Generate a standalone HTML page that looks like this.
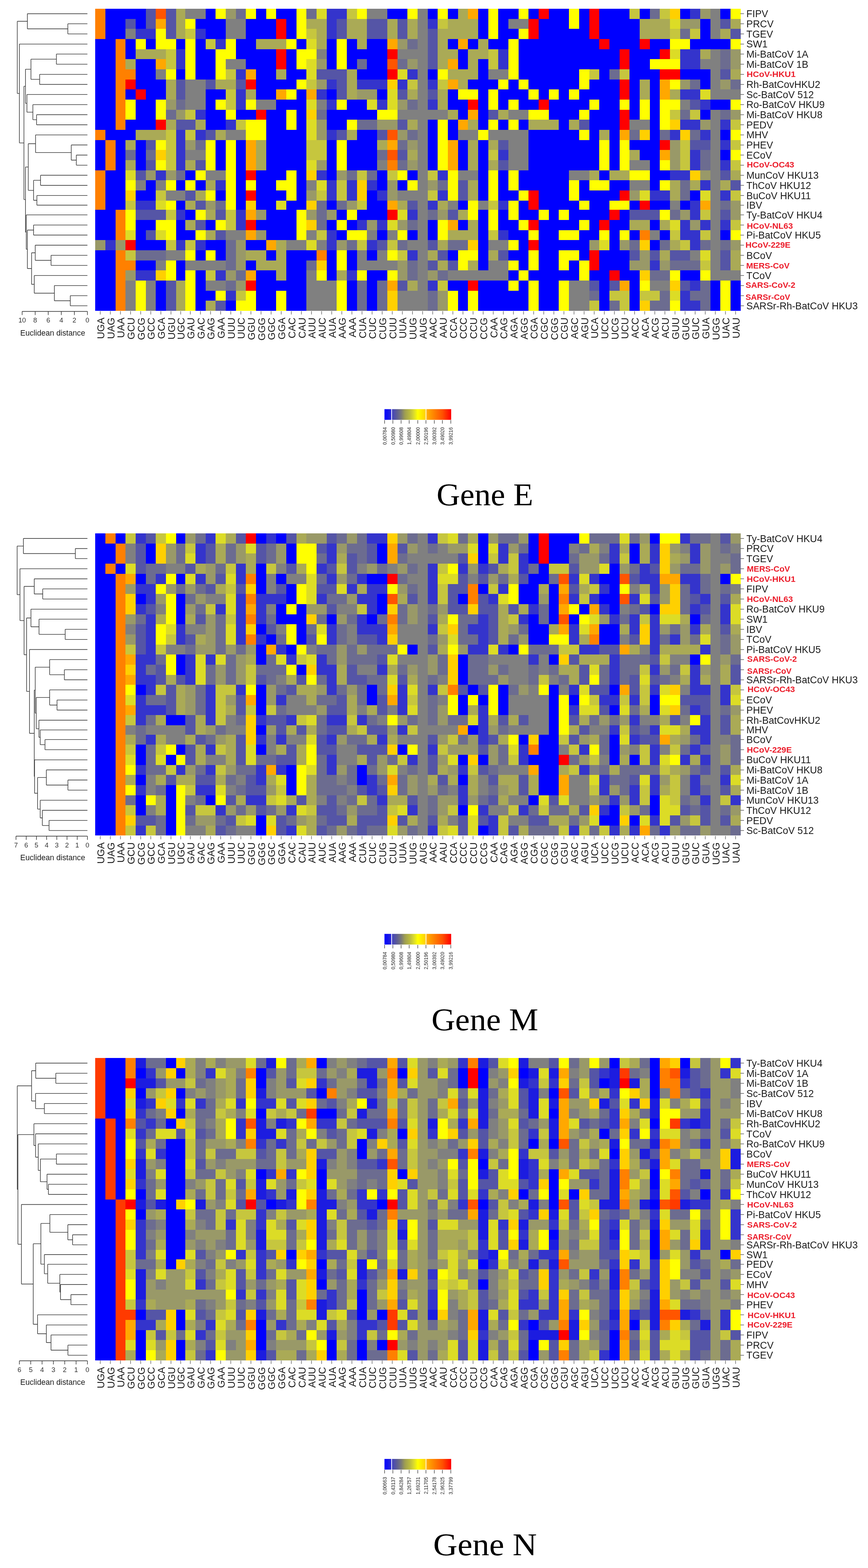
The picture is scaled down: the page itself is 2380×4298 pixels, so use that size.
<!DOCTYPE html>
<html><head><meta charset="utf-8"><title>Heatmaps</title><style>
body{margin:0;background:#fff;}
svg{display:block;}
.rl{font-family:"Liberation Sans",Arial,sans-serif;font-size:26.8px;fill:#1a1a1a;}
.red{fill:#ec1c2a;font-family:"Liberation Sans",sans-serif;font-weight:bold;font-size:22.2px;}
.cl{font-family:"Liberation Sans",Arial,sans-serif;font-size:27px;fill:#1a1a1a;text-anchor:end;}
.al{font-family:"Liberation Sans",Arial,sans-serif;font-size:18.5px;fill:#333;text-anchor:middle;}
.en{font-family:"Liberation Sans",Arial,sans-serif;font-size:21.2px;fill:#1a1a1a;text-anchor:middle;}
.ti{font-family:"Liberation Serif",serif;font-size:86px;fill:#000;text-anchor:middle;}
.cb{font-family:"Liberation Sans",Arial,sans-serif;font-size:14.5px;fill:#222;text-anchor:end;}
</style></head><body>
<svg width="2380" height="4298" viewBox="0 0 2380 4298">
<rect width="100%" height="100%" fill="#fff"/>
<g shape-rendering="crispEdges"><path fill="#ff8000" d="M261.1 23.8H288.8V51.5H261.1zM261.1 51.5H288.8V79.1H261.1zM261.1 79.1H288.8V106.8H261.1zM316.5 106.8H344.2V134.5H316.5zM316.5 134.5H344.2V162.2H316.5zM316.5 162.2H344.2V189.8H316.5zM316.5 189.8H371.9V217.5H316.5zM316.5 217.5H344.2V245.2H316.5zM316.5 245.2H344.2V272.9H316.5zM316.5 272.9H344.2V300.5H316.5zM316.5 300.5H344.2V328.2H316.5zM316.5 328.2H344.2V355.9H316.5zM261.1 355.9H288.8V383.6H261.1zM288.8 383.6H316.5V411.2H288.8zM288.8 411.2H316.5V438.9H288.8zM288.8 438.9H316.5V466.6H288.8zM1061.8 438.9H1089.5V466.6H1061.8zM261.1 466.6H288.8V494.3H261.1zM261.1 494.3H288.8V521.9H261.1zM261.1 521.9H288.8V549.6H261.1zM261.1 549.6H288.8V575.2H261.1zM316.5 575.2H344.2V602.9H316.5zM316.5 602.9H344.2V630.6H316.5zM316.5 630.6H344.2V658.3H316.5zM1753.9 630.6H1781.6V658.3H1753.9zM316.5 685.9H344.2V713.6H316.5zM868.0 685.9H895.7V713.6H868.0zM316.5 713.6H371.9V741.3H316.5zM316.5 741.3H344.2V769.0H316.5zM316.5 769.0H344.2V796.7H316.5zM316.5 796.7H344.2V824.4H316.5zM316.5 824.4H344.2V852.1H316.5z"/>
<path fill="#0000ff" d="M288.8 23.8H399.6V51.5H288.8zM563.5 23.8H591.2V51.5H563.5zM701.9 23.8H729.6V51.5H701.9zM757.3 23.8H812.6V51.5H757.3zM1061.8 23.8H1117.1V51.5H1061.8zM1172.5 23.8H1200.2V51.5H1172.5zM1227.9 23.8H1255.6V51.5H1227.9zM1310.9 23.8H1338.6V51.5H1310.9zM1366.3 23.8H1421.7V51.5H1366.3zM1449.4 23.8H1477.0V51.5H1449.4zM1504.7 23.8H1560.1V51.5H1504.7zM1587.8 23.8H1615.5V51.5H1587.8zM1643.1 23.8H1726.2V51.5H1643.1zM1753.9 23.8H1781.6V51.5H1753.9zM1864.6 23.8H1892.3V51.5H1864.6zM1975.4 23.8H2003.0V51.5H1975.4zM288.8 51.5H344.2V79.1H288.8zM371.9 51.5H399.6V79.1H371.9zM535.8 51.5H618.8V79.1H535.8zM674.2 51.5H757.3V79.1H674.2zM784.9 51.5H812.6V79.1H784.9zM1310.9 51.5H1338.6V79.1H1310.9zM1366.3 51.5H1394.0V79.1H1366.3zM1477.0 51.5H1560.1V79.1H1477.0zM1587.8 51.5H1615.5V79.1H1587.8zM1643.1 51.5H1753.9V79.1H1643.1zM1920.0 51.5H1947.7V79.1H1920.0zM288.8 79.1H344.2V106.8H288.8zM563.5 79.1H618.8V106.8H563.5zM674.2 79.1H757.3V106.8H674.2zM784.9 79.1H812.6V106.8H784.9zM1310.9 79.1H1338.6V106.8H1310.9zM1366.3 79.1H1421.7V106.8H1366.3zM1477.0 79.1H1615.5V106.8H1477.0zM1643.1 79.1H1753.9V106.8H1643.1zM1920.0 79.1H1947.7V106.8H1920.0zM261.1 106.8H316.5V134.5H261.1zM344.2 106.8H371.9V134.5H344.2zM399.6 106.8H427.2V134.5H399.6zM482.6 106.8H508.1V134.5H482.6zM535.8 106.8H563.5V134.5H535.8zM646.5 106.8H701.9V134.5H646.5zM812.6 106.8H840.3V134.5H812.6zM895.7 106.8H923.4V134.5H895.7zM951.0 106.8H978.7V134.5H951.0zM1006.4 106.8H1061.8V134.5H1006.4zM1227.9 106.8H1255.6V134.5H1227.9zM1283.3 106.8H1310.9V134.5H1283.3zM1338.6 106.8H1394.0V134.5H1338.6zM1421.7 106.8H1643.1V134.5H1421.7zM1670.8 106.8H1753.9V134.5H1670.8zM1781.6 106.8H1836.9V134.5H1781.6zM1892.3 106.8H2003.0V134.5H1892.3zM261.1 134.5H316.5V162.2H261.1zM344.2 134.5H371.9V162.2H344.2zM535.8 134.5H591.2V162.2H535.8zM646.5 134.5H757.3V162.2H646.5zM784.9 134.5H812.6V162.2H784.9zM895.7 134.5H923.4V162.2H895.7zM951.0 134.5H1061.8V162.2H951.0zM1255.6 134.5H1283.3V162.2H1255.6zM1421.7 134.5H1698.5V162.2H1421.7zM1726.2 134.5H1809.2V162.2H1726.2zM261.1 162.2H316.5V189.8H261.1zM371.9 162.2H427.2V189.8H371.9zM535.8 162.2H591.2V189.8H535.8zM674.2 162.2H757.3V189.8H674.2zM784.9 162.2H812.6V189.8H784.9zM895.7 162.2H923.4V189.8H895.7zM951.0 162.2H978.7V189.8H951.0zM1006.4 162.2H1061.8V189.8H1006.4zM1255.6 162.2H1283.3V189.8H1255.6zM1310.9 162.2H1338.6V189.8H1310.9zM1421.7 162.2H1698.5V189.8H1421.7zM1726.2 162.2H1781.6V189.8H1726.2zM261.1 189.8H316.5V217.5H261.1zM371.9 189.8H427.2V217.5H371.9zM482.6 189.8H508.1V217.5H482.6zM535.8 189.8H591.2V217.5H535.8zM701.9 189.8H757.3V217.5H701.9zM784.9 189.8H840.3V217.5H784.9zM978.7 189.8H1061.8V217.5H978.7zM1172.5 189.8H1200.2V217.5H1172.5zM1310.9 189.8H1338.6V217.5H1310.9zM1421.7 189.8H1587.8V217.5H1421.7zM1643.1 189.8H1670.8V217.5H1643.1zM1726.2 189.8H1809.2V217.5H1726.2zM1864.6 189.8H1947.7V217.5H1864.6zM261.1 217.5H316.5V245.2H261.1zM371.9 217.5H454.9V245.2H371.9zM701.9 217.5H812.6V245.2H701.9zM1283.3 217.5H1366.3V245.2H1283.3zM1394.0 217.5H1421.7V245.2H1394.0zM1449.4 217.5H1587.8V245.2H1449.4zM1615.5 217.5H1698.5V245.2H1615.5zM1726.2 217.5H1753.9V245.2H1726.2zM1781.6 217.5H1809.2V245.2H1781.6zM1920.0 217.5H1947.7V245.2H1920.0zM261.1 245.2H316.5V272.9H261.1zM344.2 245.2H371.9V272.9H344.2zM399.6 245.2H454.9V272.9H399.6zM563.5 245.2H618.8V272.9H563.5zM701.9 245.2H757.3V272.9H701.9zM812.6 245.2H840.3V272.9H812.6zM895.7 245.2H923.4V272.9H895.7zM1034.1 245.2H1061.8V272.9H1034.1zM1227.9 245.2H1255.6V272.9H1227.9zM1310.9 245.2H1338.6V272.9H1310.9zM1366.3 245.2H1449.4V272.9H1366.3zM1477.0 245.2H1504.7V272.9H1477.0zM1532.4 245.2H1560.1V272.9H1532.4zM1587.8 245.2H1698.5V272.9H1587.8zM1726.2 245.2H1753.9V272.9H1726.2zM1781.6 245.2H1809.2V272.9H1781.6zM261.1 272.9H316.5V300.5H261.1zM371.9 272.9H427.2V300.5H371.9zM563.5 272.9H591.2V300.5H563.5zM757.3 272.9H840.3V300.5H757.3zM951.0 272.9H1006.4V300.5H951.0zM1227.9 272.9H1283.3V300.5H1227.9zM1310.9 272.9H1338.6V300.5H1310.9zM1366.3 272.9H1394.0V300.5H1366.3zM1421.7 272.9H1477.0V300.5H1421.7zM1504.7 272.9H1615.5V300.5H1504.7zM1643.1 272.9H1698.5V300.5H1643.1zM1726.2 272.9H1753.9V300.5H1726.2zM1781.6 272.9H1809.2V300.5H1781.6zM1947.7 272.9H2003.0V300.5H1947.7zM261.1 300.5H316.5V328.2H261.1zM371.9 300.5H427.2V328.2H371.9zM563.5 300.5H618.8V328.2H563.5zM646.5 300.5H701.9V328.2H646.5zM729.6 300.5H784.9V328.2H729.6zM812.6 300.5H840.3V328.2H812.6zM895.7 300.5H1034.1V328.2H895.7zM1255.6 300.5H1283.3V328.2H1255.6zM1310.9 300.5H1338.6V328.2H1310.9zM1504.7 300.5H1587.8V328.2H1504.7zM1615.5 300.5H1698.5V328.2H1615.5zM1726.2 300.5H1753.9V328.2H1726.2zM1781.6 300.5H1809.2V328.2H1781.6zM1920.0 300.5H1947.7V328.2H1920.0zM261.1 328.2H316.5V355.9H261.1zM344.2 328.2H427.2V355.9H344.2zM563.5 328.2H618.8V355.9H563.5zM729.6 328.2H784.9V355.9H729.6zM812.6 328.2H840.3V355.9H812.6zM895.7 328.2H951.0V355.9H895.7zM1172.5 328.2H1200.2V355.9H1172.5zM1227.9 328.2H1255.6V355.9H1227.9zM1310.9 328.2H1338.6V355.9H1310.9zM1366.3 328.2H1394.0V355.9H1366.3zM1421.7 328.2H1449.4V355.9H1421.7zM1532.4 328.2H1560.1V355.9H1532.4zM1615.5 328.2H1698.5V355.9H1615.5zM1781.6 328.2H1809.2V355.9H1781.6zM288.8 355.9H371.9V383.6H288.8zM729.6 355.9H840.3V383.6H729.6zM978.7 355.9H1034.1V383.6H978.7zM1172.5 355.9H1200.2V383.6H1172.5zM1227.9 355.9H1255.6V383.6H1227.9zM1449.4 355.9H1587.8V383.6H1449.4zM1615.5 355.9H1643.1V383.6H1615.5zM1670.8 355.9H1698.5V383.6H1670.8zM1781.6 355.9H1809.2V383.6H1781.6zM1975.4 355.9H2003.0V383.6H1975.4zM261.1 383.6H288.8V411.2H261.1zM316.5 383.6H344.2V411.2H316.5zM371.9 383.6H399.6V411.2H371.9zM591.2 383.6H618.8V411.2H591.2zM646.5 383.6H674.2V411.2H646.5zM729.6 383.6H840.3V411.2H729.6zM895.7 383.6H923.4V411.2H895.7zM951.0 383.6H1034.1V411.2H951.0zM1172.5 383.6H1200.2V411.2H1172.5zM1255.6 383.6H1283.3V411.2H1255.6zM1310.9 383.6H1338.6V411.2H1310.9zM1449.4 383.6H1643.1V411.2H1449.4zM1670.8 383.6H1698.5V411.2H1670.8zM1726.2 383.6H1809.2V411.2H1726.2zM261.1 411.2H288.8V438.9H261.1zM316.5 411.2H344.2V438.9H316.5zM371.9 411.2H399.6V438.9H371.9zM591.2 411.2H618.8V438.9H591.2zM646.5 411.2H674.2V438.9H646.5zM729.6 411.2H840.3V438.9H729.6zM895.7 411.2H923.4V438.9H895.7zM951.0 411.2H1034.1V438.9H951.0zM1172.5 411.2H1200.2V438.9H1172.5zM1255.6 411.2H1283.3V438.9H1255.6zM1310.9 411.2H1338.6V438.9H1310.9zM1449.4 411.2H1643.1V438.9H1449.4zM1670.8 411.2H1698.5V438.9H1670.8zM1753.9 411.2H1809.2V438.9H1753.9zM1975.4 411.2H2003.0V438.9H1975.4zM261.1 438.9H288.8V466.6H261.1zM316.5 438.9H344.2V466.6H316.5zM371.9 438.9H399.6V466.6H371.9zM591.2 438.9H618.8V466.6H591.2zM646.5 438.9H674.2V466.6H646.5zM729.6 438.9H840.3V466.6H729.6zM895.7 438.9H923.4V466.6H895.7zM951.0 438.9H1034.1V466.6H951.0zM1172.5 438.9H1200.2V466.6H1172.5zM1255.6 438.9H1283.3V466.6H1255.6zM1310.9 438.9H1338.6V466.6H1310.9zM1449.4 438.9H1643.1V466.6H1449.4zM1670.8 438.9H1698.5V466.6H1670.8zM1781.6 438.9H1809.2V466.6H1781.6zM288.8 466.6H344.2V494.3H288.8zM508.1 466.6H535.8V494.3H508.1zM646.5 466.6H674.2V494.3H646.5zM701.9 466.6H784.9V494.3H701.9zM812.6 466.6H840.3V494.3H812.6zM895.7 466.6H923.4V494.3H895.7zM1034.1 466.6H1061.8V494.3H1034.1zM1117.1 466.6H1144.8V494.3H1117.1zM1310.9 466.6H1338.6V494.3H1310.9zM1366.3 466.6H1394.0V494.3H1366.3zM1421.7 466.6H1560.1V494.3H1421.7zM1643.1 466.6H1670.8V494.3H1643.1zM1781.6 466.6H1836.9V494.3H1781.6zM288.8 494.3H344.2V521.9H288.8zM399.6 494.3H427.2V521.9H399.6zM482.6 494.3H508.1V521.9H482.6zM535.8 494.3H563.5V521.9H535.8zM646.5 494.3H674.2V521.9H646.5zM701.9 494.3H757.3V521.9H701.9zM812.6 494.3H840.3V521.9H812.6zM1034.1 494.3H1061.8V521.9H1034.1zM1089.5 494.3H1117.1V521.9H1089.5zM1310.9 494.3H1338.6V521.9H1310.9zM1366.3 494.3H1394.0V521.9H1366.3zM1421.7 494.3H1560.1V521.9H1421.7zM1587.8 494.3H1615.5V521.9H1587.8zM1670.8 494.3H1726.2V521.9H1670.8zM1781.6 494.3H1809.2V521.9H1781.6zM288.8 521.9H344.2V549.6H288.8zM371.9 521.9H427.2V549.6H371.9zM591.2 521.9H618.8V549.6H591.2zM646.5 521.9H674.2V549.6H646.5zM701.9 521.9H784.9V549.6H701.9zM812.6 521.9H840.3V549.6H812.6zM1006.4 521.9H1034.1V549.6H1006.4zM1310.9 521.9H1338.6V549.6H1310.9zM1366.3 521.9H1421.7V549.6H1366.3zM1477.0 521.9H1560.1V549.6H1477.0zM1587.8 521.9H1698.5V549.6H1587.8zM1892.3 521.9H1920.0V549.6H1892.3zM288.8 549.6H344.2V575.2H288.8zM482.6 549.6H508.1V575.2H482.6zM646.5 549.6H674.2V575.2H646.5zM701.9 549.6H757.3V575.2H701.9zM784.9 549.6H840.3V575.2H784.9zM895.7 549.6H923.4V575.2H895.7zM1006.4 549.6H1061.8V575.2H1006.4zM1255.6 549.6H1283.3V575.2H1255.6zM1421.7 549.6H1449.4V575.2H1421.7zM1477.0 549.6H1587.8V575.2H1477.0zM1615.5 549.6H1670.8V575.2H1615.5zM1726.2 549.6H1753.9V575.2H1726.2zM1781.6 549.6H1836.9V575.2H1781.6zM1864.6 549.6H1892.3V575.2H1864.6zM261.1 575.2H316.5V602.9H261.1zM508.1 575.2H535.8V602.9H508.1zM729.6 575.2H812.6V602.9H729.6zM923.4 575.2H951.0V602.9H923.4zM978.7 575.2H1061.8V602.9H978.7zM1310.9 575.2H1338.6V602.9H1310.9zM1366.3 575.2H1394.0V602.9H1366.3zM1421.7 575.2H1477.0V602.9H1421.7zM1504.7 575.2H1532.4V602.9H1504.7zM1560.1 575.2H1670.8V602.9H1560.1zM1698.5 575.2H1726.2V602.9H1698.5zM261.1 602.9H316.5V630.6H261.1zM371.9 602.9H427.2V630.6H371.9zM482.6 602.9H508.1V630.6H482.6zM563.5 602.9H591.2V630.6H563.5zM701.9 602.9H812.6V630.6H701.9zM895.7 602.9H923.4V630.6H895.7zM951.0 602.9H978.7V630.6H951.0zM1172.5 602.9H1200.2V630.6H1172.5zM1255.6 602.9H1283.3V630.6H1255.6zM1310.9 602.9H1338.6V630.6H1310.9zM1366.3 602.9H1421.7V630.6H1366.3zM1477.0 602.9H1587.8V630.6H1477.0zM1615.5 602.9H1643.1V630.6H1615.5zM1670.8 602.9H1726.2V630.6H1670.8zM1781.6 602.9H1809.2V630.6H1781.6zM261.1 630.6H316.5V658.3H261.1zM371.9 630.6H399.6V658.3H371.9zM482.6 630.6H535.8V658.3H482.6zM729.6 630.6H812.6V658.3H729.6zM923.4 630.6H951.0V658.3H923.4zM1034.1 630.6H1061.8V658.3H1034.1zM1117.1 630.6H1144.8V658.3H1117.1zM1172.5 630.6H1200.2V658.3H1172.5zM1310.9 630.6H1338.6V658.3H1310.9zM1394.0 630.6H1449.4V658.3H1394.0zM1477.0 630.6H1532.4V658.3H1477.0zM1587.8 630.6H1643.1V658.3H1587.8zM1670.8 630.6H1698.5V658.3H1670.8zM1726.2 630.6H1753.9V658.3H1726.2zM1809.2 630.6H1836.9V658.3H1809.2zM1975.4 630.6H2003.0V658.3H1975.4zM371.9 658.3H454.9V685.9H371.9zM563.5 658.3H618.8V685.9H563.5zM674.2 658.3H729.6V685.9H674.2zM1310.9 658.3H1338.6V685.9H1310.9zM1421.7 658.3H1449.4V685.9H1421.7zM1477.0 658.3H1615.5V685.9H1477.0zM1670.8 658.3H1698.5V685.9H1670.8zM1781.6 658.3H1809.2V685.9H1781.6zM261.1 685.9H316.5V713.6H261.1zM535.8 685.9H563.5V713.6H535.8zM591.2 685.9H618.8V713.6H591.2zM729.6 685.9H757.3V713.6H729.6zM784.9 685.9H868.0V713.6H784.9zM895.7 685.9H923.4V713.6H895.7zM951.0 685.9H978.7V713.6H951.0zM1006.4 685.9H1034.1V713.6H1006.4zM1227.9 685.9H1255.6V713.6H1227.9zM1310.9 685.9H1338.6V713.6H1310.9zM1394.0 685.9H1449.4V713.6H1394.0zM1477.0 685.9H1532.4V713.6H1477.0zM1587.8 685.9H1615.5V713.6H1587.8zM1643.1 685.9H1726.2V713.6H1643.1zM261.1 713.6H316.5V741.3H261.1zM371.9 713.6H427.2V741.3H371.9zM482.6 713.6H508.1V741.3H482.6zM674.2 713.6H701.9V741.3H674.2zM784.9 713.6H840.3V741.3H784.9zM895.7 713.6H923.4V741.3H895.7zM951.0 713.6H978.7V741.3H951.0zM1310.9 713.6H1338.6V741.3H1310.9zM1421.7 713.6H1449.4V741.3H1421.7zM1477.0 713.6H1532.4V741.3H1477.0zM1560.1 713.6H1587.8V741.3H1560.1zM1643.1 713.6H1726.2V741.3H1643.1zM261.1 741.3H316.5V769.0H261.1zM482.6 741.3H508.1V769.0H482.6zM535.8 741.3H563.5V769.0H535.8zM701.9 741.3H757.3V769.0H701.9zM784.9 741.3H840.3V769.0H784.9zM895.7 741.3H923.4V769.0H895.7zM1006.4 741.3H1061.8V769.0H1006.4zM1394.0 741.3H1421.7V769.0H1394.0zM1449.4 741.3H1587.8V769.0H1449.4zM1615.5 741.3H1670.8V769.0H1615.5zM1698.5 741.3H1753.9V769.0H1698.5zM1864.6 741.3H1920.0V769.0H1864.6zM261.1 769.0H316.5V796.7H261.1zM427.2 769.0H454.9V796.7H427.2zM535.8 769.0H563.5V796.7H535.8zM701.9 769.0H840.3V796.7H701.9zM951.0 769.0H978.7V796.7H951.0zM1006.4 769.0H1034.1V796.7H1006.4zM1227.9 769.0H1283.3V796.7H1227.9zM1310.9 769.0H1394.0V796.7H1310.9zM1421.7 769.0H1449.4V796.7H1421.7zM1477.0 769.0H1532.4V796.7H1477.0zM1643.1 769.0H1670.8V796.7H1643.1zM1726.2 769.0H1753.9V796.7H1726.2zM1947.7 769.0H1975.4V796.7H1947.7zM2003.0 769.0H2030.7V796.7H2003.0zM261.1 796.7H316.5V824.4H261.1zM427.2 796.7H454.9V824.4H427.2zM535.8 796.7H591.2V824.4H535.8zM701.9 796.7H757.3V824.4H701.9zM784.9 796.7H840.3V824.4H784.9zM951.0 796.7H978.7V824.4H951.0zM1006.4 796.7H1034.1V824.4H1006.4zM1255.6 796.7H1283.3V824.4H1255.6zM1310.9 796.7H1449.4V824.4H1310.9zM1477.0 796.7H1532.4V824.4H1477.0zM1643.1 796.7H1670.8V824.4H1643.1zM1726.2 796.7H1753.9V824.4H1726.2zM1947.7 796.7H1975.4V824.4H1947.7zM2003.0 796.7H2030.7V824.4H2003.0zM261.1 824.4H316.5V852.1H261.1zM427.2 824.4H454.9V852.1H427.2zM535.8 824.4H563.5V852.1H535.8zM618.8 824.4H646.5V852.1H618.8zM701.9 824.4H757.3V852.1H701.9zM784.9 824.4H840.3V852.1H784.9zM951.0 824.4H978.7V852.1H951.0zM1006.4 824.4H1034.1V852.1H1006.4zM1255.6 824.4H1283.3V852.1H1255.6zM1310.9 824.4H1449.4V852.1H1310.9zM1477.0 824.4H1532.4V852.1H1477.0zM1643.1 824.4H1670.8V852.1H1643.1zM1726.2 824.4H1753.9V852.1H1726.2zM1947.7 824.4H1975.4V852.1H1947.7zM2003.0 824.4H2030.7V852.1H2003.0z"/>
<path fill="#5555a6" d="M399.6 23.8H427.2V51.5H399.6zM454.9 23.8H482.6V51.5H454.9zM344.2 51.5H371.9V79.1H344.2zM399.6 51.5H427.2V79.1H399.6zM454.9 51.5H482.6V79.1H454.9zM923.4 51.5H951.0V79.1H923.4zM1006.4 51.5H1061.8V79.1H1006.4zM1089.5 51.5H1117.1V79.1H1089.5zM1975.4 51.5H2003.0V79.1H1975.4zM454.9 79.1H482.6V106.8H454.9zM923.4 79.1H951.0V106.8H923.4zM1006.4 79.1H1061.8V106.8H1006.4zM1089.5 79.1H1117.1V106.8H1089.5zM1172.5 79.1H1200.2V106.8H1172.5zM2003.0 79.1H2030.7V106.8H2003.0zM1172.5 106.8H1200.2V134.5H1172.5zM1172.5 134.5H1200.2V162.2H1172.5zM1172.5 162.2H1200.2V189.8H1172.5zM868.0 189.8H951.0V217.5H868.0zM1975.4 189.8H2003.0V217.5H1975.4zM482.6 217.5H508.1V245.2H482.6zM563.5 217.5H591.2V245.2H563.5zM646.5 217.5H674.2V245.2H646.5zM923.4 217.5H951.0V245.2H923.4zM482.6 245.2H508.1V272.9H482.6zM923.4 245.2H951.0V272.9H923.4zM1089.5 245.2H1117.1V272.9H1089.5zM1172.5 245.2H1200.2V272.9H1172.5zM1892.3 272.9H1920.0V300.5H1892.3zM1338.6 300.5H1366.3V328.2H1338.6zM482.6 328.2H535.8V355.9H482.6zM1089.5 328.2H1117.1V355.9H1089.5zM1587.8 328.2H1615.5V355.9H1587.8zM563.5 355.9H591.2V383.6H563.5zM923.4 355.9H951.0V383.6H923.4zM1034.1 355.9H1061.8V383.6H1034.1zM399.6 383.6H427.2V411.2H399.6zM1366.3 383.6H1394.0V411.2H1366.3zM1892.3 383.6H1947.7V411.2H1892.3zM1089.5 411.2H1117.1V438.9H1089.5zM399.6 438.9H427.2V466.6H399.6zM535.8 438.9H563.5V466.6H535.8zM1366.3 438.9H1394.0V466.6H1366.3zM371.9 466.6H399.6V494.3H371.9zM1975.4 466.6H2003.0V494.3H1975.4zM1255.6 494.3H1283.3V521.9H1255.6zM2003.0 494.3H2030.7V521.9H2003.0zM508.1 521.9H535.8V549.6H508.1zM1255.6 521.9H1283.3V549.6H1255.6zM535.8 549.6H563.5V575.2H535.8zM1117.1 549.6H1144.8V575.2H1117.1zM371.9 575.2H454.9V602.9H371.9zM591.2 575.2H618.8V602.9H591.2zM1227.9 575.2H1255.6V602.9H1227.9zM1726.2 575.2H1809.2V602.9H1726.2zM1975.4 575.2H2003.0V602.9H1975.4zM535.8 602.9H563.5V630.6H535.8zM399.6 630.6H427.2V658.3H399.6zM591.2 630.6H618.8V658.3H591.2zM1034.1 658.3H1061.8V685.9H1034.1zM1172.5 658.3H1200.2V685.9H1172.5zM1200.2 685.9H1227.9V713.6H1200.2zM1366.3 685.9H1394.0V713.6H1366.3zM1726.2 685.9H1753.9V713.6H1726.2zM1781.6 685.9H1809.2V713.6H1781.6zM1836.9 685.9H1892.3V713.6H1836.9zM1975.4 685.9H2003.0V713.6H1975.4zM1172.5 713.6H1200.2V741.3H1172.5zM1227.9 713.6H1255.6V741.3H1227.9zM1975.4 713.6H2003.0V741.3H1975.4zM454.9 769.0H482.6V796.7H454.9zM1089.5 769.0H1117.1V796.7H1089.5zM1615.5 769.0H1643.1V796.7H1615.5zM1670.8 769.0H1698.5V796.7H1670.8zM1864.6 769.0H1892.3V796.7H1864.6zM454.9 796.7H482.6V824.4H454.9zM454.9 824.4H482.6V852.1H454.9zM591.2 824.4H618.8V852.1H591.2z"/>
<path fill="#ff5500" d="M427.2 23.8H454.9V51.5H427.2zM1061.8 162.2H1089.5V189.8H1061.8zM1061.8 355.9H1089.5V383.6H1061.8zM1061.8 411.2H1089.5V438.9H1061.8z"/>
<path fill="#aaaa56" d="M482.6 23.8H508.1V51.5H482.6zM1255.6 23.8H1283.3V51.5H1255.6zM482.6 51.5H508.1V79.1H482.6zM840.3 51.5H895.7V79.1H840.3zM951.0 51.5H1006.4V79.1H951.0zM1061.8 51.5H1089.5V79.1H1061.8zM1117.1 51.5H1144.8V79.1H1117.1zM1227.9 51.5H1310.9V79.1H1227.9zM1753.9 51.5H1836.9V79.1H1753.9zM2003.0 51.5H2030.7V79.1H2003.0zM482.6 79.1H508.1V106.8H482.6zM868.0 79.1H895.7V106.8H868.0zM951.0 79.1H1006.4V106.8H951.0zM1061.8 79.1H1089.5V106.8H1061.8zM1117.1 79.1H1144.8V106.8H1117.1zM1200.2 79.1H1310.9V106.8H1200.2zM1753.9 79.1H1836.9V106.8H1753.9zM1975.4 79.1H2003.0V106.8H1975.4zM701.9 106.8H784.9V134.5H701.9zM868.0 106.8H895.7V134.5H868.0zM978.7 106.8H1006.4V134.5H978.7zM1200.2 106.8H1227.9V134.5H1200.2zM1310.9 106.8H1338.6V134.5H1310.9zM371.9 134.5H454.9V162.2H371.9zM1200.2 134.5H1255.6V162.2H1200.2zM1283.3 134.5H1338.6V162.2H1283.3zM1920.0 134.5H1947.7V162.2H1920.0zM344.2 162.2H371.9V189.8H344.2zM1200.2 162.2H1227.9V189.8H1200.2zM1283.3 162.2H1310.9V189.8H1283.3zM757.3 189.8H784.9V217.5H757.3zM951.0 189.8H978.7V217.5H951.0zM1227.9 189.8H1310.9V217.5H1227.9zM2003.0 189.8H2030.7V217.5H2003.0zM454.9 217.5H482.6V245.2H454.9zM591.2 217.5H646.5V245.2H591.2zM951.0 217.5H978.7V245.2H951.0zM1255.6 217.5H1283.3V245.2H1255.6zM1753.9 217.5H1781.6V245.2H1753.9zM454.9 245.2H482.6V272.9H454.9zM674.2 245.2H701.9V272.9H674.2zM951.0 245.2H978.7V272.9H951.0zM1117.1 245.2H1144.8V272.9H1117.1zM1200.2 245.2H1227.9V272.9H1200.2zM1753.9 245.2H1781.6V272.9H1753.9zM1836.9 245.2H1864.6V272.9H1836.9zM1200.2 272.9H1227.9V300.5H1200.2zM1227.9 300.5H1255.6V328.2H1227.9zM1366.3 300.5H1394.0V328.2H1366.3zM454.9 328.2H482.6V355.9H454.9zM535.8 328.2H563.5V355.9H535.8zM1117.1 328.2H1144.8V355.9H1117.1zM1283.3 328.2H1310.9V355.9H1283.3zM1449.4 328.2H1532.4V355.9H1449.4zM1560.1 328.2H1587.8V355.9H1560.1zM371.9 355.9H454.9V383.6H371.9zM591.2 355.9H618.8V383.6H591.2zM951.0 355.9H978.7V383.6H951.0zM1643.1 355.9H1670.8V383.6H1643.1zM344.2 383.6H371.9V411.2H344.2zM701.9 383.6H729.6V411.2H701.9zM1034.1 383.6H1061.8V411.2H1034.1zM1283.3 383.6H1310.9V411.2H1283.3zM1338.6 383.6H1366.3V411.2H1338.6zM701.9 411.2H729.6V438.9H701.9zM1117.1 411.2H1144.8V438.9H1117.1zM1283.3 411.2H1310.9V438.9H1283.3zM1726.2 411.2H1753.9V438.9H1726.2zM344.2 438.9H371.9V466.6H344.2zM508.1 438.9H535.8V466.6H508.1zM701.9 438.9H729.6V466.6H701.9zM1283.3 438.9H1310.9V466.6H1283.3zM1338.6 438.9H1366.3V466.6H1338.6zM1615.5 466.6H1643.1V494.3H1615.5zM1670.8 466.6H1726.2V494.3H1670.8zM2003.0 466.6H2030.7V494.3H2003.0zM563.5 494.3H591.2V521.9H563.5zM1283.3 494.3H1310.9V521.9H1283.3zM1836.9 494.3H1864.6V521.9H1836.9zM1892.3 494.3H1920.0V521.9H1892.3zM1975.4 494.3H2003.0V521.9H1975.4zM535.8 521.9H563.5V549.6H535.8zM1283.3 521.9H1310.9V549.6H1283.3zM1836.9 521.9H1864.6V549.6H1836.9zM508.1 549.6H535.8V575.2H508.1zM1089.5 549.6H1117.1V575.2H1089.5zM1200.2 549.6H1227.9V575.2H1200.2zM563.5 575.2H591.2V602.9H563.5zM1255.6 575.2H1283.3V602.9H1255.6zM508.1 602.9H535.8V630.6H508.1zM1283.3 602.9H1310.9V630.6H1283.3zM1726.2 602.9H1781.6V630.6H1726.2zM1809.2 602.9H1836.9V630.6H1809.2zM563.5 630.6H591.2V658.3H563.5zM1227.9 630.6H1310.9V658.3H1227.9zM757.3 658.3H784.9V685.9H757.3zM1200.2 658.3H1227.9V685.9H1200.2zM1836.9 658.3H1864.6V685.9H1836.9zM674.2 685.9H729.6V713.6H674.2zM757.3 685.9H784.9V713.6H757.3zM1172.5 685.9H1200.2V713.6H1172.5zM1338.6 685.9H1366.3V713.6H1338.6zM1809.2 685.9H1836.9V713.6H1809.2zM2003.0 685.9H2030.7V713.6H2003.0zM701.9 713.6H784.9V741.3H701.9zM1200.2 713.6H1227.9V741.3H1200.2zM1283.3 713.6H1310.9V741.3H1283.3zM2003.0 713.6H2030.7V741.3H2003.0zM757.3 741.3H784.9V769.0H757.3zM923.4 741.3H951.0V769.0H923.4zM482.6 769.0H508.1V796.7H482.6zM1117.1 769.0H1144.8V796.7H1117.1zM482.6 796.7H508.1V824.4H482.6zM482.6 824.4H508.1V852.1H482.6zM563.5 824.4H591.2V852.1H563.5z"/>
<path fill="#808080" d="M508.1 23.8H563.5V51.5H508.1zM1006.4 23.8H1061.8V51.5H1006.4zM1144.8 23.8H1172.5V51.5H1144.8zM1947.7 23.8H1975.4V51.5H1947.7zM618.8 51.5H674.2V79.1H618.8zM1144.8 51.5H1172.5V79.1H1144.8zM1394.0 51.5H1449.4V79.1H1394.0zM1947.7 51.5H1975.4V79.1H1947.7zM344.2 79.1H371.9V106.8H344.2zM618.8 79.1H674.2V106.8H618.8zM1144.8 79.1H1172.5V106.8H1144.8zM1947.7 79.1H1975.4V106.8H1947.7zM1144.8 106.8H1172.5V134.5H1144.8zM868.0 134.5H895.7V162.2H868.0zM1089.5 134.5H1172.5V162.2H1089.5zM1947.7 134.5H1975.4V162.2H1947.7zM618.8 162.2H674.2V189.8H618.8zM1144.8 162.2H1172.5V189.8H1144.8zM1920.0 162.2H1975.4V189.8H1920.0zM427.2 189.8H454.9V217.5H427.2zM1144.8 189.8H1172.5V217.5H1144.8zM1338.6 189.8H1394.0V217.5H1338.6zM1947.7 189.8H1975.4V217.5H1947.7zM508.1 217.5H563.5V245.2H508.1zM1144.8 217.5H1172.5V245.2H1144.8zM1947.7 217.5H1975.4V245.2H1947.7zM508.1 245.2H563.5V272.9H508.1zM1144.8 245.2H1172.5V272.9H1144.8zM1947.7 245.2H2030.7V272.9H1947.7zM508.1 272.9H563.5V300.5H508.1zM701.9 272.9H757.3V300.5H701.9zM868.0 272.9H895.7V300.5H868.0zM1144.8 272.9H1172.5V300.5H1144.8zM1864.6 272.9H1892.3V300.5H1864.6zM1089.5 300.5H1227.9V328.2H1089.5zM1394.0 300.5H1449.4V328.2H1394.0zM1947.7 300.5H1975.4V328.2H1947.7zM1144.8 328.2H1172.5V355.9H1144.8zM1726.2 328.2H1781.6V355.9H1726.2zM1947.7 328.2H1975.4V355.9H1947.7zM618.8 355.9H674.2V383.6H618.8zM1144.8 355.9H1172.5V383.6H1144.8zM1255.6 355.9H1310.9V383.6H1255.6zM1338.6 355.9H1449.4V383.6H1338.6zM1947.7 355.9H1975.4V383.6H1947.7zM1144.8 383.6H1172.5V411.2H1144.8zM1394.0 383.6H1449.4V411.2H1394.0zM1947.7 383.6H1975.4V411.2H1947.7zM508.1 411.2H563.5V438.9H508.1zM1144.8 411.2H1172.5V438.9H1144.8zM1394.0 411.2H1449.4V438.9H1394.0zM1947.7 411.2H1975.4V438.9H1947.7zM1034.1 438.9H1061.8V466.6H1034.1zM1144.8 438.9H1172.5V466.6H1144.8zM1394.0 438.9H1449.4V466.6H1394.0zM1726.2 438.9H1781.6V466.6H1726.2zM1947.7 438.9H1975.4V466.6H1947.7zM563.5 466.6H618.8V494.3H563.5zM1144.8 466.6H1172.5V494.3H1144.8zM1255.6 466.6H1310.9V494.3H1255.6zM1560.1 466.6H1615.5V494.3H1560.1zM1947.7 466.6H1975.4V494.3H1947.7zM371.9 494.3H399.6V521.9H371.9zM427.2 494.3H454.9V521.9H427.2zM840.3 494.3H868.0V521.9H840.3zM1144.8 494.3H1172.5V521.9H1144.8zM1726.2 494.3H1781.6V521.9H1726.2zM1947.7 494.3H1975.4V521.9H1947.7zM454.9 521.9H508.1V549.6H454.9zM1089.5 521.9H1172.5V549.6H1089.5zM1947.7 521.9H1975.4V549.6H1947.7zM1144.8 549.6H1172.5V575.2H1144.8zM1227.9 549.6H1255.6V575.2H1227.9zM1310.9 549.6H1338.6V575.2H1310.9zM1836.9 549.6H1864.6V575.2H1836.9zM1947.7 549.6H1975.4V575.2H1947.7zM1144.8 575.2H1172.5V602.9H1144.8zM1947.7 575.2H1975.4V602.9H1947.7zM1144.8 602.9H1172.5V630.6H1144.8zM1947.7 602.9H1975.4V630.6H1947.7zM618.8 630.6H674.2V658.3H618.8zM840.3 630.6H868.0V658.3H840.3zM1006.4 630.6H1034.1V658.3H1006.4zM1061.8 630.6H1089.5V658.3H1061.8zM1144.8 630.6H1172.5V658.3H1144.8zM1781.6 630.6H1809.2V658.3H1781.6zM1947.7 630.6H1975.4V658.3H1947.7zM784.9 658.3H840.3V685.9H784.9zM868.0 658.3H895.7V685.9H868.0zM1117.1 658.3H1172.5V685.9H1117.1zM1338.6 658.3H1394.0V685.9H1338.6zM1947.7 658.3H1975.4V685.9H1947.7zM454.9 685.9H508.1V713.6H454.9zM978.7 685.9H1006.4V713.6H978.7zM1034.1 685.9H1061.8V713.6H1034.1zM1144.8 685.9H1172.5V713.6H1144.8zM1892.3 685.9H1920.0V713.6H1892.3zM1947.7 685.9H1975.4V713.6H1947.7zM427.2 713.6H454.9V741.3H427.2zM508.1 713.6H618.8V741.3H508.1zM978.7 713.6H1089.5V741.3H978.7zM1144.8 713.6H1172.5V741.3H1144.8zM1338.6 713.6H1394.0V741.3H1338.6zM1947.7 713.6H1975.4V741.3H1947.7zM840.3 741.3H868.0V769.0H840.3zM1144.8 741.3H1172.5V769.0H1144.8zM1227.9 741.3H1394.0V769.0H1227.9zM1947.7 741.3H2030.7V769.0H1947.7zM344.2 769.0H371.9V796.7H344.2zM399.6 769.0H427.2V796.7H399.6zM563.5 769.0H618.8V796.7H563.5zM840.3 769.0H923.4V796.7H840.3zM1144.8 769.0H1172.5V796.7H1144.8zM1560.1 769.0H1615.5V796.7H1560.1zM1781.6 769.0H1836.9V796.7H1781.6zM344.2 796.7H371.9V824.4H344.2zM399.6 796.7H427.2V824.4H399.6zM840.3 796.7H923.4V824.4H840.3zM1089.5 796.7H1172.5V824.4H1089.5zM1560.1 796.7H1615.5V824.4H1560.1zM344.2 824.4H371.9V852.1H344.2zM399.6 824.4H427.2V852.1H399.6zM840.3 824.4H923.4V852.1H840.3zM1089.5 824.4H1172.5V852.1H1089.5zM1560.1 824.4H1615.5V852.1H1560.1z"/>
<path fill="#ffff00" d="M591.2 23.8H618.8V51.5H591.2zM674.2 23.8H701.9V51.5H674.2zM729.6 23.8H757.3V51.5H729.6zM812.6 23.8H840.3V51.5H812.6zM978.7 23.8H1006.4V51.5H978.7zM1117.1 23.8H1144.8V51.5H1117.1zM1200.2 23.8H1227.9V51.5H1200.2zM1338.6 23.8H1366.3V51.5H1338.6zM1421.7 23.8H1449.4V51.5H1421.7zM1560.1 23.8H1587.8V51.5H1560.1zM2003.0 23.8H2030.7V51.5H2003.0zM508.1 51.5H535.8V79.1H508.1zM812.6 51.5H840.3V79.1H812.6zM1338.6 51.5H1366.3V79.1H1338.6zM1560.1 51.5H1587.8V79.1H1560.1zM427.2 79.1H454.9V106.8H427.2zM812.6 79.1H840.3V106.8H812.6zM1338.6 79.1H1366.3V106.8H1338.6zM1421.7 79.1H1449.4V106.8H1421.7zM371.9 106.8H399.6V134.5H371.9zM427.2 106.8H482.6V134.5H427.2zM508.1 106.8H535.8V134.5H508.1zM618.8 106.8H646.5V134.5H618.8zM784.9 106.8H812.6V134.5H784.9zM923.4 106.8H951.0V134.5H923.4zM1394.0 106.8H1421.7V134.5H1394.0zM1836.9 106.8H1892.3V134.5H1836.9zM2003.0 106.8H2030.7V134.5H2003.0zM508.1 134.5H535.8V162.2H508.1zM591.2 134.5H646.5V162.2H591.2zM812.6 134.5H868.0V162.2H812.6zM923.4 134.5H951.0V162.2H923.4zM1394.0 134.5H1421.7V162.2H1394.0zM508.1 162.2H535.8V189.8H508.1zM591.2 162.2H618.8V189.8H591.2zM812.6 162.2H840.3V189.8H812.6zM923.4 162.2H951.0V189.8H923.4zM1394.0 162.2H1421.7V189.8H1394.0zM1781.6 162.2H1864.6V189.8H1781.6zM454.9 189.8H482.6V217.5H454.9zM508.1 189.8H535.8V217.5H508.1zM591.2 189.8H618.8V217.5H591.2zM1200.2 189.8H1227.9V217.5H1200.2zM1394.0 189.8H1421.7V217.5H1394.0zM1587.8 189.8H1615.5V217.5H1587.8zM812.6 217.5H840.3V245.2H812.6zM1366.3 217.5H1394.0V245.2H1366.3zM1421.7 217.5H1449.4V245.2H1421.7zM1587.8 217.5H1615.5V245.2H1587.8zM1836.9 217.5H1864.6V245.2H1836.9zM784.9 245.2H812.6V272.9H784.9zM1255.6 245.2H1310.9V272.9H1255.6zM1338.6 245.2H1366.3V272.9H1338.6zM1449.4 245.2H1477.0V272.9H1449.4zM1504.7 245.2H1532.4V272.9H1504.7zM1560.1 245.2H1587.8V272.9H1560.1zM344.2 272.9H371.9V300.5H344.2zM427.2 272.9H454.9V300.5H427.2zM591.2 272.9H618.8V300.5H591.2zM674.2 272.9H701.9V300.5H674.2zM923.4 272.9H951.0V300.5H923.4zM1338.6 272.9H1366.3V300.5H1338.6zM1394.0 272.9H1421.7V300.5H1394.0zM1615.5 272.9H1643.1V300.5H1615.5zM1698.5 272.9H1726.2V300.5H1698.5zM1753.9 272.9H1781.6V300.5H1753.9zM1809.2 272.9H1864.6V300.5H1809.2zM2003.0 272.9H2030.7V300.5H2003.0zM344.2 300.5H371.9V328.2H344.2zM427.2 300.5H454.9V328.2H427.2zM618.8 300.5H646.5V328.2H618.8zM784.9 300.5H812.6V328.2H784.9zM1034.1 300.5H1089.5V328.2H1034.1zM1449.4 300.5H1504.7V328.2H1449.4zM1587.8 300.5H1615.5V328.2H1587.8zM1753.9 300.5H1781.6V328.2H1753.9zM1809.2 300.5H1836.9V328.2H1809.2zM674.2 328.2H729.6V355.9H674.2zM784.9 328.2H812.6V355.9H784.9zM951.0 328.2H978.7V355.9H951.0zM1200.2 328.2H1227.9V355.9H1200.2zM1338.6 328.2H1366.3V355.9H1338.6zM1394.0 328.2H1421.7V355.9H1394.0zM1809.2 328.2H1836.9V355.9H1809.2zM674.2 355.9H729.6V383.6H674.2zM1200.2 355.9H1227.9V383.6H1200.2zM1310.9 355.9H1338.6V383.6H1310.9zM1587.8 355.9H1615.5V383.6H1587.8zM2003.0 355.9H2030.7V383.6H2003.0zM427.2 383.6H454.9V411.2H427.2zM563.5 383.6H591.2V411.2H563.5zM618.8 383.6H646.5V411.2H618.8zM923.4 383.6H951.0V411.2H923.4zM1200.2 383.6H1227.9V411.2H1200.2zM1643.1 383.6H1670.8V411.2H1643.1zM1698.5 383.6H1726.2V411.2H1698.5zM563.5 411.2H591.2V438.9H563.5zM618.8 411.2H646.5V438.9H618.8zM923.4 411.2H951.0V438.9H923.4zM1200.2 411.2H1227.9V438.9H1200.2zM1643.1 411.2H1670.8V438.9H1643.1zM1698.5 411.2H1726.2V438.9H1698.5zM2003.0 411.2H2030.7V438.9H2003.0zM427.2 438.9H454.9V466.6H427.2zM563.5 438.9H591.2V466.6H563.5zM618.8 438.9H646.5V466.6H618.8zM923.4 438.9H951.0V466.6H923.4zM1200.2 438.9H1227.9V466.6H1200.2zM1643.1 438.9H1670.8V466.6H1643.1zM1698.5 438.9H1726.2V466.6H1698.5zM1809.2 438.9H1836.9V466.6H1809.2zM535.8 466.6H563.5V494.3H535.8zM618.8 466.6H646.5V494.3H618.8zM784.9 466.6H812.6V494.3H784.9zM1089.5 466.6H1117.1V494.3H1089.5zM1227.9 466.6H1255.6V494.3H1227.9zM1338.6 466.6H1366.3V494.3H1338.6zM1394.0 466.6H1421.7V494.3H1394.0zM1726.2 466.6H1781.6V494.3H1726.2zM344.2 494.3H371.9V521.9H344.2zM454.9 494.3H482.6V521.9H454.9zM508.1 494.3H535.8V521.9H508.1zM618.8 494.3H646.5V521.9H618.8zM674.2 494.3H701.9V521.9H674.2zM757.3 494.3H812.6V521.9H757.3zM1117.1 494.3H1144.8V521.9H1117.1zM1227.9 494.3H1255.6V521.9H1227.9zM1338.6 494.3H1366.3V521.9H1338.6zM1394.0 494.3H1421.7V521.9H1394.0zM1560.1 494.3H1587.8V521.9H1560.1zM1615.5 494.3H1670.8V521.9H1615.5zM1809.2 494.3H1836.9V521.9H1809.2zM563.5 521.9H591.2V549.6H563.5zM618.8 521.9H646.5V549.6H618.8zM784.9 521.9H812.6V549.6H784.9zM1227.9 521.9H1255.6V549.6H1227.9zM1338.6 521.9H1366.3V549.6H1338.6zM1421.7 521.9H1449.4V549.6H1421.7zM1560.1 521.9H1587.8V549.6H1560.1zM454.9 549.6H482.6V575.2H454.9zM618.8 549.6H646.5V575.2H618.8zM1283.3 549.6H1310.9V575.2H1283.3zM1394.0 549.6H1421.7V575.2H1394.0zM1587.8 549.6H1615.5V575.2H1587.8zM1670.8 549.6H1726.2V575.2H1670.8zM344.2 575.2H371.9V602.9H344.2zM535.8 575.2H563.5V602.9H535.8zM812.6 575.2H840.3V602.9H812.6zM951.0 575.2H978.7V602.9H951.0zM1283.3 575.2H1310.9V602.9H1283.3zM1338.6 575.2H1366.3V602.9H1338.6zM1394.0 575.2H1421.7V602.9H1394.0zM1477.0 575.2H1504.7V602.9H1477.0zM1532.4 575.2H1560.1V602.9H1532.4zM1809.2 575.2H1836.9V602.9H1809.2zM344.2 602.9H371.9V630.6H344.2zM427.2 602.9H482.6V630.6H427.2zM591.2 602.9H618.8V630.6H591.2zM812.6 602.9H840.3V630.6H812.6zM923.4 602.9H951.0V630.6H923.4zM1200.2 602.9H1227.9V630.6H1200.2zM1338.6 602.9H1366.3V630.6H1338.6zM1421.7 602.9H1449.4V630.6H1421.7zM1587.8 602.9H1615.5V630.6H1587.8zM454.9 630.6H482.6V658.3H454.9zM535.8 630.6H563.5V658.3H535.8zM812.6 630.6H840.3V658.3H812.6zM951.0 630.6H1006.4V658.3H951.0zM1089.5 630.6H1117.1V658.3H1089.5zM1200.2 630.6H1227.9V658.3H1200.2zM1449.4 630.6H1477.0V658.3H1449.4zM1532.4 630.6H1587.8V658.3H1532.4zM1643.1 630.6H1670.8V658.3H1643.1zM1698.5 630.6H1726.2V658.3H1698.5zM2003.0 630.6H2030.7V658.3H2003.0zM1394.0 658.3H1421.7V685.9H1394.0zM508.1 685.9H535.8V713.6H508.1zM563.5 685.9H591.2V713.6H563.5zM923.4 685.9H951.0V713.6H923.4zM1061.8 685.9H1089.5V713.6H1061.8zM1255.6 685.9H1310.9V713.6H1255.6zM1449.4 685.9H1477.0V713.6H1449.4zM1532.4 685.9H1587.8V713.6H1532.4zM454.9 713.6H482.6V741.3H454.9zM923.4 713.6H951.0V741.3H923.4zM1255.6 713.6H1283.3V741.3H1255.6zM1394.0 713.6H1421.7V741.3H1394.0zM1449.4 713.6H1477.0V741.3H1449.4zM1532.4 713.6H1560.1V741.3H1532.4zM1587.8 713.6H1615.5V741.3H1587.8zM454.9 741.3H482.6V769.0H454.9zM508.1 741.3H535.8V769.0H508.1zM868.0 741.3H895.7V769.0H868.0zM978.7 741.3H1006.4V769.0H978.7zM1061.8 741.3H1089.5V769.0H1061.8zM1421.7 741.3H1449.4V769.0H1421.7zM1587.8 741.3H1615.5V769.0H1587.8zM1836.9 741.3H1864.6V769.0H1836.9zM1920.0 741.3H1947.7V769.0H1920.0zM371.9 769.0H399.6V796.7H371.9zM508.1 769.0H535.8V796.7H508.1zM923.4 769.0H951.0V796.7H923.4zM1394.0 769.0H1421.7V796.7H1394.0zM1449.4 769.0H1477.0V796.7H1449.4zM1532.4 769.0H1560.1V796.7H1532.4zM1753.9 769.0H1781.6V796.7H1753.9zM1975.4 769.0H2003.0V796.7H1975.4zM371.9 796.7H399.6V824.4H371.9zM508.1 796.7H535.8V824.4H508.1zM591.2 796.7H618.8V824.4H591.2zM674.2 796.7H701.9V824.4H674.2zM757.3 796.7H784.9V824.4H757.3zM923.4 796.7H951.0V824.4H923.4zM1227.9 796.7H1255.6V824.4H1227.9zM1283.3 796.7H1310.9V824.4H1283.3zM1449.4 796.7H1477.0V824.4H1449.4zM1532.4 796.7H1560.1V824.4H1532.4zM1975.4 796.7H2003.0V824.4H1975.4zM371.9 824.4H399.6V852.1H371.9zM508.1 824.4H535.8V852.1H508.1zM646.5 824.4H701.9V852.1H646.5zM757.3 824.4H784.9V852.1H757.3zM923.4 824.4H951.0V852.1H923.4zM1227.9 824.4H1255.6V852.1H1227.9zM1283.3 824.4H1310.9V852.1H1283.3zM1449.4 824.4H1477.0V852.1H1449.4zM1532.4 824.4H1560.1V852.1H1532.4zM1836.9 824.4H1864.6V852.1H1836.9zM1975.4 824.4H2003.0V852.1H1975.4z"/>
<path fill="#999968" d="M618.8 23.8H646.5V51.5H618.8zM1920.0 23.8H1947.7V51.5H1920.0zM1864.6 51.5H1920.0V79.1H1864.6zM1089.5 106.8H1117.1V134.5H1089.5zM2003.0 134.5H2030.7V162.2H2003.0zM868.0 162.2H895.7V189.8H868.0zM1117.1 162.2H1144.8V189.8H1117.1zM2003.0 162.2H2030.7V189.8H2003.0zM868.0 217.5H895.7V245.2H868.0zM1864.6 217.5H1892.3V245.2H1864.6zM1975.4 217.5H2003.0V245.2H1975.4zM978.7 245.2H1034.1V272.9H978.7zM454.9 272.9H482.6V300.5H454.9zM1089.5 272.9H1117.1V300.5H1089.5zM482.6 300.5H508.1V328.2H482.6zM2003.0 300.5H2030.7V328.2H2003.0zM868.0 328.2H895.7V355.9H868.0zM1034.1 328.2H1089.5V355.9H1034.1zM1920.0 328.2H1947.7V355.9H1920.0zM868.0 355.9H895.7V383.6H868.0zM1089.5 355.9H1117.1V383.6H1089.5zM508.1 383.6H535.8V411.2H508.1zM1117.1 383.6H1144.8V411.2H1117.1zM1836.9 383.6H1864.6V411.2H1836.9zM1836.9 411.2H1864.6V438.9H1836.9zM868.0 438.9H895.7V466.6H868.0zM1117.1 438.9H1144.8V466.6H1117.1zM1836.9 438.9H1864.6V466.6H1836.9zM399.6 466.6H427.2V494.3H399.6zM454.9 466.6H482.6V494.3H454.9zM923.4 466.6H951.0V494.3H923.4zM1920.0 466.6H1947.7V494.3H1920.0zM1061.8 494.3H1089.5V521.9H1061.8zM1172.5 494.3H1200.2V521.9H1172.5zM840.3 521.9H868.0V549.6H840.3zM1061.8 521.9H1089.5V549.6H1061.8zM1726.2 521.9H1753.9V549.6H1726.2zM563.5 549.6H591.2V575.2H563.5zM951.0 549.6H978.7V575.2H951.0zM2003.0 549.6H2030.7V575.2H2003.0zM701.9 575.2H729.6V602.9H701.9zM840.3 575.2H868.0V602.9H840.3zM895.7 575.2H923.4V602.9H895.7zM1200.2 575.2H1227.9V602.9H1200.2zM1864.6 575.2H1892.3V602.9H1864.6zM2003.0 575.2H2030.7V602.9H2003.0zM1006.4 602.9H1034.1V630.6H1006.4zM1089.5 602.9H1117.1V630.6H1089.5zM1892.3 602.9H1920.0V630.6H1892.3zM701.9 630.6H729.6V658.3H701.9zM261.1 658.3H288.8V685.9H261.1zM316.5 658.3H344.2V685.9H316.5zM646.5 658.3H674.2V685.9H646.5zM923.4 658.3H951.0V685.9H923.4zM1615.5 658.3H1643.1V685.9H1615.5zM1698.5 658.3H1726.2V685.9H1698.5zM2003.0 658.3H2030.7V685.9H2003.0zM646.5 685.9H674.2V713.6H646.5zM1753.9 685.9H1781.6V713.6H1753.9zM646.5 713.6H674.2V741.3H646.5zM1089.5 713.6H1117.1V741.3H1089.5zM1726.2 713.6H1781.6V741.3H1726.2zM1809.2 713.6H1836.9V741.3H1809.2zM344.2 741.3H371.9V769.0H344.2zM618.8 741.3H646.5V769.0H618.8zM1089.5 741.3H1117.1V769.0H1089.5zM1172.5 741.3H1200.2V769.0H1172.5zM646.5 769.0H674.2V796.7H646.5zM1200.2 796.7H1227.9V824.4H1200.2zM1200.2 824.4H1227.9V852.1H1200.2z"/>
<path fill="#6c6c90" d="M646.5 23.8H674.2V51.5H646.5zM840.3 23.8H868.0V51.5H840.3zM1781.6 23.8H1809.2V51.5H1781.6zM1864.6 79.1H1892.3V106.8H1864.6zM1117.1 106.8H1144.8V134.5H1117.1zM1975.4 134.5H2003.0V162.2H1975.4zM978.7 162.2H1006.4V189.8H978.7zM1089.5 162.2H1117.1V189.8H1089.5zM1975.4 162.2H2003.0V189.8H1975.4zM1670.8 189.8H1698.5V217.5H1670.8zM1892.3 217.5H1920.0V245.2H1892.3zM2003.0 217.5H2030.7V245.2H2003.0zM482.6 272.9H508.1V300.5H482.6zM1117.1 272.9H1144.8V300.5H1117.1zM454.9 300.5H482.6V328.2H454.9zM868.0 300.5H895.7V328.2H868.0zM1864.6 300.5H1892.3V328.2H1864.6zM1975.4 300.5H2003.0V328.2H1975.4zM978.7 328.2H1034.1V355.9H978.7zM1117.1 355.9H1144.8V383.6H1117.1zM1726.2 355.9H1753.9V383.6H1726.2zM1809.2 355.9H1836.9V383.6H1809.2zM1892.3 355.9H1920.0V383.6H1892.3zM535.8 383.6H563.5V411.2H535.8zM1089.5 383.6H1117.1V411.2H1089.5zM344.2 411.2H371.9V438.9H344.2zM399.6 411.2H427.2V438.9H399.6zM1034.1 411.2H1061.8V438.9H1034.1zM1920.0 411.2H1947.7V438.9H1920.0zM1089.5 438.9H1117.1V466.6H1089.5zM1920.0 438.9H1947.7V466.6H1920.0zM482.6 466.6H508.1V494.3H482.6zM951.0 466.6H978.7V494.3H951.0zM1006.4 466.6H1034.1V494.3H1006.4zM1200.2 494.3H1227.9V521.9H1200.2zM1864.6 494.3H1892.3V521.9H1864.6zM1864.6 521.9H1892.3V549.6H1864.6zM591.2 549.6H618.8V575.2H591.2zM868.0 549.6H895.7V575.2H868.0zM923.4 549.6H951.0V575.2H923.4zM1975.4 549.6H2003.0V575.2H1975.4zM868.0 575.2H895.7V602.9H868.0zM1172.5 575.2H1200.2V602.9H1172.5zM1836.9 575.2H1864.6V602.9H1836.9zM868.0 602.9H895.7V630.6H868.0zM1117.1 602.9H1144.8V630.6H1117.1zM618.8 658.3H646.5V685.9H618.8zM951.0 658.3H978.7V685.9H951.0zM1089.5 658.3H1117.1V685.9H1089.5zM1227.9 658.3H1283.3V685.9H1227.9zM1726.2 658.3H1753.9V685.9H1726.2zM1809.2 658.3H1836.9V685.9H1809.2zM1920.0 658.3H1947.7V685.9H1920.0zM1975.4 658.3H2003.0V685.9H1975.4zM371.9 685.9H454.9V713.6H371.9zM618.8 685.9H646.5V713.6H618.8zM618.8 713.6H646.5V741.3H618.8zM840.3 713.6H868.0V741.3H840.3zM1117.1 713.6H1144.8V741.3H1117.1zM1836.9 713.6H1920.0V741.3H1836.9zM646.5 741.3H674.2V769.0H646.5zM1117.1 741.3H1144.8V769.0H1117.1zM1200.2 741.3H1227.9V769.0H1200.2zM1781.6 741.3H1836.9V769.0H1781.6zM618.8 769.0H646.5V796.7H618.8zM978.7 769.0H1006.4V796.7H978.7zM1034.1 769.0H1061.8V796.7H1034.1zM1920.0 769.0H1947.7V796.7H1920.0zM978.7 796.7H1006.4V824.4H978.7zM1034.1 796.7H1061.8V824.4H1034.1zM1172.5 796.7H1200.2V824.4H1172.5zM1615.5 796.7H1643.1V824.4H1615.5zM1809.2 796.7H1836.9V824.4H1809.2zM1892.3 796.7H1947.7V824.4H1892.3zM978.7 824.4H1006.4V852.1H978.7zM1034.1 824.4H1061.8V852.1H1034.1zM1172.5 824.4H1200.2V852.1H1172.5zM1670.8 824.4H1698.5V852.1H1670.8zM1781.6 824.4H1836.9V852.1H1781.6zM1920.0 824.4H1947.7V852.1H1920.0z"/>
<path fill="#dcdc26" d="M868.0 23.8H895.7V51.5H868.0zM1836.9 51.5H1864.6V79.1H1836.9zM840.3 106.8H868.0V134.5H840.3zM1836.9 134.5H1864.6V162.2H1836.9zM840.3 162.2H868.0V189.8H840.3zM840.3 189.8H868.0V217.5H840.3zM1089.5 189.8H1117.1V217.5H1089.5zM1061.8 245.2H1089.5V272.9H1061.8zM1920.0 245.2H1947.7V272.9H1920.0zM840.3 272.9H868.0V300.5H840.3zM1006.4 272.9H1034.1V300.5H1006.4zM1061.8 272.9H1089.5V300.5H1061.8zM840.3 328.2H868.0V355.9H840.3zM840.3 355.9H868.0V383.6H840.3zM840.3 438.9H868.0V466.6H840.3zM344.2 466.6H371.9V494.3H344.2zM868.0 494.3H895.7V521.9H868.0zM1753.9 521.9H1781.6V549.6H1753.9zM1920.0 521.9H1947.7V549.6H1920.0zM427.2 549.6H454.9V575.2H427.2zM757.3 549.6H784.9V575.2H757.3zM1089.5 575.2H1117.1V602.9H1089.5zM1061.8 602.9H1089.5V630.6H1061.8zM1836.9 602.9H1864.6V630.6H1836.9zM344.2 630.6H371.9V658.3H344.2zM427.2 630.6H454.9V658.3H427.2zM840.3 658.3H868.0V685.9H840.3zM1643.1 658.3H1670.8V685.9H1643.1zM1920.0 685.9H1947.7V713.6H1920.0zM1836.9 796.7H1864.6V824.4H1836.9z"/>
<path fill="#3434cc" d="M895.7 23.8H951.0V51.5H895.7zM1892.3 23.8H1920.0V51.5H1892.3zM895.7 51.5H923.4V79.1H895.7zM1172.5 51.5H1200.2V79.1H1172.5zM371.9 79.1H427.2V106.8H371.9zM535.8 79.1H563.5V106.8H535.8zM895.7 79.1H923.4V106.8H895.7zM591.2 106.8H618.8V134.5H591.2zM482.6 134.5H508.1V162.2H482.6zM1366.3 134.5H1394.0V162.2H1366.3zM1864.6 134.5H1920.0V162.2H1864.6zM482.6 162.2H508.1V189.8H482.6zM1366.3 162.2H1394.0V189.8H1366.3zM1864.6 162.2H1920.0V189.8H1864.6zM646.5 189.8H674.2V217.5H646.5zM1117.1 189.8H1144.8V217.5H1117.1zM895.7 217.5H923.4V245.2H895.7zM978.7 217.5H1061.8V245.2H978.7zM1089.5 217.5H1117.1V245.2H1089.5zM1172.5 217.5H1200.2V245.2H1172.5zM646.5 245.2H674.2V272.9H646.5zM868.0 245.2H895.7V272.9H868.0zM1864.6 245.2H1920.0V272.9H1864.6zM646.5 272.9H674.2V300.5H646.5zM895.7 272.9H923.4V300.5H895.7zM1034.1 272.9H1061.8V300.5H1034.1zM1172.5 272.9H1200.2V300.5H1172.5zM1920.0 272.9H1947.7V300.5H1920.0zM535.8 300.5H563.5V328.2H535.8zM618.8 328.2H646.5V355.9H618.8zM1864.6 328.2H1920.0V355.9H1864.6zM1975.4 328.2H2003.0V355.9H1975.4zM482.6 355.9H508.1V383.6H482.6zM535.8 355.9H563.5V383.6H535.8zM895.7 355.9H923.4V383.6H895.7zM1836.9 355.9H1864.6V383.6H1836.9zM1920.0 355.9H1947.7V383.6H1920.0zM482.6 383.6H508.1V411.2H482.6zM1975.4 383.6H2003.0V411.2H1975.4zM482.6 411.2H508.1V438.9H482.6zM1366.3 411.2H1394.0V438.9H1366.3zM1892.3 411.2H1920.0V438.9H1892.3zM482.6 438.9H508.1V466.6H482.6zM1892.3 438.9H1920.0V466.6H1892.3zM1975.4 438.9H2003.0V466.6H1975.4zM427.2 466.6H454.9V494.3H427.2zM868.0 466.6H895.7V494.3H868.0zM1200.2 466.6H1227.9V494.3H1200.2zM1836.9 466.6H1892.3V494.3H1836.9zM591.2 494.3H618.8V521.9H591.2zM895.7 494.3H923.4V521.9H895.7zM951.0 494.3H978.7V521.9H951.0zM1006.4 494.3H1034.1V521.9H1006.4zM1920.0 494.3H1947.7V521.9H1920.0zM895.7 521.9H923.4V549.6H895.7zM951.0 521.9H978.7V549.6H951.0zM1034.1 521.9H1061.8V549.6H1034.1zM1200.2 521.9H1227.9V549.6H1200.2zM1781.6 521.9H1836.9V549.6H1781.6zM1975.4 521.9H2003.0V549.6H1975.4zM371.9 549.6H427.2V575.2H371.9zM1172.5 549.6H1200.2V575.2H1172.5zM1366.3 549.6H1394.0V575.2H1366.3zM1892.3 549.6H1920.0V575.2H1892.3zM482.6 575.2H508.1V602.9H482.6zM646.5 575.2H674.2V602.9H646.5zM1117.1 575.2H1144.8V602.9H1117.1zM1892.3 575.2H1920.0V602.9H1892.3zM646.5 602.9H674.2V630.6H646.5zM978.7 602.9H1006.4V630.6H978.7zM1034.1 602.9H1061.8V630.6H1034.1zM1864.6 602.9H1892.3V630.6H1864.6zM1920.0 602.9H1947.7V630.6H1920.0zM1975.4 602.9H2003.0V630.6H1975.4zM895.7 630.6H923.4V658.3H895.7zM1366.3 630.6H1394.0V658.3H1366.3zM1864.6 630.6H1920.0V658.3H1864.6zM288.8 658.3H316.5V685.9H288.8zM482.6 658.3H508.1V685.9H482.6zM535.8 658.3H563.5V685.9H535.8zM895.7 658.3H923.4V685.9H895.7zM1006.4 658.3H1034.1V685.9H1006.4zM1892.3 658.3H1920.0V685.9H1892.3zM1117.1 685.9H1144.8V713.6H1117.1zM1781.6 713.6H1809.2V741.3H1781.6zM371.9 741.3H427.2V769.0H371.9zM591.2 741.3H618.8V769.0H591.2zM951.0 741.3H978.7V769.0H951.0zM1172.5 769.0H1200.2V796.7H1172.5zM1892.3 769.0H1920.0V796.7H1892.3zM618.8 796.7H646.5V824.4H618.8zM1864.6 796.7H1892.3V824.4H1864.6zM1864.6 824.4H1920.0V852.1H1864.6z"/>
<path fill="#c6c63e" d="M951.0 23.8H978.7V51.5H951.0zM1726.2 23.8H1753.9V51.5H1726.2zM1809.2 23.8H1836.9V51.5H1809.2zM1200.2 51.5H1227.9V79.1H1200.2zM508.1 79.1H535.8V106.8H508.1zM840.3 79.1H868.0V106.8H840.3zM1836.9 79.1H1864.6V106.8H1836.9zM1892.3 79.1H1920.0V106.8H1892.3zM563.5 106.8H591.2V134.5H563.5zM454.9 134.5H482.6V162.2H454.9zM1338.6 134.5H1366.3V162.2H1338.6zM454.9 162.2H482.6V189.8H454.9zM1338.6 162.2H1366.3V189.8H1338.6zM618.8 189.8H646.5V217.5H618.8zM1615.5 189.8H1643.1V217.5H1615.5zM1698.5 189.8H1726.2V217.5H1698.5zM840.3 217.5H868.0V245.2H840.3zM1117.1 217.5H1144.8V245.2H1117.1zM1200.2 217.5H1227.9V245.2H1200.2zM618.8 245.2H646.5V272.9H618.8zM618.8 272.9H646.5V300.5H618.8zM508.1 300.5H535.8V328.2H508.1zM1836.9 300.5H1864.6V328.2H1836.9zM1892.3 300.5H1920.0V328.2H1892.3zM646.5 328.2H674.2V355.9H646.5zM2003.0 328.2H2030.7V355.9H2003.0zM454.9 355.9H482.6V383.6H454.9zM508.1 355.9H535.8V383.6H508.1zM454.9 383.6H482.6V411.2H454.9zM840.3 383.6H895.7V411.2H840.3zM1864.6 383.6H1892.3V411.2H1864.6zM2003.0 383.6H2030.7V411.2H2003.0zM454.9 411.2H482.6V438.9H454.9zM840.3 411.2H895.7V438.9H840.3zM1338.6 411.2H1366.3V438.9H1338.6zM1864.6 411.2H1892.3V438.9H1864.6zM454.9 438.9H482.6V466.6H454.9zM1864.6 438.9H1892.3V466.6H1864.6zM2003.0 438.9H2030.7V466.6H2003.0zM978.7 466.6H1006.4V494.3H978.7zM1061.8 466.6H1089.5V494.3H1061.8zM1172.5 466.6H1200.2V494.3H1172.5zM923.4 494.3H951.0V521.9H923.4zM427.2 521.9H454.9V549.6H427.2zM868.0 521.9H895.7V549.6H868.0zM923.4 521.9H951.0V549.6H923.4zM1172.5 521.9H1200.2V549.6H1172.5zM2003.0 521.9H2030.7V549.6H2003.0zM344.2 549.6H371.9V575.2H344.2zM978.7 549.6H1006.4V575.2H978.7zM1338.6 549.6H1366.3V575.2H1338.6zM454.9 575.2H482.6V602.9H454.9zM618.8 575.2H646.5V602.9H618.8zM1920.0 575.2H1947.7V602.9H1920.0zM618.8 602.9H646.5V630.6H618.8zM2003.0 602.9H2030.7V630.6H2003.0zM868.0 630.6H895.7V658.3H868.0zM1338.6 630.6H1366.3V658.3H1338.6zM1836.9 630.6H1864.6V658.3H1836.9zM1920.0 630.6H1947.7V658.3H1920.0zM454.9 658.3H482.6V685.9H454.9zM508.1 658.3H535.8V685.9H508.1zM978.7 658.3H1006.4V685.9H978.7zM1061.8 658.3H1089.5V685.9H1061.8zM1864.6 658.3H1892.3V685.9H1864.6zM344.2 685.9H371.9V713.6H344.2zM1089.5 685.9H1117.1V713.6H1089.5zM1920.0 713.6H1947.7V741.3H1920.0zM563.5 741.3H591.2V769.0H563.5zM1200.2 769.0H1227.9V796.7H1200.2zM646.5 796.7H674.2V824.4H646.5zM1670.8 796.7H1726.2V824.4H1670.8zM1753.9 796.7H1809.2V824.4H1753.9zM1615.5 824.4H1643.1V852.1H1615.5zM1698.5 824.4H1726.2V852.1H1698.5z"/>
<path fill="#ffa800" d="M1283.3 23.8H1310.9V51.5H1283.3zM427.2 51.5H454.9V79.1H427.2zM1061.8 106.8H1089.5V134.5H1061.8zM1255.6 106.8H1283.3V134.5H1255.6zM427.2 162.2H454.9V189.8H427.2zM1227.9 162.2H1255.6V189.8H1227.9zM674.2 189.8H701.9V217.5H674.2zM1227.9 217.5H1255.6V245.2H1227.9zM1809.2 217.5H1836.9V245.2H1809.2zM757.3 245.2H784.9V272.9H757.3zM840.3 245.2H868.0V272.9H840.3zM1809.2 245.2H1836.9V272.9H1809.2zM1283.3 300.5H1310.9V328.2H1283.3zM1255.6 328.2H1283.3V355.9H1255.6zM1698.5 355.9H1726.2V383.6H1698.5zM674.2 383.6H701.9V411.2H674.2zM1061.8 383.6H1089.5V411.2H1061.8zM1227.9 383.6H1255.6V411.2H1227.9zM674.2 411.2H701.9V438.9H674.2zM1227.9 411.2H1255.6V438.9H1227.9zM1809.2 411.2H1836.9V438.9H1809.2zM674.2 438.9H701.9V466.6H674.2zM1227.9 438.9H1255.6V466.6H1227.9zM1061.8 549.6H1089.5V575.2H1061.8zM1920.0 549.6H1947.7V575.2H1920.0zM674.2 575.2H701.9V602.9H674.2zM1227.9 602.9H1255.6V630.6H1227.9zM674.2 630.6H701.9V658.3H674.2zM729.6 658.3H757.3V685.9H729.6zM674.2 741.3H701.9V769.0H674.2zM1061.8 769.0H1089.5V796.7H1061.8zM1698.5 769.0H1726.2V796.7H1698.5z"/>
<path fill="#ff0000" d="M1477.0 23.8H1504.7V51.5H1477.0zM1615.5 23.8H1643.1V51.5H1615.5zM757.3 51.5H784.9V79.1H757.3zM1449.4 51.5H1477.0V79.1H1449.4zM1615.5 51.5H1643.1V79.1H1615.5zM757.3 79.1H784.9V106.8H757.3zM1449.4 79.1H1477.0V106.8H1449.4zM1615.5 79.1H1643.1V106.8H1615.5zM1643.1 106.8H1670.8V134.5H1643.1zM1753.9 106.8H1781.6V134.5H1753.9zM757.3 134.5H784.9V162.2H757.3zM1061.8 134.5H1089.5V162.2H1061.8zM1698.5 134.5H1726.2V162.2H1698.5zM1809.2 134.5H1836.9V162.2H1809.2zM757.3 162.2H784.9V189.8H757.3zM1698.5 162.2H1726.2V189.8H1698.5zM1061.8 189.8H1089.5V217.5H1061.8zM1809.2 189.8H1864.6V217.5H1809.2zM344.2 217.5H371.9V245.2H344.2zM674.2 217.5H701.9V245.2H674.2zM1698.5 217.5H1726.2V245.2H1698.5zM371.9 245.2H399.6V272.9H371.9zM1698.5 245.2H1726.2V272.9H1698.5zM1283.3 272.9H1310.9V300.5H1283.3zM1477.0 272.9H1504.7V300.5H1477.0zM701.9 300.5H729.6V328.2H701.9zM1698.5 300.5H1726.2V328.2H1698.5zM427.2 328.2H454.9V355.9H427.2zM1698.5 328.2H1726.2V355.9H1698.5zM1809.2 383.6H1836.9V411.2H1809.2zM674.2 466.6H701.9V494.3H674.2zM674.2 521.9H701.9V549.6H674.2zM1449.4 521.9H1477.0V549.6H1449.4zM1698.5 521.9H1726.2V549.6H1698.5zM1449.4 549.6H1477.0V575.2H1449.4zM1753.9 549.6H1781.6V575.2H1753.9zM1061.8 575.2H1089.5V602.9H1061.8zM1670.8 575.2H1698.5V602.9H1670.8zM674.2 602.9H701.9V630.6H674.2zM1449.4 602.9H1477.0V630.6H1449.4zM1643.1 602.9H1670.8V630.6H1643.1zM344.2 658.3H371.9V685.9H344.2zM1449.4 658.3H1477.0V685.9H1449.4zM1615.5 685.9H1643.1V713.6H1615.5zM1615.5 713.6H1643.1V741.3H1615.5zM1670.8 741.3H1698.5V769.0H1670.8zM674.2 769.0H701.9V796.7H674.2zM1283.3 769.0H1310.9V796.7H1283.3z"/>
<path fill="#ffd000" d="M1836.9 23.8H1864.6V51.5H1836.9zM1061.8 217.5H1089.5V245.2H1061.8zM840.3 300.5H868.0V328.2H840.3zM1836.9 328.2H1864.6V355.9H1836.9zM1753.9 355.9H1781.6V383.6H1753.9zM1864.6 355.9H1892.3V383.6H1864.6zM427.2 411.2H454.9V438.9H427.2zM840.3 466.6H868.0V494.3H840.3zM1892.3 466.6H1920.0V494.3H1892.3zM978.7 494.3H1006.4V521.9H978.7zM344.2 521.9H371.9V549.6H344.2zM978.7 521.9H1006.4V549.6H978.7zM674.2 549.6H701.9V575.2H674.2zM840.3 549.6H868.0V575.2H840.3zM840.3 602.9H868.0V630.6H840.3zM1283.3 658.3H1310.9V685.9H1283.3zM1753.9 658.3H1781.6V685.9H1753.9zM868.0 713.6H895.7V741.3H868.0zM427.2 741.3H454.9V769.0H427.2zM1753.9 741.3H1781.6V769.0H1753.9zM1836.9 769.0H1864.6V796.7H1836.9zM1061.8 796.7H1089.5V824.4H1061.8zM1061.8 824.4H1089.5V852.1H1061.8zM1753.9 824.4H1781.6V852.1H1753.9z"/></g>
<path d="M2030 37.6H2040M2030 65.3H2040M2030 93.0H2040M2030 120.7H2040M2030 148.3H2040M2030 176.0H2040M2030 203.7H2040M2030 231.4H2040M2030 259.0H2040M2030 286.7H2040M2030 314.4H2040M2030 342.1H2040M2030 369.7H2040M2030 397.4H2040M2030 425.1H2040M2030 452.7H2040M2030 480.4H2040M2030 508.1H2040M2030 535.8H2040M2030 562.4H2040M2030 589.0H2040M2030 616.7H2040M2030 644.4H2040M2030 672.1H2040M2030 699.8H2040M2030 727.5H2040M2030 755.2H2040M2030 782.8H2040M2030 810.5H2040M2030 838.2H2040" stroke="#555" stroke-width="1.5" fill="none"/>
<text x="2046.6" y="47.3" class="rl">FIPV</text>
<text x="2046.6" y="75.0" class="rl">PRCV</text>
<text x="2046.6" y="102.7" class="rl">TGEV</text>
<text x="2046.6" y="130.4" class="rl">SW1</text>
<text x="2046.6" y="158.0" class="rl">Mi-BatCoV 1A</text>
<text x="2046.6" y="185.7" class="rl">Mi-BatCoV 1B</text>
<text transform="translate(2047.3,211.2) scale(1.056,1)" class="rl red">HCoV-HKU1</text>
<text x="2046.6" y="241.1" class="rl">Rh-BatCovHKU2</text>
<text x="2046.6" y="268.7" class="rl">Sc-BatCoV 512</text>
<text x="2046.6" y="296.4" class="rl">Ro-BatCoV HKU9</text>
<text x="2046.6" y="324.1" class="rl">Mi-BatCoV HKU8</text>
<text x="2046.6" y="351.8" class="rl">PEDV</text>
<text x="2046.6" y="379.4" class="rl">MHV</text>
<text x="2046.6" y="407.1" class="rl">PHEV</text>
<text x="2046.6" y="434.8" class="rl">ECoV</text>
<text transform="translate(2047.7,458.8) scale(1.044,1)" class="rl red">HCoV-OC43</text>
<text x="2046.6" y="490.1" class="rl">MunCoV HKU13</text>
<text x="2046.6" y="517.8" class="rl">ThCoV HKU12</text>
<text x="2046.6" y="545.5" class="rl">BuCoV HKU11</text>
<text x="2046.6" y="572.1" class="rl">IBV</text>
<text x="2046.6" y="598.7" class="rl">Ty-BatCoV HKU4</text>
<text transform="translate(2047.7,626.8) scale(1.047,1)" class="rl red">HCoV-NL63</text>
<text x="2046.6" y="654.1" class="rl">Pi-BatCoV HKU5</text>
<text transform="translate(2043.9,678.5) scale(1.044,1)" class="rl red">HCoV-229E</text>
<text x="2046.6" y="709.5" class="rl">BCoV</text>
<text transform="translate(2046.0,735.7) scale(1.026,1)" class="rl red">MERS-CoV</text>
<text x="2046.6" y="764.9" class="rl">TCoV</text>
<text transform="translate(2044.2,789.0) scale(1.034,1)" class="rl red">SARS-CoV-2</text>
<text transform="translate(2044.2,821.9) scale(1.002,1)" class="rl red">SARSr-CoV</text>
<text x="2046.6" y="847.9" class="rl">SARSr-Rh-BatCoV HKU3</text>
<path d="M274.9 853.1V862.1M302.6 853.1V862.1M330.3 853.1V862.1M358.0 853.1V862.1M385.7 853.1V862.1M413.4 853.1V862.1M441.1 853.1V862.1M468.8 853.1V862.1M495.4 853.1V862.1M521.9 853.1V862.1M549.6 853.1V862.1M577.3 853.1V862.1M605.0 853.1V862.1M632.7 853.1V862.1M660.4 853.1V862.1M688.0 853.1V862.1M715.7 853.1V862.1M743.4 853.1V862.1M771.1 853.1V862.1M798.8 853.1V862.1M826.5 853.1V862.1M854.1 853.1V862.1M881.8 853.1V862.1M909.5 853.1V862.1M937.2 853.1V862.1M964.9 853.1V862.1M992.6 853.1V862.1M1020.3 853.1V862.1M1047.9 853.1V862.1M1075.6 853.1V862.1M1103.3 853.1V862.1M1131.0 853.1V862.1M1158.7 853.1V862.1M1186.4 853.1V862.1M1214.0 853.1V862.1M1241.7 853.1V862.1M1269.4 853.1V862.1M1297.1 853.1V862.1M1324.8 853.1V862.1M1352.5 853.1V862.1M1380.1 853.1V862.1M1407.8 853.1V862.1M1435.5 853.1V862.1M1463.2 853.1V862.1M1490.9 853.1V862.1M1518.6 853.1V862.1M1546.2 853.1V862.1M1573.9 853.1V862.1M1601.6 853.1V862.1M1629.3 853.1V862.1M1657.0 853.1V862.1M1684.7 853.1V862.1M1712.4 853.1V862.1M1740.0 853.1V862.1M1767.7 853.1V862.1M1795.4 853.1V862.1M1823.1 853.1V862.1M1850.8 853.1V862.1M1878.5 853.1V862.1M1906.1 853.1V862.1M1933.8 853.1V862.1M1961.5 853.1V862.1M1989.2 853.1V862.1M2016.9 853.1V862.1" stroke="#888" stroke-width="2" fill="none"/>
<text transform="translate(285.9,870.6) rotate(-90)" class="cl">UGA</text>
<text transform="translate(313.6,870.6) rotate(-90)" class="cl">UAG</text>
<text transform="translate(341.3,870.6) rotate(-90)" class="cl">UAA</text>
<text transform="translate(369.0,870.6) rotate(-90)" class="cl">GCU</text>
<text transform="translate(396.7,870.6) rotate(-90)" class="cl">GCG</text>
<text transform="translate(424.4,870.6) rotate(-90)" class="cl">GCC</text>
<text transform="translate(452.1,870.6) rotate(-90)" class="cl">GCA</text>
<text transform="translate(479.8,870.6) rotate(-90)" class="cl">UGU</text>
<text transform="translate(506.4,870.6) rotate(-90)" class="cl">UGC</text>
<text transform="translate(532.9,870.6) rotate(-90)" class="cl">GAU</text>
<text transform="translate(560.6,870.6) rotate(-90)" class="cl">GAC</text>
<text transform="translate(588.3,870.6) rotate(-90)" class="cl">GAG</text>
<text transform="translate(616.0,870.6) rotate(-90)" class="cl">GAA</text>
<text transform="translate(643.7,870.6) rotate(-90)" class="cl">UUU</text>
<text transform="translate(671.4,870.6) rotate(-90)" class="cl">UUC</text>
<text transform="translate(699.0,870.6) rotate(-90)" class="cl">GGU</text>
<text transform="translate(726.7,870.6) rotate(-90)" class="cl">GGG</text>
<text transform="translate(754.4,870.6) rotate(-90)" class="cl">GGC</text>
<text transform="translate(782.1,870.6) rotate(-90)" class="cl">GGA</text>
<text transform="translate(809.8,870.6) rotate(-90)" class="cl">CAC</text>
<text transform="translate(837.5,870.6) rotate(-90)" class="cl">CAU</text>
<text transform="translate(865.1,870.6) rotate(-90)" class="cl">AUU</text>
<text transform="translate(892.8,870.6) rotate(-90)" class="cl">AUC</text>
<text transform="translate(920.5,870.6) rotate(-90)" class="cl">AUA</text>
<text transform="translate(948.2,870.6) rotate(-90)" class="cl">AAG</text>
<text transform="translate(975.9,870.6) rotate(-90)" class="cl">AAA</text>
<text transform="translate(1003.6,870.6) rotate(-90)" class="cl">CUA</text>
<text transform="translate(1031.3,870.6) rotate(-90)" class="cl">CUC</text>
<text transform="translate(1058.9,870.6) rotate(-90)" class="cl">CUG</text>
<text transform="translate(1086.6,870.6) rotate(-90)" class="cl">CUU</text>
<text transform="translate(1114.3,870.6) rotate(-90)" class="cl">UUA</text>
<text transform="translate(1142.0,870.6) rotate(-90)" class="cl">UUG</text>
<text transform="translate(1169.7,870.6) rotate(-90)" class="cl">AUG</text>
<text transform="translate(1197.4,870.6) rotate(-90)" class="cl">AAC</text>
<text transform="translate(1225.0,870.6) rotate(-90)" class="cl">AAU</text>
<text transform="translate(1252.7,870.6) rotate(-90)" class="cl">CCA</text>
<text transform="translate(1280.4,870.6) rotate(-90)" class="cl">CCC</text>
<text transform="translate(1308.1,870.6) rotate(-90)" class="cl">CCU</text>
<text transform="translate(1335.8,870.6) rotate(-90)" class="cl">CCG</text>
<text transform="translate(1363.5,870.6) rotate(-90)" class="cl">CAA</text>
<text transform="translate(1391.1,870.6) rotate(-90)" class="cl">CAG</text>
<text transform="translate(1418.8,870.6) rotate(-90)" class="cl">AGA</text>
<text transform="translate(1446.5,870.6) rotate(-90)" class="cl">AGG</text>
<text transform="translate(1474.2,870.6) rotate(-90)" class="cl">CGA</text>
<text transform="translate(1501.9,870.6) rotate(-90)" class="cl">CGC</text>
<text transform="translate(1529.6,870.6) rotate(-90)" class="cl">CGG</text>
<text transform="translate(1557.2,870.6) rotate(-90)" class="cl">CGU</text>
<text transform="translate(1584.9,870.6) rotate(-90)" class="cl">AGC</text>
<text transform="translate(1612.6,870.6) rotate(-90)" class="cl">AGU</text>
<text transform="translate(1640.3,870.6) rotate(-90)" class="cl">UCA</text>
<text transform="translate(1668.0,870.6) rotate(-90)" class="cl">UCC</text>
<text transform="translate(1695.7,870.6) rotate(-90)" class="cl">UCG</text>
<text transform="translate(1723.4,870.6) rotate(-90)" class="cl">UCU</text>
<text transform="translate(1751.0,870.6) rotate(-90)" class="cl">ACC</text>
<text transform="translate(1778.7,870.6) rotate(-90)" class="cl">ACA</text>
<text transform="translate(1806.4,870.6) rotate(-90)" class="cl">ACG</text>
<text transform="translate(1834.1,870.6) rotate(-90)" class="cl">ACU</text>
<text transform="translate(1861.8,870.6) rotate(-90)" class="cl">GUU</text>
<text transform="translate(1889.5,870.6) rotate(-90)" class="cl">GUG</text>
<text transform="translate(1917.1,870.6) rotate(-90)" class="cl">GUC</text>
<text transform="translate(1944.8,870.6) rotate(-90)" class="cl">GUA</text>
<text transform="translate(1972.5,870.6) rotate(-90)" class="cl">UGG</text>
<text transform="translate(2000.2,870.6) rotate(-90)" class="cl">UAC</text>
<text transform="translate(2027.9,870.6) rotate(-90)" class="cl">UAU</text>
<path d="M186.0 65.3L186.0 93.0M186.0 65.3L239.7 65.3M186.0 93.0L239.7 93.0M75.1 37.6L75.1 79.1M75.1 37.6L239.7 37.6M75.1 79.1L186.0 79.1M154.6 148.3L154.6 176.0M154.6 148.3L239.7 148.3M154.6 176.0L239.7 176.0M108.7 203.7L108.7 231.4M108.7 203.7L239.7 203.7M108.7 231.4L239.7 231.4M84.8 162.2L84.8 217.5M84.8 162.2L154.6 162.2M84.8 217.5L108.7 217.5M100.3 314.4L100.3 342.1M100.3 314.4L239.7 314.4M100.3 342.1L239.7 342.1M90.2 286.7L90.2 328.2M90.2 286.7L239.7 286.7M90.2 328.2L100.3 328.2M73.8 259.0L73.8 307.5M73.8 259.0L239.7 259.0M73.8 307.5L90.2 307.5M69.8 189.8L69.8 283.2M69.8 189.8L84.8 189.8M69.8 283.2L73.8 283.2M209.3 425.1L209.3 452.7M209.3 425.1L239.7 425.1M209.3 452.7L239.7 452.7M195.4 397.4L195.4 438.9M195.4 397.4L239.7 397.4M195.4 438.9L209.3 438.9M97.5 369.7L97.5 418.2M97.5 369.7L239.7 369.7M97.5 418.2L195.4 418.2M111.2 480.4L111.2 508.1M111.2 480.4L239.7 480.4M111.2 508.1L239.7 508.1M101.2 535.8L101.2 562.4M101.2 535.8L239.7 535.8M101.2 562.4L239.7 562.4M92.1 494.3L92.1 549.1M92.1 494.3L111.2 494.3M92.1 549.1L101.2 549.1M77.5 393.9L77.5 521.7M77.5 393.9L97.5 393.9M77.5 521.7L92.1 521.7M92.1 616.7L92.1 644.4M92.1 616.7L239.7 616.7M92.1 644.4L239.7 644.4M140.0 699.8L140.0 727.5M140.0 699.8L239.7 699.8M140.0 727.5L239.7 727.5M96.6 672.1L96.6 713.6M96.6 672.1L239.7 672.1M96.6 713.6L140.0 713.6M192.7 810.5L192.7 838.2M192.7 810.5L239.7 810.5M192.7 838.2L239.7 838.2M149.1 782.8L149.1 824.4M149.1 782.8L239.7 782.8M149.1 824.4L192.7 824.4M93.9 755.2L93.9 803.6M93.9 755.2L239.7 755.2M93.9 803.6L149.1 803.6M86.6 692.9L86.6 779.4M86.6 692.9L96.6 692.9M86.6 779.4L93.9 779.4M75.1 630.6L75.1 736.1M75.1 630.6L92.1 630.6M75.1 736.1L86.6 736.1M72.0 589.0L72.0 683.3M72.0 589.0L239.7 589.0M72.0 683.3L75.1 683.3M69.8 457.8L69.8 636.2M69.8 457.8L77.5 457.8M69.8 636.2L72.0 636.2M65.6 236.5L65.6 547.0M65.6 236.5L69.8 236.5M65.6 547.0L69.8 547.0M53.2 120.7L53.2 391.8M53.2 120.7L239.7 120.7M53.2 391.8L65.6 391.8M47.4 58.4L47.4 256.2M47.4 58.4L75.1 58.4M47.4 256.2L53.2 256.2" stroke="#333" stroke-width="1.6" fill="none"/>
<path d="M60.7 853.6H239.7M239.7 853.6V863.6M203.9 853.6V863.6M168.1 853.6V863.6M132.3 853.6V863.6M96.5 853.6V863.6M60.7 853.6V863.6" stroke="#333" stroke-width="1.6" fill="none"/>
<text x="239.7" y="884.2" class="al">0</text><text x="203.9" y="884.2" class="al">2</text><text x="168.1" y="884.2" class="al">4</text><text x="132.3" y="884.2" class="al">6</text><text x="96.5" y="884.2" class="al">8</text><text x="60.7" y="884.2" class="al">10</text>
<text x="144.5" y="919.6" class="en">Euclidean distance</text>
<g shape-rendering="crispEdges"><path fill="#0000ff" d="M261.1 1462.1H288.8V1489.8H261.1zM316.5 1462.1H344.2V1489.8H316.5zM482.6 1462.1H508.1V1489.8H482.6zM701.9 1462.1H729.6V1489.8H701.9zM757.3 1462.1H784.9V1489.8H757.3zM1310.9 1462.1H1338.6V1489.8H1310.9zM1449.4 1462.1H1477.0V1489.8H1449.4zM1504.7 1462.1H1587.8V1489.8H1504.7zM1781.6 1462.1H1809.2V1489.8H1781.6zM261.1 1489.8H316.5V1517.4H261.1zM399.6 1489.8H427.2V1517.4H399.6zM784.9 1489.8H812.6V1517.4H784.9zM1034.1 1489.8H1061.8V1517.4H1034.1zM1310.9 1489.8H1338.6V1517.4H1310.9zM1449.4 1489.8H1477.0V1517.4H1449.4zM1504.7 1489.8H1560.1V1517.4H1504.7zM1726.2 1489.8H1753.9V1517.4H1726.2zM261.1 1517.4H316.5V1545.1H261.1zM399.6 1517.4H427.2V1545.1H399.6zM784.9 1517.4H812.6V1545.1H784.9zM1034.1 1517.4H1061.8V1545.1H1034.1zM1310.9 1517.4H1338.6V1545.1H1310.9zM1449.4 1517.4H1477.0V1545.1H1449.4zM1504.7 1517.4H1560.1V1545.1H1504.7zM1726.2 1517.4H1753.9V1545.1H1726.2zM261.1 1545.1H288.8V1572.8H261.1zM316.5 1545.1H344.2V1572.8H316.5zM701.9 1545.1H729.6V1572.8H701.9zM1477.0 1545.1H1504.7V1572.8H1477.0zM1670.8 1545.1H1698.5V1572.8H1670.8zM261.1 1572.8H316.5V1600.5H261.1zM371.9 1572.8H399.6V1600.5H371.9zM482.6 1572.8H508.1V1600.5H482.6zM701.9 1572.8H729.6V1600.5H701.9zM757.3 1572.8H784.9V1600.5H757.3zM1006.4 1572.8H1061.8V1600.5H1006.4zM1449.4 1572.8H1504.7V1600.5H1449.4zM1643.1 1572.8H1698.5V1600.5H1643.1zM1975.4 1572.8H2003.0V1600.5H1975.4zM261.1 1600.5H316.5V1628.1H261.1zM701.9 1600.5H729.6V1628.1H701.9zM784.9 1600.5H812.6V1628.1H784.9zM1310.9 1600.5H1338.6V1628.1H1310.9zM1421.7 1600.5H1477.0V1628.1H1421.7zM1504.7 1600.5H1532.4V1628.1H1504.7zM1670.8 1600.5H1698.5V1628.1H1670.8zM261.1 1628.1H316.5V1655.8H261.1zM371.9 1628.1H399.6V1655.8H371.9zM482.6 1628.1H508.1V1655.8H482.6zM784.9 1628.1H812.6V1655.8H784.9zM1034.1 1628.1H1061.8V1655.8H1034.1zM1255.6 1628.1H1283.3V1655.8H1255.6zM1421.7 1628.1H1477.0V1655.8H1421.7zM1504.7 1628.1H1532.4V1655.8H1504.7zM1643.1 1628.1H1698.5V1655.8H1643.1zM261.1 1655.8H316.5V1683.5H261.1zM482.6 1655.8H508.1V1683.5H482.6zM757.3 1655.8H784.9V1683.5H757.3zM812.6 1655.8H840.3V1683.5H812.6zM1034.1 1655.8H1061.8V1683.5H1034.1zM1504.7 1655.8H1532.4V1683.5H1504.7zM1587.8 1655.8H1615.5V1683.5H1587.8zM1670.8 1655.8H1698.5V1683.5H1670.8zM1781.6 1655.8H1809.2V1683.5H1781.6zM261.1 1683.5H316.5V1711.2H261.1zM482.6 1683.5H508.1V1711.2H482.6zM757.3 1683.5H840.3V1711.2H757.3zM895.7 1683.5H923.4V1711.2H895.7zM1006.4 1683.5H1034.1V1711.2H1006.4zM1449.4 1683.5H1477.0V1711.2H1449.4zM1504.7 1683.5H1532.4V1711.2H1504.7zM1560.1 1683.5H1587.8V1711.2H1560.1zM1892.3 1683.5H1920.0V1711.2H1892.3zM261.1 1711.2H316.5V1738.8H261.1zM701.9 1711.2H729.6V1738.8H701.9zM812.6 1711.2H840.3V1738.8H812.6zM1449.4 1711.2H1504.7V1738.8H1449.4zM1643.1 1711.2H1698.5V1738.8H1643.1zM261.1 1738.8H316.5V1766.5H261.1zM729.6 1738.8H757.3V1766.5H729.6zM812.6 1738.8H840.3V1766.5H812.6zM1449.4 1738.8H1504.7V1766.5H1449.4zM1643.1 1738.8H1698.5V1766.5H1643.1zM261.1 1766.5H316.5V1794.2H261.1zM701.9 1766.5H729.6V1794.2H701.9zM784.9 1766.5H812.6V1794.2H784.9zM1117.1 1766.5H1144.8V1794.2H1117.1zM1394.0 1766.5H1421.7V1794.2H1394.0zM261.1 1794.2H316.5V1821.9H261.1zM482.6 1794.2H508.1V1821.9H482.6zM701.9 1794.2H729.6V1821.9H701.9zM1255.6 1794.2H1283.3V1821.9H1255.6zM1504.7 1794.2H1532.4V1821.9H1504.7zM1892.3 1794.2H1920.0V1821.9H1892.3zM261.1 1821.9H316.5V1849.5H261.1zM482.6 1821.9H508.1V1849.5H482.6zM812.6 1821.9H840.3V1849.5H812.6zM1255.6 1821.9H1283.3V1849.5H1255.6zM261.1 1849.5H316.5V1877.2H261.1zM1255.6 1849.5H1283.3V1877.2H1255.6zM261.1 1877.2H316.5V1904.9H261.1zM371.9 1877.2H399.6V1904.9H371.9zM701.9 1877.2H729.6V1904.9H701.9zM1006.4 1877.2H1034.1V1904.9H1006.4zM1283.3 1877.2H1310.9V1904.9H1283.3zM1366.3 1877.2H1394.0V1904.9H1366.3zM1504.7 1877.2H1532.4V1904.9H1504.7zM1670.8 1877.2H1698.5V1904.9H1670.8zM261.1 1904.9H316.5V1932.6H261.1zM701.9 1904.9H729.6V1932.6H701.9zM1006.4 1904.9H1034.1V1932.6H1006.4zM1255.6 1904.9H1283.3V1932.6H1255.6zM1310.9 1904.9H1338.6V1932.6H1310.9zM1366.3 1904.9H1394.0V1932.6H1366.3zM1504.7 1904.9H1532.4V1932.6H1504.7zM1560.1 1904.9H1587.8V1932.6H1560.1zM1781.6 1904.9H1809.2V1932.6H1781.6zM261.1 1932.6H316.5V1960.2H261.1zM701.9 1932.6H729.6V1960.2H701.9zM1255.6 1932.6H1283.3V1960.2H1255.6zM1366.3 1932.6H1394.0V1960.2H1366.3zM1504.7 1932.6H1532.4V1960.2H1504.7zM1670.8 1932.6H1698.5V1960.2H1670.8zM1781.6 1932.6H1809.2V1960.2H1781.6zM261.1 1960.2H316.5V1987.9H261.1zM454.9 1960.2H508.1V1987.9H454.9zM1504.7 1960.2H1532.4V1987.9H1504.7zM261.1 1987.9H316.5V2013.5H261.1zM701.9 1987.9H729.6V2013.5H701.9zM1283.3 1987.9H1310.9V2013.5H1283.3zM1504.7 1987.9H1532.4V2013.5H1504.7zM261.1 2013.5H316.5V2041.2H261.1zM1421.7 2013.5H1449.4V2041.2H1421.7zM1477.0 2013.5H1532.4V2041.2H1477.0zM1670.8 2013.5H1698.5V2041.2H1670.8zM261.1 2041.2H316.5V2068.9H261.1zM371.9 2041.2H399.6V2068.9H371.9zM482.6 2041.2H508.1V2068.9H482.6zM701.9 2041.2H729.6V2068.9H701.9zM1089.5 2041.2H1117.1V2068.9H1089.5zM1477.0 2041.2H1532.4V2068.9H1477.0zM1670.8 2041.2H1698.5V2068.9H1670.8zM261.1 2068.9H316.5V2096.6H261.1zM371.9 2068.9H399.6V2096.6H371.9zM454.9 2068.9H482.6V2096.6H454.9zM1255.6 2068.9H1283.3V2096.6H1255.6zM1310.9 2068.9H1338.6V2096.6H1310.9zM1449.4 2068.9H1532.4V2096.6H1449.4zM1670.8 2068.9H1698.5V2096.6H1670.8zM1726.2 2068.9H1753.9V2096.6H1726.2zM261.1 2096.6H316.5V2124.2H261.1zM784.9 2096.6H812.6V2124.2H784.9zM978.7 2096.6H1006.4V2124.2H978.7zM1477.0 2096.6H1532.4V2124.2H1477.0zM261.1 2124.2H316.5V2151.9H261.1zM371.9 2124.2H399.6V2151.9H371.9zM784.9 2124.2H812.6V2151.9H784.9zM978.7 2124.2H1006.4V2151.9H978.7zM1255.6 2124.2H1283.3V2151.9H1255.6zM1477.0 2124.2H1532.4V2151.9H1477.0zM261.1 2151.9H316.5V2179.6H261.1zM454.9 2151.9H482.6V2179.6H454.9zM784.9 2151.9H812.6V2179.6H784.9zM1477.0 2151.9H1532.4V2179.6H1477.0zM261.1 2179.6H316.5V2207.3H261.1zM371.9 2179.6H399.6V2207.3H371.9zM454.9 2179.6H482.6V2207.3H454.9zM563.5 2179.6H591.2V2207.3H563.5zM1449.4 2179.6H1477.0V2207.3H1449.4zM1781.6 2179.6H1809.2V2207.3H1781.6zM261.1 2207.3H316.5V2235.0H261.1zM371.9 2207.3H399.6V2235.0H371.9zM454.9 2207.3H482.6V2235.0H454.9zM1255.6 2207.3H1283.3V2235.0H1255.6zM1670.8 2207.3H1698.5V2235.0H1670.8zM1781.6 2207.3H1809.2V2235.0H1781.6zM261.1 2235.0H316.5V2262.7H261.1zM454.9 2235.0H482.6V2262.7H454.9zM701.9 2235.0H729.6V2262.7H701.9zM1643.1 2235.0H1698.5V2262.7H1643.1zM1726.2 2235.0H1753.9V2262.7H1726.2zM261.1 2262.7H316.5V2290.4H261.1zM454.9 2262.7H482.6V2290.4H454.9zM701.9 2262.7H729.6V2290.4H701.9zM1310.9 2262.7H1338.6V2290.4H1310.9z"/>
<path fill="#ff8000" d="M288.8 1462.1H316.5V1489.8H288.8zM316.5 1489.8H344.2V1517.4H316.5zM316.5 1517.4H344.2V1545.1H316.5zM288.8 1545.1H316.5V1572.8H288.8zM316.5 1572.8H344.2V1600.5H316.5zM674.2 1572.8H701.9V1600.5H674.2zM316.5 1600.5H344.2V1628.1H316.5zM1283.3 1600.5H1310.9V1628.1H1283.3zM316.5 1628.1H344.2V1655.8H316.5zM674.2 1628.1H701.9V1655.8H674.2zM1283.3 1628.1H1310.9V1655.8H1283.3zM1532.4 1628.1H1560.1V1655.8H1532.4zM316.5 1655.8H344.2V1683.5H316.5zM316.5 1683.5H344.2V1711.2H316.5zM674.2 1683.5H701.9V1711.2H674.2zM1061.8 1683.5H1089.5V1711.2H1061.8zM316.5 1711.2H344.2V1738.8H316.5zM316.5 1738.8H344.2V1766.5H316.5zM674.2 1738.8H701.9V1766.5H674.2zM1615.5 1738.8H1643.1V1766.5H1615.5zM316.5 1766.5H344.2V1794.2H316.5zM316.5 1794.2H344.2V1821.9H316.5zM316.5 1821.9H344.2V1849.5H316.5zM316.5 1849.5H344.2V1877.2H316.5zM316.5 1877.2H344.2V1904.9H316.5zM1227.9 1877.2H1255.6V1904.9H1227.9zM316.5 1904.9H344.2V1932.6H316.5zM316.5 1932.6H344.2V1960.2H316.5zM316.5 1960.2H344.2V1987.9H316.5zM316.5 1987.9H344.2V2013.5H316.5zM316.5 2013.5H344.2V2041.2H316.5zM316.5 2041.2H344.2V2068.9H316.5zM1449.4 2041.2H1477.0V2068.9H1449.4zM316.5 2068.9H344.2V2096.6H316.5zM316.5 2096.6H344.2V2124.2H316.5zM316.5 2124.2H344.2V2151.9H316.5zM316.5 2151.9H344.2V2179.6H316.5zM316.5 2179.6H344.2V2207.3H316.5zM316.5 2207.3H344.2V2235.0H316.5zM316.5 2235.0H344.2V2262.7H316.5zM316.5 2262.7H344.2V2290.4H316.5z"/>
<path fill="#c6c63e" d="M344.2 1462.1H371.9V1489.8H344.2zM427.2 1462.1H454.9V1489.8H427.2zM1200.2 1462.1H1227.9V1489.8H1200.2zM508.1 1489.8H535.8V1517.4H508.1zM1338.6 1517.4H1366.3V1545.1H1338.6zM1394.0 1517.4H1421.7V1545.1H1394.0zM1698.5 1517.4H1726.2V1545.1H1698.5zM618.8 1545.1H646.5V1572.8H618.8zM729.6 1545.1H757.3V1572.8H729.6zM923.4 1545.1H951.0V1572.8H923.4zM1200.2 1545.1H1227.9V1572.8H1200.2zM1394.0 1545.1H1421.7V1572.8H1394.0zM1504.7 1545.1H1560.1V1572.8H1504.7zM618.8 1600.5H646.5V1628.1H618.8zM1200.2 1600.5H1227.9V1628.1H1200.2zM1338.6 1600.5H1366.3V1628.1H1338.6zM1615.5 1600.5H1643.1V1628.1H1615.5zM1200.2 1628.1H1227.9V1655.8H1200.2zM1587.8 1628.1H1615.5V1655.8H1587.8zM563.5 1655.8H591.2V1683.5H563.5zM978.7 1655.8H1006.4V1683.5H978.7zM618.8 1683.5H646.5V1711.2H618.8zM1394.0 1683.5H1421.7V1711.2H1394.0zM1753.9 1683.5H1781.6V1711.2H1753.9zM1200.2 1711.2H1227.9V1738.8H1200.2zM454.9 1738.8H482.6V1766.5H454.9zM344.2 1766.5H371.9V1794.2H344.2zM427.2 1766.5H454.9V1794.2H427.2zM1532.4 1766.5H1587.8V1794.2H1532.4zM812.6 1794.2H840.3V1821.9H812.6zM1809.2 1794.2H1836.9V1821.9H1809.2zM674.2 1821.9H701.9V1849.5H674.2zM1753.9 1821.9H1781.6V1849.5H1753.9zM1864.6 1821.9H1892.3V1849.5H1864.6zM674.2 1849.5H701.9V1877.2H674.2zM1477.0 1849.5H1504.7V1877.2H1477.0zM427.2 1877.2H454.9V1904.9H427.2zM591.2 1877.2H646.5V1904.9H591.2zM1200.2 1877.2H1227.9V1904.9H1200.2zM1753.9 1877.2H1781.6V1904.9H1753.9zM2003.0 1877.2H2030.7V1904.9H2003.0zM591.2 1904.9H618.8V1932.6H591.2zM1117.1 1904.9H1144.8V1932.6H1117.1zM1615.5 1904.9H1643.1V1932.6H1615.5zM1698.5 1904.9H1726.2V1932.6H1698.5zM1753.9 1904.9H1781.6V1932.6H1753.9zM591.2 1932.6H618.8V1960.2H591.2zM674.2 1932.6H701.9V1960.2H674.2zM729.6 1932.6H757.3V1960.2H729.6zM344.2 1960.2H371.9V1987.9H344.2zM591.2 1960.2H618.8V1987.9H591.2zM812.6 1960.2H840.3V1987.9H812.6zM951.0 1960.2H978.7V1987.9H951.0zM978.7 1987.9H1006.4V2013.5H978.7zM1117.1 1987.9H1144.8V2013.5H1117.1zM1698.5 1987.9H1726.2V2013.5H1698.5zM1227.9 2013.5H1255.6V2041.2H1227.9zM1532.4 2013.5H1560.1V2041.2H1532.4zM344.2 2041.2H371.9V2068.9H344.2zM427.2 2041.2H454.9V2068.9H427.2zM591.2 2041.2H618.8V2068.9H591.2zM1200.2 2041.2H1227.9V2068.9H1200.2zM1560.1 2041.2H1587.8V2068.9H1560.1zM1753.9 2041.2H1781.6V2068.9H1753.9zM1836.9 2041.2H1864.6V2068.9H1836.9zM1089.5 2068.9H1117.1V2096.6H1089.5zM1394.0 2068.9H1421.7V2096.6H1394.0zM1615.5 2068.9H1643.1V2096.6H1615.5zM1753.9 2068.9H1781.6V2096.6H1753.9zM454.9 2096.6H482.6V2124.2H454.9zM591.2 2096.6H618.8V2124.2H591.2zM1283.3 2096.6H1310.9V2124.2H1283.3zM1560.1 2096.6H1587.8V2124.2H1560.1zM1809.2 2096.6H1836.9V2124.2H1809.2zM1836.9 2124.2H1864.6V2151.9H1836.9zM508.1 2151.9H535.8V2179.6H508.1zM757.3 2151.9H784.9V2179.6H757.3zM1615.5 2151.9H1643.1V2179.6H1615.5zM1753.9 2151.9H1781.6V2179.6H1753.9zM1836.9 2151.9H1864.6V2179.6H1836.9zM729.6 2179.6H757.3V2207.3H729.6zM978.7 2179.6H1006.4V2207.3H978.7zM1753.9 2179.6H1781.6V2207.3H1753.9zM1836.9 2179.6H1864.6V2207.3H1836.9zM1975.4 2179.6H2003.0V2207.3H1975.4zM344.2 2207.3H371.9V2235.0H344.2zM535.8 2207.3H591.2V2235.0H535.8zM840.3 2207.3H868.0V2235.0H840.3zM1061.8 2207.3H1089.5V2235.0H1061.8zM1227.9 2207.3H1255.6V2235.0H1227.9zM1394.0 2207.3H1421.7V2235.0H1394.0zM1477.0 2207.3H1504.7V2235.0H1477.0zM1698.5 2207.3H1726.2V2235.0H1698.5zM646.5 2235.0H674.2V2262.7H646.5zM1366.3 2235.0H1394.0V2262.7H1366.3zM1892.3 2235.0H1920.0V2262.7H1892.3zM344.2 2262.7H371.9V2290.4H344.2zM399.6 2262.7H427.2V2290.4H399.6zM1200.2 2262.7H1227.9V2290.4H1200.2zM1366.3 2262.7H1394.0V2290.4H1366.3zM1532.4 2262.7H1560.1V2290.4H1532.4zM1587.8 2262.7H1615.5V2290.4H1587.8zM1643.1 2262.7H1670.8V2290.4H1643.1z"/>
<path fill="#3434cc" d="M371.9 1462.1H399.6V1489.8H371.9zM563.5 1462.1H591.2V1489.8H563.5zM729.6 1462.1H757.3V1489.8H729.6zM1006.4 1462.1H1061.8V1489.8H1006.4zM1172.5 1462.1H1200.2V1489.8H1172.5zM1864.6 1462.1H1892.3V1489.8H1864.6zM535.8 1489.8H563.5V1517.4H535.8zM895.7 1489.8H923.4V1517.4H895.7zM1366.3 1489.8H1394.0V1517.4H1366.3zM1670.8 1489.8H1698.5V1517.4H1670.8zM1781.6 1489.8H1809.2V1517.4H1781.6zM1892.3 1489.8H1920.0V1517.4H1892.3zM535.8 1517.4H563.5V1545.1H535.8zM895.7 1517.4H923.4V1545.1H895.7zM1366.3 1517.4H1394.0V1545.1H1366.3zM1421.7 1517.4H1449.4V1545.1H1421.7zM1670.8 1517.4H1698.5V1545.1H1670.8zM1781.6 1517.4H1809.2V1545.1H1781.6zM1892.3 1517.4H1920.0V1545.1H1892.3zM646.5 1545.1H674.2V1572.8H646.5zM868.0 1545.1H895.7V1572.8H868.0zM1172.5 1545.1H1200.2V1572.8H1172.5zM1255.6 1545.1H1283.3V1572.8H1255.6zM1310.9 1545.1H1338.6V1572.8H1310.9zM1421.7 1545.1H1449.4V1572.8H1421.7zM1753.9 1545.1H1781.6V1572.8H1753.9zM427.2 1572.8H454.9V1600.5H427.2zM535.8 1572.8H563.5V1600.5H535.8zM646.5 1572.8H674.2V1600.5H646.5zM895.7 1572.8H923.4V1600.5H895.7zM978.7 1572.8H1006.4V1600.5H978.7zM1172.5 1572.8H1200.2V1600.5H1172.5zM1560.1 1572.8H1587.8V1600.5H1560.1zM1615.5 1572.8H1643.1V1600.5H1615.5zM1753.9 1572.8H1809.2V1600.5H1753.9zM1864.6 1572.8H1920.0V1600.5H1864.6zM371.9 1600.5H427.2V1628.1H371.9zM951.0 1600.5H978.7V1628.1H951.0zM1006.4 1600.5H1061.8V1628.1H1006.4zM1172.5 1600.5H1200.2V1628.1H1172.5zM1366.3 1600.5H1394.0V1628.1H1366.3zM1643.1 1600.5H1670.8V1628.1H1643.1zM1781.6 1600.5H1809.2V1628.1H1781.6zM1892.3 1600.5H1920.0V1628.1H1892.3zM399.6 1628.1H427.2V1655.8H399.6zM646.5 1628.1H674.2V1655.8H646.5zM701.9 1628.1H784.9V1655.8H701.9zM868.0 1628.1H895.7V1655.8H868.0zM978.7 1628.1H1034.1V1655.8H978.7zM1172.5 1628.1H1200.2V1655.8H1172.5zM1338.6 1628.1H1366.3V1655.8H1338.6zM1560.1 1628.1H1587.8V1655.8H1560.1zM1615.5 1628.1H1643.1V1655.8H1615.5zM1726.2 1628.1H1753.9V1655.8H1726.2zM1920.0 1628.1H1947.7V1655.8H1920.0zM371.9 1655.8H399.6V1683.5H371.9zM591.2 1655.8H618.8V1683.5H591.2zM646.5 1655.8H674.2V1683.5H646.5zM701.9 1655.8H729.6V1683.5H701.9zM1006.4 1655.8H1034.1V1683.5H1006.4zM1449.4 1655.8H1477.0V1683.5H1449.4zM1643.1 1655.8H1670.8V1683.5H1643.1zM1892.3 1655.8H1920.0V1683.5H1892.3zM1975.4 1655.8H2003.0V1683.5H1975.4zM399.6 1683.5H427.2V1711.2H399.6zM646.5 1683.5H674.2V1711.2H646.5zM701.9 1683.5H729.6V1711.2H701.9zM978.7 1683.5H1006.4V1711.2H978.7zM1310.9 1683.5H1338.6V1711.2H1310.9zM1421.7 1683.5H1449.4V1711.2H1421.7zM1670.8 1683.5H1698.5V1711.2H1670.8zM1726.2 1683.5H1753.9V1711.2H1726.2zM1781.6 1683.5H1809.2V1711.2H1781.6zM1975.4 1683.5H2003.0V1711.2H1975.4zM399.6 1711.2H427.2V1738.8H399.6zM482.6 1711.2H508.1V1738.8H482.6zM646.5 1711.2H674.2V1738.8H646.5zM895.7 1711.2H923.4V1738.8H895.7zM978.7 1711.2H1061.8V1738.8H978.7zM1172.5 1711.2H1200.2V1738.8H1172.5zM1283.3 1711.2H1338.6V1738.8H1283.3zM1560.1 1711.2H1587.8V1738.8H1560.1zM1726.2 1711.2H1753.9V1738.8H1726.2zM1781.6 1711.2H1809.2V1738.8H1781.6zM1892.3 1711.2H1920.0V1738.8H1892.3zM399.6 1738.8H427.2V1766.5H399.6zM482.6 1738.8H508.1V1766.5H482.6zM646.5 1738.8H674.2V1766.5H646.5zM701.9 1738.8H729.6V1766.5H701.9zM895.7 1738.8H923.4V1766.5H895.7zM1034.1 1738.8H1061.8V1766.5H1034.1zM1310.9 1738.8H1338.6V1766.5H1310.9zM1560.1 1738.8H1587.8V1766.5H1560.1zM1781.6 1738.8H1809.2V1766.5H1781.6zM1836.9 1738.8H1864.6V1766.5H1836.9zM399.6 1766.5H427.2V1794.2H399.6zM757.3 1766.5H784.9V1794.2H757.3zM1283.3 1766.5H1338.6V1794.2H1283.3zM1366.3 1766.5H1394.0V1794.2H1366.3zM1587.8 1766.5H1643.1V1794.2H1587.8zM1781.6 1766.5H1809.2V1794.2H1781.6zM1920.0 1766.5H1947.7V1794.2H1920.0zM371.9 1794.2H427.2V1821.9H371.9zM508.1 1794.2H535.8V1821.9H508.1zM563.5 1794.2H591.2V1821.9H563.5zM784.9 1794.2H812.6V1821.9H784.9zM868.0 1794.2H895.7V1821.9H868.0zM1449.4 1794.2H1477.0V1821.9H1449.4zM1670.8 1794.2H1698.5V1821.9H1670.8zM371.9 1821.9H399.6V1849.5H371.9zM508.1 1821.9H535.8V1849.5H508.1zM868.0 1821.9H923.4V1849.5H868.0zM1034.1 1821.9H1061.8V1849.5H1034.1zM1670.8 1821.9H1698.5V1849.5H1670.8zM1781.6 1821.9H1809.2V1849.5H1781.6zM1892.3 1821.9H1920.0V1849.5H1892.3zM371.9 1849.5H427.2V1877.2H371.9zM508.1 1849.5H535.8V1877.2H508.1zM895.7 1849.5H923.4V1877.2H895.7zM1670.8 1849.5H1698.5V1877.2H1670.8zM1892.3 1849.5H1920.0V1877.2H1892.3zM399.6 1877.2H427.2V1904.9H399.6zM563.5 1877.2H591.2V1904.9H563.5zM646.5 1877.2H674.2V1904.9H646.5zM895.7 1877.2H923.4V1904.9H895.7zM1089.5 1877.2H1117.1V1904.9H1089.5zM1172.5 1877.2H1200.2V1904.9H1172.5zM1560.1 1877.2H1587.8V1904.9H1560.1zM1781.6 1877.2H1809.2V1904.9H1781.6zM1892.3 1877.2H1947.7V1904.9H1892.3zM1975.4 1877.2H2003.0V1904.9H1975.4zM371.9 1904.9H399.6V1932.6H371.9zM563.5 1904.9H591.2V1932.6H563.5zM757.3 1904.9H784.9V1932.6H757.3zM1089.5 1904.9H1117.1V1932.6H1089.5zM1643.1 1904.9H1698.5V1932.6H1643.1zM1726.2 1904.9H1753.9V1932.6H1726.2zM1975.4 1904.9H2003.0V1932.6H1975.4zM371.9 1932.6H454.9V1960.2H371.9zM563.5 1932.6H591.2V1960.2H563.5zM1089.5 1932.6H1117.1V1960.2H1089.5zM1310.9 1932.6H1338.6V1960.2H1310.9zM1560.1 1932.6H1587.8V1960.2H1560.1zM1892.3 1932.6H1920.0V1960.2H1892.3zM371.9 1960.2H399.6V1987.9H371.9zM563.5 1960.2H591.2V1987.9H563.5zM701.9 1960.2H729.6V1987.9H701.9zM784.9 1960.2H812.6V1987.9H784.9zM895.7 1960.2H951.0V1987.9H895.7zM978.7 1960.2H1006.4V1987.9H978.7zM1310.9 1960.2H1338.6V1987.9H1310.9zM1726.2 1960.2H1753.9V1987.9H1726.2zM1920.0 1960.2H1947.7V1987.9H1920.0zM1089.5 1987.9H1117.1V2013.5H1089.5zM1310.9 1987.9H1338.6V2013.5H1310.9zM1670.8 1987.9H1698.5V2013.5H1670.8zM1781.6 1987.9H1809.2V2013.5H1781.6zM1892.3 1987.9H1947.7V2013.5H1892.3zM399.6 2013.5H427.2V2041.2H399.6zM701.9 2013.5H729.6V2041.2H701.9zM757.3 2013.5H784.9V2041.2H757.3zM895.7 2013.5H923.4V2041.2H895.7zM1034.1 2013.5H1061.8V2041.2H1034.1zM1310.9 2013.5H1338.6V2041.2H1310.9zM1726.2 2013.5H1753.9V2041.2H1726.2zM1920.0 2013.5H1947.7V2041.2H1920.0zM563.5 2041.2H591.2V2068.9H563.5zM1172.5 2041.2H1200.2V2068.9H1172.5zM1421.7 2041.2H1449.4V2068.9H1421.7zM1587.8 2041.2H1615.5V2068.9H1587.8zM1781.6 2041.2H1809.2V2068.9H1781.6zM1892.3 2041.2H1920.0V2068.9H1892.3zM895.7 2068.9H923.4V2096.6H895.7zM1117.1 2068.9H1144.8V2096.6H1117.1zM1421.7 2068.9H1449.4V2096.6H1421.7zM1781.6 2068.9H1809.2V2096.6H1781.6zM1864.6 2068.9H1892.3V2096.6H1864.6zM1920.0 2068.9H1947.7V2096.6H1920.0zM371.9 2096.6H399.6V2124.2H371.9zM482.6 2096.6H508.1V2124.2H482.6zM563.5 2096.6H591.2V2124.2H563.5zM701.9 2096.6H729.6V2124.2H701.9zM757.3 2096.6H784.9V2124.2H757.3zM895.7 2096.6H923.4V2124.2H895.7zM1255.6 2096.6H1283.3V2124.2H1255.6zM1587.8 2096.6H1615.5V2124.2H1587.8zM701.9 2124.2H729.6V2151.9H701.9zM1006.4 2124.2H1034.1V2151.9H1006.4zM1643.1 2124.2H1670.8V2151.9H1643.1zM1781.6 2124.2H1809.2V2151.9H1781.6zM1892.3 2124.2H1920.0V2151.9H1892.3zM1975.4 2124.2H2003.0V2151.9H1975.4zM371.9 2151.9H399.6V2179.6H371.9zM535.8 2151.9H591.2V2179.6H535.8zM1006.4 2151.9H1034.1V2179.6H1006.4zM1255.6 2151.9H1283.3V2179.6H1255.6zM1643.1 2151.9H1670.8V2179.6H1643.1zM1726.2 2151.9H1753.9V2179.6H1726.2zM1781.6 2151.9H1809.2V2179.6H1781.6zM1892.3 2151.9H1920.0V2179.6H1892.3zM674.2 2179.6H729.6V2207.3H674.2zM1034.1 2179.6H1061.8V2207.3H1034.1zM1255.6 2179.6H1283.3V2207.3H1255.6zM1670.8 2179.6H1698.5V2207.3H1670.8zM1726.2 2179.6H1753.9V2207.3H1726.2zM1920.0 2179.6H1947.7V2207.3H1920.0zM2003.0 2179.6H2030.7V2207.3H2003.0zM591.2 2207.3H618.8V2235.0H591.2zM784.9 2207.3H812.6V2235.0H784.9zM1117.1 2207.3H1144.8V2235.0H1117.1zM1310.9 2207.3H1338.6V2235.0H1310.9zM1421.7 2207.3H1449.4V2235.0H1421.7zM1643.1 2207.3H1670.8V2235.0H1643.1zM1338.6 2235.0H1366.3V2262.7H1338.6zM1781.6 2235.0H1809.2V2262.7H1781.6zM371.9 2262.7H399.6V2290.4H371.9zM784.9 2262.7H812.6V2290.4H784.9zM1172.5 2262.7H1200.2V2290.4H1172.5zM1338.6 2262.7H1366.3V2290.4H1338.6zM1560.1 2262.7H1587.8V2290.4H1560.1zM1670.8 2262.7H1698.5V2290.4H1670.8zM1726.2 2262.7H1753.9V2290.4H1726.2zM1809.2 2262.7H1836.9V2290.4H1809.2z"/>
<path fill="#5555a6" d="M399.6 1462.1H427.2V1489.8H399.6zM646.5 1462.1H674.2V1489.8H646.5zM784.9 1462.1H812.6V1489.8H784.9zM895.7 1462.1H923.4V1489.8H895.7zM1975.4 1462.1H2003.0V1489.8H1975.4zM371.9 1489.8H399.6V1517.4H371.9zM563.5 1489.8H591.2V1517.4H563.5zM701.9 1489.8H729.6V1517.4H701.9zM868.0 1489.8H895.7V1517.4H868.0zM1006.4 1489.8H1034.1V1517.4H1006.4zM1089.5 1489.8H1117.1V1517.4H1089.5zM371.9 1517.4H399.6V1545.1H371.9zM563.5 1517.4H591.2V1545.1H563.5zM701.9 1517.4H729.6V1545.1H701.9zM951.0 1517.4H978.7V1545.1H951.0zM1006.4 1517.4H1034.1V1545.1H1006.4zM1255.6 1517.4H1283.3V1545.1H1255.6zM371.9 1545.1H399.6V1572.8H371.9zM508.1 1545.1H535.8V1572.8H508.1zM784.9 1545.1H812.6V1572.8H784.9zM895.7 1545.1H923.4V1572.8H895.7zM951.0 1545.1H978.7V1572.8H951.0zM1338.6 1545.1H1366.3V1572.8H1338.6zM1560.1 1545.1H1587.8V1572.8H1560.1zM1781.6 1545.1H1809.2V1572.8H1781.6zM591.2 1572.8H618.8V1600.5H591.2zM1255.6 1572.8H1283.3V1600.5H1255.6zM1310.9 1572.8H1338.6V1600.5H1310.9zM1421.7 1572.8H1449.4V1600.5H1421.7zM1726.2 1572.8H1753.9V1600.5H1726.2zM563.5 1600.5H591.2V1628.1H563.5zM646.5 1600.5H674.2V1628.1H646.5zM757.3 1600.5H784.9V1628.1H757.3zM868.0 1600.5H923.4V1628.1H868.0zM1227.9 1600.5H1283.3V1628.1H1227.9zM1560.1 1600.5H1587.8V1628.1H1560.1zM1117.1 1628.1H1144.8V1655.8H1117.1zM1227.9 1628.1H1255.6V1655.8H1227.9zM1310.9 1628.1H1338.6V1655.8H1310.9zM1781.6 1628.1H1809.2V1655.8H1781.6zM1892.3 1628.1H1920.0V1655.8H1892.3zM1975.4 1628.1H2003.0V1655.8H1975.4zM399.6 1655.8H427.2V1683.5H399.6zM895.7 1655.8H923.4V1683.5H895.7zM1227.9 1655.8H1283.3V1683.5H1227.9zM1310.9 1655.8H1366.3V1683.5H1310.9zM1394.0 1655.8H1421.7V1683.5H1394.0zM1753.9 1655.8H1781.6V1683.5H1753.9zM1920.0 1655.8H1947.7V1683.5H1920.0zM535.8 1683.5H563.5V1711.2H535.8zM1172.5 1683.5H1200.2V1711.2H1172.5zM1338.6 1683.5H1366.3V1711.2H1338.6zM371.9 1711.2H399.6V1738.8H371.9zM729.6 1711.2H757.3V1738.8H729.6zM1338.6 1711.2H1366.3V1738.8H1338.6zM1975.4 1711.2H2003.0V1738.8H1975.4zM371.9 1738.8H399.6V1766.5H371.9zM508.1 1738.8H535.8V1766.5H508.1zM840.3 1738.8H868.0V1766.5H840.3zM978.7 1738.8H1034.1V1766.5H978.7zM1338.6 1738.8H1366.3V1766.5H1338.6zM1726.2 1738.8H1753.9V1766.5H1726.2zM371.9 1766.5H399.6V1794.2H371.9zM1172.5 1766.5H1200.2V1794.2H1172.5zM1643.1 1766.5H1698.5V1794.2H1643.1zM1034.1 1794.2H1061.8V1821.9H1034.1zM1560.1 1794.2H1587.8V1821.9H1560.1zM1781.6 1794.2H1809.2V1821.9H1781.6zM427.2 1821.9H454.9V1849.5H427.2zM951.0 1821.9H978.7V1849.5H951.0zM1587.8 1821.9H1615.5V1849.5H1587.8zM2003.0 1821.9H2030.7V1849.5H2003.0zM427.2 1849.5H454.9V1877.2H427.2zM482.6 1849.5H508.1V1877.2H482.6zM701.9 1849.5H729.6V1877.2H701.9zM812.6 1849.5H840.3V1877.2H812.6zM951.0 1849.5H1006.4V1877.2H951.0zM1089.5 1849.5H1117.1V1877.2H1089.5zM1587.8 1849.5H1615.5V1877.2H1587.8zM1726.2 1849.5H1753.9V1877.2H1726.2zM1781.6 1849.5H1809.2V1877.2H1781.6zM2003.0 1849.5H2030.7V1877.2H2003.0zM454.9 1877.2H482.6V1904.9H454.9zM784.9 1877.2H812.6V1904.9H784.9zM1255.6 1877.2H1283.3V1904.9H1255.6zM1310.9 1877.2H1338.6V1904.9H1310.9zM1615.5 1877.2H1670.8V1904.9H1615.5zM1726.2 1877.2H1753.9V1904.9H1726.2zM454.9 1904.9H482.6V1932.6H454.9zM646.5 1904.9H674.2V1932.6H646.5zM923.4 1904.9H951.0V1932.6H923.4zM1034.1 1904.9H1061.8V1932.6H1034.1zM1864.6 1904.9H1947.7V1932.6H1864.6zM454.9 1932.6H482.6V1960.2H454.9zM646.5 1932.6H674.2V1960.2H646.5zM895.7 1932.6H951.0V1960.2H895.7zM1034.1 1932.6H1061.8V1960.2H1034.1zM1643.1 1932.6H1670.8V1960.2H1643.1zM1920.0 1932.6H1947.7V1960.2H1920.0zM508.1 1960.2H535.8V1987.9H508.1zM729.6 1960.2H784.9V1987.9H729.6zM1366.3 1960.2H1394.0V1987.9H1366.3zM1421.7 1960.2H1449.4V1987.9H1421.7zM1560.1 1960.2H1587.8V1987.9H1560.1zM1836.9 1960.2H1864.6V1987.9H1836.9zM1975.4 1960.2H2003.0V1987.9H1975.4zM508.1 1987.9H535.8V2013.5H508.1zM757.3 1987.9H784.9V2013.5H757.3zM812.6 1987.9H840.3V2013.5H812.6zM895.7 1987.9H951.0V2013.5H895.7zM1006.4 1987.9H1061.8V2013.5H1006.4zM1587.8 1987.9H1615.5V2013.5H1587.8zM1726.2 1987.9H1753.9V2013.5H1726.2zM1975.4 1987.9H2003.0V2013.5H1975.4zM535.8 2013.5H563.5V2041.2H535.8zM646.5 2013.5H674.2V2041.2H646.5zM868.0 2013.5H895.7V2041.2H868.0zM1172.5 2013.5H1200.2V2041.2H1172.5zM1338.6 2013.5H1366.3V2041.2H1338.6zM1560.1 2013.5H1587.8V2041.2H1560.1zM1753.9 2013.5H1809.2V2041.2H1753.9zM508.1 2041.2H535.8V2068.9H508.1zM646.5 2041.2H674.2V2068.9H646.5zM784.9 2041.2H812.6V2068.9H784.9zM868.0 2041.2H923.4V2068.9H868.0zM978.7 2041.2H1061.8V2068.9H978.7zM1310.9 2041.2H1338.6V2068.9H1310.9zM508.1 2068.9H535.8V2096.6H508.1zM646.5 2068.9H674.2V2096.6H646.5zM757.3 2068.9H812.6V2096.6H757.3zM1006.4 2068.9H1034.1V2096.6H1006.4zM1172.5 2068.9H1200.2V2096.6H1172.5zM1172.5 2096.6H1200.2V2124.2H1172.5zM1310.9 2096.6H1338.6V2124.2H1310.9zM1920.0 2096.6H1947.7V2124.2H1920.0zM1975.4 2096.6H2003.0V2124.2H1975.4zM454.9 2124.2H482.6V2151.9H454.9zM535.8 2124.2H591.2V2151.9H535.8zM674.2 2124.2H701.9V2151.9H674.2zM1200.2 2124.2H1227.9V2151.9H1200.2zM1338.6 2124.2H1366.3V2151.9H1338.6zM1421.7 2124.2H1449.4V2151.9H1421.7zM1726.2 2124.2H1753.9V2151.9H1726.2zM674.2 2151.9H729.6V2179.6H674.2zM978.7 2151.9H1006.4V2179.6H978.7zM1034.1 2151.9H1061.8V2179.6H1034.1zM1421.7 2151.9H1449.4V2179.6H1421.7zM1975.4 2151.9H2003.0V2179.6H1975.4zM618.8 2179.6H646.5V2207.3H618.8zM812.6 2179.6H840.3V2207.3H812.6zM895.7 2179.6H923.4V2207.3H895.7zM1117.1 2179.6H1144.8V2207.3H1117.1zM1338.6 2179.6H1366.3V2207.3H1338.6zM1504.7 2179.6H1532.4V2207.3H1504.7zM508.1 2207.3H535.8V2235.0H508.1zM701.9 2207.3H729.6V2235.0H701.9zM868.0 2207.3H923.4V2235.0H868.0zM1034.1 2207.3H1061.8V2235.0H1034.1zM1587.8 2207.3H1615.5V2235.0H1587.8zM1864.6 2207.3H1892.3V2235.0H1864.6zM1920.0 2207.3H1947.7V2235.0H1920.0zM371.9 2235.0H427.2V2262.7H371.9zM618.8 2235.0H646.5V2262.7H618.8zM757.3 2235.0H784.9V2262.7H757.3zM895.7 2235.0H951.0V2262.7H895.7zM978.7 2235.0H1061.8V2262.7H978.7zM1089.5 2235.0H1117.1V2262.7H1089.5zM1172.5 2235.0H1200.2V2262.7H1172.5zM1255.6 2235.0H1283.3V2262.7H1255.6zM1310.9 2235.0H1338.6V2262.7H1310.9zM1449.4 2235.0H1504.7V2262.7H1449.4zM1836.9 2235.0H1864.6V2262.7H1836.9zM1920.0 2235.0H1947.7V2262.7H1920.0zM1975.4 2235.0H2003.0V2262.7H1975.4zM591.2 2262.7H618.8V2290.4H591.2zM757.3 2262.7H784.9V2290.4H757.3zM868.0 2262.7H895.7V2290.4H868.0zM978.7 2262.7H1006.4V2290.4H978.7zM1255.6 2262.7H1283.3V2290.4H1255.6zM1394.0 2262.7H1421.7V2290.4H1394.0z"/>
<path fill="#ffff00" d="M454.9 1462.1H482.6V1489.8H454.9zM1587.8 1462.1H1615.5V1489.8H1587.8zM1809.2 1462.1H1864.6V1489.8H1809.2zM812.6 1489.8H868.0V1517.4H812.6zM812.6 1517.4H868.0V1545.1H812.6zM840.3 1545.1H868.0V1572.8H840.3zM1227.9 1545.1H1255.6V1572.8H1227.9zM454.9 1572.8H482.6V1600.5H454.9zM2003.0 1572.8H2030.7V1600.5H2003.0zM427.2 1600.5H454.9V1628.1H427.2zM812.6 1600.5H840.3V1628.1H812.6zM1061.8 1600.5H1089.5V1628.1H1061.8zM1394.0 1600.5H1421.7V1628.1H1394.0zM1698.5 1600.5H1726.2V1628.1H1698.5zM454.9 1628.1H482.6V1655.8H454.9zM812.6 1628.1H840.3V1655.8H812.6zM1394.0 1628.1H1421.7V1655.8H1394.0zM454.9 1655.8H482.6V1683.5H454.9zM784.9 1655.8H812.6V1683.5H784.9zM1560.1 1655.8H1587.8V1683.5H1560.1zM454.9 1683.5H482.6V1711.2H454.9zM1227.9 1683.5H1255.6V1711.2H1227.9zM1587.8 1683.5H1615.5V1711.2H1587.8zM427.2 1711.2H454.9V1738.8H427.2zM784.9 1711.2H812.6V1738.8H784.9zM427.2 1738.8H454.9V1766.5H427.2zM784.9 1738.8H812.6V1766.5H784.9zM868.0 1738.8H895.7V1766.5H868.0zM1504.7 1738.8H1560.1V1766.5H1504.7zM812.6 1766.5H840.3V1794.2H812.6zM1089.5 1766.5H1117.1V1794.2H1089.5zM1227.9 1766.5H1255.6V1794.2H1227.9zM1421.7 1766.5H1449.4V1794.2H1421.7zM454.9 1794.2H482.6V1821.9H454.9zM1920.0 1794.2H1947.7V1821.9H1920.0zM454.9 1821.9H482.6V1849.5H454.9zM784.9 1821.9H812.6V1849.5H784.9zM840.3 1849.5H868.0V1877.2H840.3zM1615.5 1849.5H1643.1V1877.2H1615.5zM344.2 1877.2H371.9V1904.9H344.2zM674.2 1877.2H701.9V1904.9H674.2zM1338.6 1877.2H1366.3V1904.9H1338.6zM1477.0 1877.2H1504.7V1904.9H1477.0zM1227.9 1904.9H1255.6V1932.6H1227.9zM1283.3 1904.9H1310.9V1932.6H1283.3zM1338.6 1904.9H1366.3V1932.6H1338.6zM1532.4 1904.9H1560.1V1932.6H1532.4zM1587.8 1904.9H1615.5V1932.6H1587.8zM1809.2 1904.9H1864.6V1932.6H1809.2zM1227.9 1932.6H1255.6V1960.2H1227.9zM1338.6 1932.6H1366.3V1960.2H1338.6zM1532.4 1932.6H1560.1V1960.2H1532.4zM1061.8 1960.2H1089.5V1987.9H1061.8zM1532.4 1960.2H1560.1V1987.9H1532.4zM1892.3 1960.2H1920.0V1987.9H1892.3zM1532.4 1987.9H1560.1V2013.5H1532.4zM1394.0 2013.5H1421.7V2041.2H1394.0zM454.9 2041.2H482.6V2068.9H454.9zM840.3 2041.2H868.0V2068.9H840.3zM1117.1 2041.2H1144.8V2068.9H1117.1zM1615.5 2041.2H1643.1V2068.9H1615.5zM482.6 2068.9H508.1V2096.6H482.6zM840.3 2068.9H868.0V2096.6H840.3zM1836.9 2068.9H1864.6V2096.6H1836.9zM344.2 2096.6H371.9V2124.2H344.2zM812.6 2096.6H840.3V2124.2H812.6zM812.6 2124.2H840.3V2151.9H812.6zM344.2 2151.9H371.9V2179.6H344.2zM482.6 2151.9H508.1V2179.6H482.6zM812.6 2151.9H840.3V2179.6H812.6zM399.6 2179.6H427.2V2207.3H399.6zM482.6 2179.6H508.1V2207.3H482.6zM591.2 2179.6H618.8V2207.3H591.2zM482.6 2207.3H508.1V2235.0H482.6zM1283.3 2207.3H1310.9V2235.0H1283.3zM482.6 2235.0H508.1V2262.7H482.6zM482.6 2262.7H508.1V2290.4H482.6z"/>
<path fill="#999968" d="M508.1 1462.1H535.8V1489.8H508.1zM840.3 1462.1H895.7V1489.8H840.3zM951.0 1462.1H978.7V1489.8H951.0zM1089.5 1462.1H1117.1V1489.8H1089.5zM1338.6 1462.1H1366.3V1489.8H1338.6zM1421.7 1462.1H1449.4V1489.8H1421.7zM1753.9 1462.1H1781.6V1489.8H1753.9zM2003.0 1462.1H2030.7V1489.8H2003.0zM454.9 1489.8H482.6V1517.4H454.9zM646.5 1489.8H674.2V1517.4H646.5zM757.3 1489.8H784.9V1517.4H757.3zM923.4 1489.8H951.0V1517.4H923.4zM1117.1 1489.8H1144.8V1517.4H1117.1zM1227.9 1489.8H1283.3V1517.4H1227.9zM1394.0 1489.8H1421.7V1517.4H1394.0zM1836.9 1489.8H1864.6V1517.4H1836.9zM1920.0 1489.8H1947.7V1517.4H1920.0zM454.9 1517.4H482.6V1545.1H454.9zM646.5 1517.4H674.2V1545.1H646.5zM757.3 1517.4H784.9V1545.1H757.3zM1587.8 1517.4H1643.1V1545.1H1587.8zM1864.6 1517.4H1892.3V1545.1H1864.6zM1920.0 1517.4H1947.7V1545.1H1920.0zM563.5 1545.1H591.2V1572.8H563.5zM1006.4 1545.1H1034.1V1572.8H1006.4zM1089.5 1545.1H1117.1V1572.8H1089.5zM1283.3 1545.1H1310.9V1572.8H1283.3zM1587.8 1545.1H1643.1V1572.8H1587.8zM1698.5 1545.1H1726.2V1572.8H1698.5zM1836.9 1545.1H1864.6V1572.8H1836.9zM1920.0 1545.1H1947.7V1572.8H1920.0zM1975.4 1545.1H2003.0V1572.8H1975.4zM563.5 1572.8H591.2V1600.5H563.5zM923.4 1572.8H951.0V1600.5H923.4zM1338.6 1572.8H1366.3V1600.5H1338.6zM344.2 1600.5H371.9V1628.1H344.2zM454.9 1600.5H482.6V1628.1H454.9zM508.1 1600.5H535.8V1628.1H508.1zM1089.5 1600.5H1117.1V1628.1H1089.5zM1809.2 1600.5H1836.9V1628.1H1809.2zM427.2 1628.1H454.9V1655.8H427.2zM535.8 1628.1H563.5V1655.8H535.8zM951.0 1628.1H978.7V1655.8H951.0zM1477.0 1628.1H1504.7V1655.8H1477.0zM1809.2 1628.1H1836.9V1655.8H1809.2zM508.1 1655.8H535.8V1683.5H508.1zM840.3 1655.8H895.7V1683.5H840.3zM1117.1 1655.8H1144.8V1683.5H1117.1zM1200.2 1655.8H1227.9V1683.5H1200.2zM344.2 1683.5H371.9V1711.2H344.2zM563.5 1683.5H591.2V1711.2H563.5zM923.4 1683.5H951.0V1711.2H923.4zM1117.1 1683.5H1144.8V1711.2H1117.1zM1643.1 1683.5H1670.8V1711.2H1643.1zM563.5 1711.2H591.2V1738.8H563.5zM1394.0 1711.2H1421.7V1738.8H1394.0zM1809.2 1711.2H1836.9V1738.8H1809.2zM1864.6 1711.2H1892.3V1738.8H1864.6zM344.2 1738.8H371.9V1766.5H344.2zM563.5 1738.8H591.2V1766.5H563.5zM1200.2 1738.8H1227.9V1766.5H1200.2zM1421.7 1738.8H1449.4V1766.5H1421.7zM1864.6 1738.8H1892.3V1766.5H1864.6zM2003.0 1738.8H2030.7V1766.5H2003.0zM535.8 1766.5H591.2V1794.2H535.8zM618.8 1766.5H646.5V1794.2H618.8zM674.2 1766.5H701.9V1794.2H674.2zM923.4 1766.5H951.0V1794.2H923.4zM978.7 1766.5H1006.4V1794.2H978.7zM1255.6 1766.5H1283.3V1794.2H1255.6zM2003.0 1766.5H2030.7V1794.2H2003.0zM646.5 1794.2H674.2V1821.9H646.5zM923.4 1794.2H951.0V1821.9H923.4zM1172.5 1794.2H1200.2V1821.9H1172.5zM1975.4 1794.2H2003.0V1821.9H1975.4zM591.2 1821.9H618.8V1849.5H591.2zM646.5 1821.9H674.2V1849.5H646.5zM1117.1 1821.9H1144.8V1849.5H1117.1zM1172.5 1821.9H1200.2V1849.5H1172.5zM1338.6 1821.9H1366.3V1849.5H1338.6zM1809.2 1821.9H1836.9V1849.5H1809.2zM1920.0 1821.9H1947.7V1849.5H1920.0zM591.2 1849.5H618.8V1877.2H591.2zM646.5 1849.5H674.2V1877.2H646.5zM1366.3 1849.5H1394.0V1877.2H1366.3zM508.1 1877.2H535.8V1904.9H508.1zM729.6 1877.2H757.3V1904.9H729.6zM868.0 1877.2H895.7V1904.9H868.0zM951.0 1877.2H978.7V1904.9H951.0zM1421.7 1877.2H1449.4V1904.9H1421.7zM508.1 1904.9H535.8V1932.6H508.1zM618.8 1904.9H646.5V1932.6H618.8zM729.6 1904.9H757.3V1932.6H729.6zM508.1 1932.6H535.8V1960.2H508.1zM868.0 1932.6H895.7V1960.2H868.0zM1200.2 1932.6H1227.9V1960.2H1200.2zM2003.0 1932.6H2030.7V1960.2H2003.0zM1089.5 1960.2H1117.1V1987.9H1089.5zM1200.2 1960.2H1227.9V1987.9H1200.2zM1643.1 1960.2H1670.8V1987.9H1643.1zM1698.5 1960.2H1726.2V1987.9H1698.5zM563.5 1987.9H591.2V2013.5H563.5zM729.6 1987.9H757.3V2013.5H729.6zM1061.8 1987.9H1089.5V2013.5H1061.8zM1338.6 1987.9H1366.3V2013.5H1338.6zM591.2 2013.5H618.8V2041.2H591.2zM923.4 2013.5H951.0V2041.2H923.4zM1200.2 2013.5H1227.9V2041.2H1200.2zM1283.3 2013.5H1310.9V2041.2H1283.3zM1587.8 2013.5H1615.5V2041.2H1587.8zM1864.6 2013.5H1892.3V2041.2H1864.6zM1227.9 2041.2H1310.9V2068.9H1227.9zM1338.6 2041.2H1366.3V2068.9H1338.6zM1698.5 2041.2H1726.2V2068.9H1698.5zM1975.4 2041.2H2003.0V2068.9H1975.4zM1034.1 2068.9H1061.8V2096.6H1034.1zM1200.2 2068.9H1227.9V2096.6H1200.2zM1338.6 2068.9H1366.3V2096.6H1338.6zM1587.8 2068.9H1615.5V2096.6H1587.8zM1975.4 2068.9H2003.0V2096.6H1975.4zM508.1 2096.6H535.8V2124.2H508.1zM618.8 2096.6H646.5V2124.2H618.8zM923.4 2096.6H951.0V2124.2H923.4zM1034.1 2096.6H1061.8V2124.2H1034.1zM1227.9 2096.6H1255.6V2124.2H1227.9zM1864.6 2096.6H1892.3V2124.2H1864.6zM1117.1 2124.2H1144.8V2151.9H1117.1zM1809.2 2124.2H1836.9V2151.9H1809.2zM729.6 2151.9H757.3V2179.6H729.6zM1117.1 2151.9H1144.8V2179.6H1117.1zM1172.5 2151.9H1200.2V2179.6H1172.5zM1366.3 2151.9H1394.0V2179.6H1366.3zM1670.8 2151.9H1698.5V2179.6H1670.8zM1200.2 2179.6H1255.6V2207.3H1200.2zM1283.3 2179.6H1310.9V2207.3H1283.3zM1615.5 2179.6H1643.1V2207.3H1615.5zM1698.5 2179.6H1726.2V2207.3H1698.5zM618.8 2207.3H646.5V2235.0H618.8zM674.2 2207.3H701.9V2235.0H674.2zM757.3 2207.3H784.9V2235.0H757.3zM951.0 2207.3H978.7V2235.0H951.0zM1200.2 2207.3H1227.9V2235.0H1200.2zM1726.2 2207.3H1753.9V2235.0H1726.2zM2003.0 2207.3H2030.7V2235.0H2003.0zM535.8 2235.0H591.2V2262.7H535.8zM812.6 2235.0H840.3V2262.7H812.6zM1587.8 2235.0H1615.5V2262.7H1587.8zM1864.6 2235.0H1892.3V2262.7H1864.6zM923.4 2262.7H951.0V2290.4H923.4zM1089.5 2262.7H1117.1V2290.4H1089.5zM1836.9 2262.7H1864.6V2290.4H1836.9zM1920.0 2262.7H1947.7V2290.4H1920.0z"/>
<path fill="#6c6c90" d="M535.8 1462.1H563.5V1489.8H535.8zM923.4 1462.1H951.0V1489.8H923.4zM978.7 1462.1H1006.4V1489.8H978.7zM1117.1 1462.1H1144.8V1489.8H1117.1zM1255.6 1462.1H1283.3V1489.8H1255.6zM1366.3 1462.1H1421.7V1489.8H1366.3zM1615.5 1462.1H1698.5V1489.8H1615.5zM1726.2 1462.1H1753.9V1489.8H1726.2zM1892.3 1462.1H1947.7V1489.8H1892.3zM482.6 1489.8H508.1V1517.4H482.6zM618.8 1489.8H646.5V1517.4H618.8zM729.6 1489.8H757.3V1517.4H729.6zM951.0 1489.8H1006.4V1517.4H951.0zM1172.5 1489.8H1200.2V1517.4H1172.5zM1421.7 1489.8H1449.4V1517.4H1421.7zM1587.8 1489.8H1615.5V1517.4H1587.8zM1975.4 1489.8H2003.0V1517.4H1975.4zM482.6 1517.4H508.1V1545.1H482.6zM618.8 1517.4H646.5V1545.1H618.8zM729.6 1517.4H757.3V1545.1H729.6zM868.0 1517.4H895.7V1545.1H868.0zM978.7 1517.4H1006.4V1545.1H978.7zM1089.5 1517.4H1117.1V1545.1H1089.5zM1560.1 1517.4H1587.8V1545.1H1560.1zM1643.1 1517.4H1670.8V1545.1H1643.1zM2003.0 1517.4H2030.7V1545.1H2003.0zM399.6 1545.1H454.9V1572.8H399.6zM591.2 1545.1H618.8V1572.8H591.2zM1034.1 1545.1H1061.8V1572.8H1034.1zM1117.1 1545.1H1144.8V1572.8H1117.1zM1449.4 1545.1H1477.0V1572.8H1449.4zM1726.2 1545.1H1753.9V1572.8H1726.2zM1864.6 1545.1H1920.0V1572.8H1864.6zM2003.0 1545.1H2030.7V1572.8H2003.0zM399.6 1572.8H427.2V1600.5H399.6zM868.0 1572.8H895.7V1600.5H868.0zM951.0 1572.8H978.7V1600.5H951.0zM1089.5 1572.8H1117.1V1600.5H1089.5zM1366.3 1572.8H1394.0V1600.5H1366.3zM1504.7 1572.8H1532.4V1600.5H1504.7zM1920.0 1572.8H1947.7V1600.5H1920.0zM482.6 1600.5H508.1V1628.1H482.6zM535.8 1600.5H563.5V1628.1H535.8zM1117.1 1600.5H1144.8V1628.1H1117.1zM1864.6 1600.5H1892.3V1628.1H1864.6zM1920.0 1600.5H1947.7V1628.1H1920.0zM1975.4 1600.5H2003.0V1628.1H1975.4zM508.1 1628.1H535.8V1655.8H508.1zM895.7 1628.1H951.0V1655.8H895.7zM1864.6 1628.1H1892.3V1655.8H1864.6zM535.8 1655.8H563.5V1683.5H535.8zM1089.5 1655.8H1117.1V1683.5H1089.5zM1172.5 1655.8H1200.2V1683.5H1172.5zM1477.0 1655.8H1504.7V1683.5H1477.0zM1726.2 1655.8H1753.9V1683.5H1726.2zM1864.6 1655.8H1892.3V1683.5H1864.6zM371.9 1683.5H399.6V1711.2H371.9zM591.2 1683.5H618.8V1711.2H591.2zM729.6 1683.5H757.3V1711.2H729.6zM868.0 1683.5H895.7V1711.2H868.0zM951.0 1683.5H978.7V1711.2H951.0zM1034.1 1683.5H1061.8V1711.2H1034.1zM1089.5 1683.5H1117.1V1711.2H1089.5zM1255.6 1683.5H1310.9V1711.2H1255.6zM1477.0 1683.5H1504.7V1711.2H1477.0zM1698.5 1683.5H1726.2V1711.2H1698.5zM1920.0 1683.5H1947.7V1711.2H1920.0zM591.2 1711.2H618.8V1738.8H591.2zM840.3 1711.2H868.0V1738.8H840.3zM923.4 1711.2H951.0V1738.8H923.4zM1255.6 1711.2H1283.3V1738.8H1255.6zM1421.7 1711.2H1449.4V1738.8H1421.7zM1836.9 1711.2H1864.6V1738.8H1836.9zM591.2 1738.8H618.8V1766.5H591.2zM757.3 1738.8H784.9V1766.5H757.3zM923.4 1738.8H951.0V1766.5H923.4zM1172.5 1738.8H1200.2V1766.5H1172.5zM1255.6 1738.8H1310.9V1766.5H1255.6zM1394.0 1738.8H1421.7V1766.5H1394.0zM1809.2 1738.8H1836.9V1766.5H1809.2zM1892.3 1738.8H1920.0V1766.5H1892.3zM1975.4 1738.8H2003.0V1766.5H1975.4zM508.1 1766.5H535.8V1794.2H508.1zM591.2 1766.5H618.8V1794.2H591.2zM646.5 1766.5H674.2V1794.2H646.5zM868.0 1766.5H923.4V1794.2H868.0zM951.0 1766.5H978.7V1794.2H951.0zM1006.4 1766.5H1089.5V1794.2H1006.4zM1449.4 1766.5H1532.4V1794.2H1449.4zM1975.4 1766.5H2003.0V1794.2H1975.4zM427.2 1794.2H454.9V1821.9H427.2zM618.8 1794.2H646.5V1821.9H618.8zM729.6 1794.2H757.3V1821.9H729.6zM895.7 1794.2H923.4V1821.9H895.7zM951.0 1794.2H1034.1V1821.9H951.0zM1200.2 1794.2H1227.9V1821.9H1200.2zM1283.3 1794.2H1338.6V1821.9H1283.3zM1698.5 1794.2H1781.6V1821.9H1698.5zM2003.0 1794.2H2030.7V1821.9H2003.0zM399.6 1821.9H427.2V1849.5H399.6zM563.5 1821.9H591.2V1849.5H563.5zM618.8 1821.9H646.5V1849.5H618.8zM701.9 1821.9H784.9V1849.5H701.9zM1089.5 1821.9H1117.1V1849.5H1089.5zM1200.2 1821.9H1227.9V1849.5H1200.2zM1283.3 1821.9H1338.6V1849.5H1283.3zM1366.3 1821.9H1394.0V1849.5H1366.3zM1449.4 1821.9H1477.0V1849.5H1449.4zM1504.7 1821.9H1532.4V1849.5H1504.7zM1643.1 1821.9H1670.8V1849.5H1643.1zM1698.5 1821.9H1753.9V1849.5H1698.5zM1836.9 1821.9H1864.6V1849.5H1836.9zM563.5 1849.5H591.2V1877.2H563.5zM618.8 1849.5H646.5V1877.2H618.8zM729.6 1849.5H757.3V1877.2H729.6zM868.0 1849.5H895.7V1877.2H868.0zM1006.4 1849.5H1061.8V1877.2H1006.4zM1172.5 1849.5H1200.2V1877.2H1172.5zM1283.3 1849.5H1366.3V1877.2H1283.3zM1449.4 1849.5H1477.0V1877.2H1449.4zM1532.4 1849.5H1560.1V1877.2H1532.4zM1643.1 1849.5H1670.8V1877.2H1643.1zM1698.5 1849.5H1726.2V1877.2H1698.5zM1809.2 1849.5H1836.9V1877.2H1809.2zM535.8 1877.2H563.5V1904.9H535.8zM757.3 1877.2H784.9V1904.9H757.3zM923.4 1877.2H951.0V1904.9H923.4zM978.7 1877.2H1006.4V1904.9H978.7zM1034.1 1877.2H1061.8V1904.9H1034.1zM1394.0 1877.2H1421.7V1904.9H1394.0zM399.6 1904.9H454.9V1932.6H399.6zM535.8 1904.9H563.5V1932.6H535.8zM868.0 1904.9H923.4V1932.6H868.0zM978.7 1904.9H1006.4V1932.6H978.7zM1172.5 1904.9H1200.2V1932.6H1172.5zM535.8 1932.6H563.5V1960.2H535.8zM757.3 1932.6H784.9V1960.2H757.3zM1172.5 1932.6H1200.2V1960.2H1172.5zM1726.2 1932.6H1753.9V1960.2H1726.2zM1864.6 1932.6H1892.3V1960.2H1864.6zM1975.4 1932.6H2003.0V1960.2H1975.4zM399.6 1960.2H427.2V1987.9H399.6zM646.5 1960.2H674.2V1987.9H646.5zM868.0 1960.2H895.7V1987.9H868.0zM1006.4 1960.2H1034.1V1987.9H1006.4zM1117.1 1960.2H1144.8V1987.9H1117.1zM1172.5 1960.2H1200.2V1987.9H1172.5zM1227.9 1960.2H1283.3V1987.9H1227.9zM1615.5 1960.2H1643.1V1987.9H1615.5zM1670.8 1960.2H1698.5V1987.9H1670.8zM371.9 1987.9H399.6V2013.5H371.9zM591.2 1987.9H618.8V2013.5H591.2zM868.0 1987.9H895.7V2013.5H868.0zM1366.3 1987.9H1394.0V2013.5H1366.3zM1753.9 1987.9H1781.6V2013.5H1753.9zM371.9 2013.5H399.6V2041.2H371.9zM563.5 2013.5H591.2V2041.2H563.5zM951.0 2013.5H1006.4V2041.2H951.0zM1255.6 2013.5H1283.3V2041.2H1255.6zM1643.1 2013.5H1670.8V2041.2H1643.1zM1892.3 2013.5H1920.0V2041.2H1892.3zM2003.0 2013.5H2030.7V2041.2H2003.0zM399.6 2041.2H427.2V2068.9H399.6zM1366.3 2041.2H1394.0V2068.9H1366.3zM1643.1 2041.2H1670.8V2068.9H1643.1zM1864.6 2041.2H1892.3V2068.9H1864.6zM1920.0 2041.2H1947.7V2068.9H1920.0zM2003.0 2041.2H2030.7V2068.9H2003.0zM399.6 2068.9H427.2V2096.6H399.6zM701.9 2068.9H757.3V2096.6H701.9zM868.0 2068.9H895.7V2096.6H868.0zM1061.8 2068.9H1089.5V2096.6H1061.8zM1366.3 2068.9H1394.0V2096.6H1366.3zM1560.1 2068.9H1587.8V2096.6H1560.1zM2003.0 2068.9H2030.7V2096.6H2003.0zM399.6 2096.6H454.9V2124.2H399.6zM535.8 2096.6H563.5V2124.2H535.8zM646.5 2096.6H701.9V2124.2H646.5zM868.0 2096.6H895.7V2124.2H868.0zM951.0 2096.6H978.7V2124.2H951.0zM1006.4 2096.6H1034.1V2124.2H1006.4zM1117.1 2096.6H1144.8V2124.2H1117.1zM1338.6 2096.6H1366.3V2124.2H1338.6zM1643.1 2096.6H1670.8V2124.2H1643.1zM1698.5 2096.6H1809.2V2124.2H1698.5zM1892.3 2096.6H1920.0V2124.2H1892.3zM618.8 2124.2H646.5V2151.9H618.8zM868.0 2124.2H923.4V2151.9H868.0zM951.0 2124.2H978.7V2151.9H951.0zM1034.1 2124.2H1061.8V2151.9H1034.1zM1089.5 2124.2H1117.1V2151.9H1089.5zM1670.8 2124.2H1726.2V2151.9H1670.8zM427.2 2151.9H454.9V2179.6H427.2zM646.5 2151.9H674.2V2179.6H646.5zM868.0 2151.9H951.0V2179.6H868.0zM1089.5 2151.9H1117.1V2179.6H1089.5zM1200.2 2151.9H1227.9V2179.6H1200.2zM1338.6 2151.9H1366.3V2179.6H1338.6zM1698.5 2151.9H1726.2V2179.6H1698.5zM1920.0 2151.9H1947.7V2179.6H1920.0zM344.2 2179.6H371.9V2207.3H344.2zM535.8 2179.6H563.5V2207.3H535.8zM951.0 2179.6H978.7V2207.3H951.0zM1006.4 2179.6H1034.1V2207.3H1006.4zM1172.5 2179.6H1200.2V2207.3H1172.5zM1310.9 2179.6H1338.6V2207.3H1310.9zM1864.6 2179.6H1892.3V2207.3H1864.6zM646.5 2207.3H674.2V2235.0H646.5zM729.6 2207.3H757.3V2235.0H729.6zM923.4 2207.3H951.0V2235.0H923.4zM978.7 2207.3H1034.1V2235.0H978.7zM1172.5 2207.3H1200.2V2235.0H1172.5zM1449.4 2207.3H1477.0V2235.0H1449.4zM1504.7 2207.3H1560.1V2235.0H1504.7zM1753.9 2207.3H1781.6V2235.0H1753.9zM1892.3 2207.3H1920.0V2235.0H1892.3zM1975.4 2207.3H2003.0V2235.0H1975.4zM427.2 2235.0H454.9V2262.7H427.2zM508.1 2235.0H535.8V2262.7H508.1zM591.2 2235.0H618.8V2262.7H591.2zM784.9 2235.0H812.6V2262.7H784.9zM868.0 2235.0H895.7V2262.7H868.0zM1560.1 2235.0H1587.8V2262.7H1560.1zM427.2 2262.7H454.9V2290.4H427.2zM618.8 2262.7H646.5V2290.4H618.8zM895.7 2262.7H923.4V2290.4H895.7zM951.0 2262.7H978.7V2290.4H951.0zM1006.4 2262.7H1061.8V2290.4H1006.4zM1117.1 2262.7H1144.8V2290.4H1117.1zM1449.4 2262.7H1532.4V2290.4H1449.4zM1615.5 2262.7H1643.1V2290.4H1615.5zM1781.6 2262.7H1809.2V2290.4H1781.6zM1864.6 2262.7H1920.0V2290.4H1864.6zM2003.0 2262.7H2030.7V2290.4H2003.0z"/>
<path fill="#dcdc26" d="M591.2 1462.1H618.8V1489.8H591.2zM1227.9 1462.1H1255.6V1489.8H1227.9zM1698.5 1462.1H1726.2V1489.8H1698.5zM674.2 1489.8H701.9V1517.4H674.2zM1283.3 1489.8H1310.9V1517.4H1283.3zM1338.6 1489.8H1366.3V1517.4H1338.6zM508.1 1517.4H535.8V1545.1H508.1zM344.2 1545.1H371.9V1572.8H344.2zM1643.1 1545.1H1670.8V1572.8H1643.1zM508.1 1572.8H535.8V1600.5H508.1zM618.8 1572.8H646.5V1600.5H618.8zM840.3 1572.8H868.0V1600.5H840.3zM1200.2 1572.8H1255.6V1600.5H1200.2zM1587.8 1572.8H1615.5V1600.5H1587.8zM840.3 1600.5H868.0V1628.1H840.3zM923.4 1600.5H951.0V1628.1H923.4zM618.8 1628.1H646.5V1655.8H618.8zM840.3 1628.1H868.0V1655.8H840.3zM1366.3 1628.1H1394.0V1655.8H1366.3zM1753.9 1628.1H1781.6V1655.8H1753.9zM618.8 1655.8H646.5V1683.5H618.8zM2003.0 1655.8H2030.7V1683.5H2003.0zM1615.5 1683.5H1643.1V1711.2H1615.5zM1809.2 1683.5H1864.6V1711.2H1809.2zM2003.0 1683.5H2030.7V1711.2H2003.0zM454.9 1711.2H482.6V1738.8H454.9zM618.8 1711.2H646.5V1738.8H618.8zM868.0 1711.2H895.7V1738.8H868.0zM1587.8 1711.2H1615.5V1738.8H1587.8zM618.8 1738.8H646.5V1766.5H618.8zM1227.9 1738.8H1255.6V1766.5H1227.9zM1920.0 1738.8H1947.7V1766.5H1920.0zM1338.6 1766.5H1366.3V1794.2H1338.6zM535.8 1794.2H563.5V1821.9H535.8zM591.2 1794.2H618.8V1821.9H591.2zM757.3 1794.2H784.9V1821.9H757.3zM840.3 1794.2H868.0V1821.9H840.3zM1061.8 1794.2H1089.5V1821.9H1061.8zM535.8 1821.9H563.5V1849.5H535.8zM1615.5 1821.9H1643.1V1849.5H1615.5zM535.8 1849.5H563.5V1877.2H535.8zM1061.8 1849.5H1089.5V1877.2H1061.8zM1753.9 1849.5H1781.6V1877.2H1753.9zM1117.1 1877.2H1144.8V1904.9H1117.1zM1587.8 1877.2H1615.5V1904.9H1587.8zM1809.2 1877.2H1836.9V1904.9H1809.2zM344.2 1904.9H371.9V1932.6H344.2zM2003.0 1904.9H2030.7V1932.6H2003.0zM1117.1 1932.6H1144.8V1960.2H1117.1zM1587.8 1932.6H1643.1V1960.2H1587.8zM1698.5 1932.6H1726.2V1960.2H1698.5zM1809.2 1932.6H1836.9V1960.2H1809.2zM840.3 1960.2H868.0V1987.9H840.3zM1283.3 1960.2H1310.9V1987.9H1283.3zM1809.2 1987.9H1864.6V2013.5H1809.2zM840.3 2013.5H868.0V2041.2H840.3zM1698.5 2013.5H1726.2V2041.2H1698.5zM674.2 2041.2H701.9V2068.9H674.2zM1394.0 2041.2H1421.7V2068.9H1394.0zM344.2 2068.9H371.9V2096.6H344.2zM427.2 2068.9H454.9V2096.6H427.2zM674.2 2068.9H701.9V2096.6H674.2zM1227.9 2068.9H1255.6V2096.6H1227.9zM1809.2 2068.9H1836.9V2096.6H1809.2zM840.3 2096.6H868.0V2124.2H840.3zM1061.8 2096.6H1089.5V2124.2H1061.8zM757.3 2124.2H784.9V2151.9H757.3zM1615.5 2124.2H1643.1V2151.9H1615.5zM1753.9 2124.2H1781.6V2151.9H1753.9zM2003.0 2124.2H2030.7V2151.9H2003.0zM591.2 2151.9H618.8V2179.6H591.2zM757.3 2179.6H784.9V2207.3H757.3zM1477.0 2179.6H1504.7V2207.3H1477.0zM1532.4 2179.6H1560.1V2207.3H1532.4zM1809.2 2179.6H1836.9V2207.3H1809.2zM812.6 2207.3H840.3V2235.0H812.6zM1089.5 2207.3H1117.1V2235.0H1089.5zM1809.2 2207.3H1864.6V2235.0H1809.2zM674.2 2235.0H701.9V2262.7H674.2zM729.6 2235.0H757.3V2262.7H729.6zM1283.3 2235.0H1310.9V2262.7H1283.3zM1615.5 2235.0H1643.1V2262.7H1615.5zM1753.9 2235.0H1781.6V2262.7H1753.9zM1809.2 2235.0H1836.9V2262.7H1809.2zM812.6 2262.7H840.3V2290.4H812.6zM1061.8 2262.7H1089.5V2290.4H1061.8zM1227.9 2262.7H1255.6V2290.4H1227.9zM1283.3 2262.7H1310.9V2290.4H1283.3z"/>
<path fill="#aaaa56" d="M618.8 1462.1H646.5V1489.8H618.8zM812.6 1462.1H840.3V1489.8H812.6zM1283.3 1462.1H1310.9V1489.8H1283.3zM591.2 1489.8H618.8V1517.4H591.2zM1615.5 1489.8H1643.1V1517.4H1615.5zM1698.5 1489.8H1726.2V1517.4H1698.5zM1753.9 1489.8H1781.6V1517.4H1753.9zM591.2 1517.4H618.8V1545.1H591.2zM674.2 1517.4H701.9V1545.1H674.2zM923.4 1517.4H951.0V1545.1H923.4zM1753.9 1517.4H1781.6V1545.1H1753.9zM1836.9 1517.4H1864.6V1545.1H1836.9zM535.8 1545.1H563.5V1572.8H535.8zM674.2 1545.1H701.9V1572.8H674.2zM812.6 1545.1H840.3V1572.8H812.6zM1366.3 1545.1H1394.0V1572.8H1366.3zM1394.0 1572.8H1421.7V1600.5H1394.0zM591.2 1600.5H618.8V1628.1H591.2zM978.7 1600.5H1006.4V1628.1H978.7zM1477.0 1600.5H1504.7V1628.1H1477.0zM1587.8 1600.5H1615.5V1628.1H1587.8zM1753.9 1600.5H1781.6V1628.1H1753.9zM1089.5 1628.1H1117.1V1655.8H1089.5zM2003.0 1628.1H2030.7V1655.8H2003.0zM1366.3 1655.8H1394.0V1683.5H1366.3zM1421.7 1655.8H1449.4V1683.5H1421.7zM427.2 1683.5H454.9V1711.2H427.2zM508.1 1683.5H535.8V1711.2H508.1zM1200.2 1683.5H1227.9V1711.2H1200.2zM1366.3 1683.5H1394.0V1711.2H1366.3zM1864.6 1683.5H1892.3V1711.2H1864.6zM1366.3 1711.2H1394.0V1738.8H1366.3zM1504.7 1711.2H1532.4V1738.8H1504.7zM1698.5 1711.2H1726.2V1738.8H1698.5zM1920.0 1711.2H1947.7V1738.8H1920.0zM2003.0 1711.2H2030.7V1738.8H2003.0zM535.8 1738.8H563.5V1766.5H535.8zM1366.3 1738.8H1394.0V1766.5H1366.3zM1587.8 1738.8H1615.5V1766.5H1587.8zM1200.2 1766.5H1227.9V1794.2H1200.2zM1726.2 1766.5H1753.9V1794.2H1726.2zM1809.2 1766.5H1920.0V1794.2H1809.2zM674.2 1794.2H701.9V1821.9H674.2zM1587.8 1794.2H1670.8V1821.9H1587.8zM923.4 1821.9H951.0V1849.5H923.4zM1061.8 1821.9H1089.5V1849.5H1061.8zM1532.4 1821.9H1587.8V1849.5H1532.4zM1975.4 1821.9H2003.0V1849.5H1975.4zM454.9 1849.5H482.6V1877.2H454.9zM784.9 1849.5H812.6V1877.2H784.9zM923.4 1849.5H951.0V1877.2H923.4zM1117.1 1849.5H1144.8V1877.2H1117.1zM1560.1 1849.5H1587.8V1877.2H1560.1zM1864.6 1849.5H1892.3V1877.2H1864.6zM1920.0 1849.5H1947.7V1877.2H1920.0zM1975.4 1849.5H2003.0V1877.2H1975.4zM482.6 1877.2H508.1V1904.9H482.6zM812.6 1877.2H868.0V1904.9H812.6zM482.6 1904.9H508.1V1932.6H482.6zM840.3 1904.9H868.0V1932.6H840.3zM951.0 1904.9H978.7V1932.6H951.0zM482.6 1932.6H508.1V1960.2H482.6zM618.8 1932.6H646.5V1960.2H618.8zM951.0 1932.6H978.7V1960.2H951.0zM1006.4 1932.6H1034.1V1960.2H1006.4zM1283.3 1932.6H1310.9V1960.2H1283.3zM1753.9 1932.6H1781.6V1960.2H1753.9zM427.2 1960.2H454.9V1987.9H427.2zM535.8 1960.2H563.5V1987.9H535.8zM1338.6 1960.2H1366.3V1987.9H1338.6zM1394.0 1960.2H1421.7V1987.9H1394.0zM1587.8 1960.2H1615.5V1987.9H1587.8zM1809.2 1960.2H1836.9V1987.9H1809.2zM2003.0 1960.2H2030.7V1987.9H2003.0zM535.8 1987.9H563.5V2013.5H535.8zM784.9 1987.9H812.6V2013.5H784.9zM840.3 1987.9H868.0V2013.5H840.3zM951.0 1987.9H978.7V2013.5H951.0zM1560.1 1987.9H1587.8V2013.5H1560.1zM1864.6 1987.9H1892.3V2013.5H1864.6zM2003.0 1987.9H2030.7V2013.5H2003.0zM344.2 2013.5H371.9V2041.2H344.2zM427.2 2013.5H454.9V2041.2H427.2zM508.1 2013.5H535.8V2041.2H508.1zM618.8 2013.5H646.5V2041.2H618.8zM1006.4 2013.5H1034.1V2041.2H1006.4zM1061.8 2013.5H1089.5V2041.2H1061.8zM1366.3 2013.5H1394.0V2041.2H1366.3zM1615.5 2013.5H1643.1V2041.2H1615.5zM1836.9 2013.5H1864.6V2041.2H1836.9zM535.8 2041.2H563.5V2068.9H535.8zM618.8 2041.2H646.5V2068.9H618.8zM757.3 2041.2H784.9V2068.9H757.3zM812.6 2041.2H840.3V2068.9H812.6zM535.8 2068.9H563.5V2096.6H535.8zM618.8 2068.9H646.5V2096.6H618.8zM812.6 2068.9H840.3V2096.6H812.6zM978.7 2068.9H1006.4V2096.6H978.7zM1698.5 2068.9H1726.2V2096.6H1698.5zM1892.3 2068.9H1920.0V2096.6H1892.3zM1200.2 2096.6H1227.9V2124.2H1200.2zM1532.4 2096.6H1560.1V2124.2H1532.4zM1670.8 2096.6H1698.5V2124.2H1670.8zM1836.9 2096.6H1864.6V2124.2H1836.9zM2003.0 2096.6H2030.7V2124.2H2003.0zM344.2 2124.2H371.9V2151.9H344.2zM427.2 2124.2H454.9V2151.9H427.2zM482.6 2124.2H535.8V2151.9H482.6zM591.2 2124.2H618.8V2151.9H591.2zM729.6 2124.2H757.3V2151.9H729.6zM840.3 2124.2H868.0V2151.9H840.3zM1172.5 2124.2H1200.2V2151.9H1172.5zM1227.9 2124.2H1255.6V2151.9H1227.9zM1283.3 2124.2H1310.9V2151.9H1283.3zM1366.3 2124.2H1421.7V2151.9H1366.3zM1449.4 2124.2H1477.0V2151.9H1449.4zM840.3 2151.9H868.0V2179.6H840.3zM1283.3 2151.9H1310.9V2179.6H1283.3zM1394.0 2151.9H1421.7V2179.6H1394.0zM1449.4 2151.9H1477.0V2179.6H1449.4zM1809.2 2151.9H1836.9V2179.6H1809.2zM2003.0 2151.9H2030.7V2179.6H2003.0zM427.2 2179.6H454.9V2207.3H427.2zM646.5 2179.6H674.2V2207.3H646.5zM784.9 2179.6H812.6V2207.3H784.9zM840.3 2179.6H868.0V2207.3H840.3zM1061.8 2179.6H1117.1V2207.3H1061.8zM1366.3 2179.6H1394.0V2207.3H1366.3zM427.2 2207.3H454.9V2235.0H427.2zM1560.1 2207.3H1587.8V2235.0H1560.1zM840.3 2235.0H868.0V2262.7H840.3zM951.0 2235.0H978.7V2262.7H951.0zM1117.1 2235.0H1144.8V2262.7H1117.1zM1200.2 2235.0H1227.9V2262.7H1200.2zM1504.7 2235.0H1560.1V2262.7H1504.7zM2003.0 2235.0H2030.7V2262.7H2003.0zM563.5 2262.7H591.2V2290.4H563.5zM840.3 2262.7H868.0V2290.4H840.3zM1421.7 2262.7H1449.4V2290.4H1421.7zM1698.5 2262.7H1726.2V2290.4H1698.5z"/>
<path fill="#ff0000" d="M674.2 1462.1H701.9V1489.8H674.2zM1477.0 1462.1H1504.7V1489.8H1477.0zM1477.0 1489.8H1504.7V1517.4H1477.0zM1477.0 1517.4H1504.7V1545.1H1477.0zM1061.8 1572.8H1089.5V1600.5H1061.8zM1532.4 2068.9H1560.1V2096.6H1532.4z"/>
<path fill="#ffd000" d="M1061.8 1462.1H1089.5V1489.8H1061.8zM427.2 1489.8H454.9V1517.4H427.2zM1809.2 1489.8H1836.9V1517.4H1809.2zM427.2 1517.4H454.9V1545.1H427.2zM1283.3 1517.4H1310.9V1545.1H1283.3zM1809.2 1517.4H1836.9V1545.1H1809.2zM1809.2 1545.1H1836.9V1572.8H1809.2zM674.2 1600.5H701.9V1628.1H674.2zM1836.9 1600.5H1864.6V1628.1H1836.9zM344.2 1628.1H371.9V1655.8H344.2zM1836.9 1628.1H1864.6V1655.8H1836.9zM344.2 1655.8H371.9V1683.5H344.2zM1061.8 1655.8H1089.5V1683.5H1061.8zM1283.3 1655.8H1310.9V1683.5H1283.3zM1809.2 1655.8H1864.6V1683.5H1809.2zM840.3 1683.5H868.0V1711.2H840.3zM674.2 1711.2H701.9V1738.8H674.2zM1227.9 1711.2H1255.6V1738.8H1227.9zM1753.9 1711.2H1781.6V1738.8H1753.9zM1061.8 1738.8H1089.5V1766.5H1061.8zM1753.9 1738.8H1781.6V1766.5H1753.9zM1227.9 1794.2H1255.6V1821.9H1227.9zM1532.4 1794.2H1560.1V1821.9H1532.4zM344.2 1821.9H371.9V1849.5H344.2zM840.3 1821.9H868.0V1849.5H840.3zM1227.9 1821.9H1255.6V1849.5H1227.9zM1227.9 1849.5H1255.6V1877.2H1227.9zM1061.8 1877.2H1089.5V1904.9H1061.8zM1836.9 1877.2H1864.6V1904.9H1836.9zM1836.9 1932.6H1864.6V1960.2H1836.9zM674.2 1960.2H701.9V1987.9H674.2zM674.2 1987.9H701.9V2013.5H674.2zM674.2 2013.5H701.9V2041.2H674.2zM1449.4 2013.5H1477.0V2041.2H1449.4zM1061.8 2041.2H1089.5V2068.9H1061.8zM1283.3 2068.9H1310.9V2096.6H1283.3zM1061.8 2151.9H1089.5V2179.6H1061.8zM1615.5 2207.3H1643.1V2235.0H1615.5zM344.2 2235.0H371.9V2262.7H344.2zM1061.8 2235.0H1089.5V2262.7H1061.8zM1698.5 2235.0H1726.2V2262.7H1698.5zM729.6 2262.7H757.3V2290.4H729.6z"/>
<path fill="#808080" d="M1144.8 1462.1H1172.5V1489.8H1144.8zM1947.7 1462.1H1975.4V1489.8H1947.7zM344.2 1489.8H371.9V1517.4H344.2zM1144.8 1489.8H1172.5V1517.4H1144.8zM1200.2 1489.8H1227.9V1517.4H1200.2zM1560.1 1489.8H1587.8V1517.4H1560.1zM1643.1 1489.8H1670.8V1517.4H1643.1zM1864.6 1489.8H1892.3V1517.4H1864.6zM1947.7 1489.8H1975.4V1517.4H1947.7zM2003.0 1489.8H2030.7V1517.4H2003.0zM344.2 1517.4H371.9V1545.1H344.2zM1117.1 1517.4H1255.6V1545.1H1117.1zM1947.7 1517.4H2003.0V1545.1H1947.7zM454.9 1545.1H508.1V1572.8H454.9zM757.3 1545.1H784.9V1572.8H757.3zM978.7 1545.1H1006.4V1572.8H978.7zM1061.8 1545.1H1089.5V1572.8H1061.8zM1144.8 1545.1H1172.5V1572.8H1144.8zM1947.7 1545.1H1975.4V1572.8H1947.7zM729.6 1572.8H757.3V1600.5H729.6zM784.9 1572.8H840.3V1600.5H784.9zM1117.1 1572.8H1172.5V1600.5H1117.1zM1283.3 1572.8H1310.9V1600.5H1283.3zM1947.7 1572.8H1975.4V1600.5H1947.7zM729.6 1600.5H757.3V1628.1H729.6zM1144.8 1600.5H1172.5V1628.1H1144.8zM1726.2 1600.5H1753.9V1628.1H1726.2zM1947.7 1600.5H1975.4V1628.1H1947.7zM2003.0 1600.5H2030.7V1628.1H2003.0zM563.5 1628.1H618.8V1655.8H563.5zM1144.8 1628.1H1172.5V1655.8H1144.8zM1947.7 1628.1H1975.4V1655.8H1947.7zM427.2 1655.8H454.9V1683.5H427.2zM729.6 1655.8H757.3V1683.5H729.6zM923.4 1655.8H978.7V1683.5H923.4zM1144.8 1655.8H1172.5V1683.5H1144.8zM1698.5 1655.8H1726.2V1683.5H1698.5zM1947.7 1655.8H1975.4V1683.5H1947.7zM1144.8 1683.5H1172.5V1711.2H1144.8zM1947.7 1683.5H1975.4V1711.2H1947.7zM344.2 1711.2H371.9V1738.8H344.2zM508.1 1711.2H563.5V1738.8H508.1zM757.3 1711.2H784.9V1738.8H757.3zM951.0 1711.2H978.7V1738.8H951.0zM1089.5 1711.2H1172.5V1738.8H1089.5zM1947.7 1711.2H1975.4V1738.8H1947.7zM951.0 1738.8H978.7V1766.5H951.0zM1089.5 1738.8H1172.5V1766.5H1089.5zM1698.5 1738.8H1726.2V1766.5H1698.5zM1947.7 1738.8H1975.4V1766.5H1947.7zM454.9 1766.5H508.1V1794.2H454.9zM840.3 1766.5H868.0V1794.2H840.3zM1144.8 1766.5H1172.5V1794.2H1144.8zM1753.9 1766.5H1781.6V1794.2H1753.9zM1947.7 1766.5H1975.4V1794.2H1947.7zM1089.5 1794.2H1172.5V1821.9H1089.5zM1338.6 1794.2H1449.4V1821.9H1338.6zM1477.0 1794.2H1504.7V1821.9H1477.0zM1836.9 1794.2H1892.3V1821.9H1836.9zM1947.7 1794.2H1975.4V1821.9H1947.7zM978.7 1821.9H1034.1V1849.5H978.7zM1144.8 1821.9H1172.5V1849.5H1144.8zM1394.0 1821.9H1449.4V1849.5H1394.0zM1477.0 1821.9H1504.7V1849.5H1477.0zM1947.7 1821.9H1975.4V1849.5H1947.7zM757.3 1849.5H784.9V1877.2H757.3zM1144.8 1849.5H1172.5V1877.2H1144.8zM1200.2 1849.5H1227.9V1877.2H1200.2zM1394.0 1849.5H1449.4V1877.2H1394.0zM1504.7 1849.5H1532.4V1877.2H1504.7zM1836.9 1849.5H1864.6V1877.2H1836.9zM1947.7 1849.5H1975.4V1877.2H1947.7zM1144.8 1877.2H1172.5V1904.9H1144.8zM1449.4 1877.2H1477.0V1904.9H1449.4zM1532.4 1877.2H1560.1V1904.9H1532.4zM1864.6 1877.2H1892.3V1904.9H1864.6zM1947.7 1877.2H1975.4V1904.9H1947.7zM784.9 1904.9H840.3V1932.6H784.9zM1144.8 1904.9H1172.5V1932.6H1144.8zM1200.2 1904.9H1227.9V1932.6H1200.2zM1394.0 1904.9H1504.7V1932.6H1394.0zM1947.7 1904.9H1975.4V1932.6H1947.7zM784.9 1932.6H868.0V1960.2H784.9zM978.7 1932.6H1006.4V1960.2H978.7zM1061.8 1932.6H1089.5V1960.2H1061.8zM1144.8 1932.6H1172.5V1960.2H1144.8zM1394.0 1932.6H1504.7V1960.2H1394.0zM1947.7 1932.6H1975.4V1960.2H1947.7zM618.8 1960.2H646.5V1987.9H618.8zM1034.1 1960.2H1061.8V1987.9H1034.1zM1144.8 1960.2H1172.5V1987.9H1144.8zM1449.4 1960.2H1504.7V1987.9H1449.4zM1753.9 1960.2H1809.2V1987.9H1753.9zM1864.6 1960.2H1892.3V1987.9H1864.6zM1947.7 1960.2H1975.4V1987.9H1947.7zM344.2 1987.9H371.9V2013.5H344.2zM399.6 1987.9H508.1V2013.5H399.6zM618.8 1987.9H674.2V2013.5H618.8zM1144.8 1987.9H1255.6V2013.5H1144.8zM1394.0 1987.9H1504.7V2013.5H1394.0zM1615.5 1987.9H1670.8V2013.5H1615.5zM1947.7 1987.9H1975.4V2013.5H1947.7zM454.9 2013.5H508.1V2041.2H454.9zM729.6 2013.5H757.3V2041.2H729.6zM784.9 2013.5H840.3V2041.2H784.9zM1089.5 2013.5H1172.5V2041.2H1089.5zM1947.7 2013.5H2003.0V2041.2H1947.7zM729.6 2041.2H757.3V2068.9H729.6zM923.4 2041.2H978.7V2068.9H923.4zM1144.8 2041.2H1172.5V2068.9H1144.8zM1532.4 2041.2H1560.1V2068.9H1532.4zM1726.2 2041.2H1753.9V2068.9H1726.2zM1809.2 2041.2H1836.9V2068.9H1809.2zM1947.7 2041.2H1975.4V2068.9H1947.7zM563.5 2068.9H618.8V2096.6H563.5zM923.4 2068.9H978.7V2096.6H923.4zM1144.8 2068.9H1172.5V2096.6H1144.8zM1643.1 2068.9H1670.8V2096.6H1643.1zM1947.7 2068.9H1975.4V2096.6H1947.7zM1089.5 2096.6H1117.1V2124.2H1089.5zM1144.8 2096.6H1172.5V2124.2H1144.8zM1366.3 2096.6H1449.4V2124.2H1366.3zM1615.5 2096.6H1643.1V2124.2H1615.5zM1947.7 2096.6H1975.4V2124.2H1947.7zM399.6 2124.2H427.2V2151.9H399.6zM646.5 2124.2H674.2V2151.9H646.5zM923.4 2124.2H951.0V2151.9H923.4zM1144.8 2124.2H1172.5V2151.9H1144.8zM1310.9 2124.2H1338.6V2151.9H1310.9zM1560.1 2124.2H1615.5V2151.9H1560.1zM1864.6 2124.2H1892.3V2151.9H1864.6zM1920.0 2124.2H1975.4V2151.9H1920.0zM399.6 2151.9H427.2V2179.6H399.6zM618.8 2151.9H646.5V2179.6H618.8zM951.0 2151.9H978.7V2179.6H951.0zM1144.8 2151.9H1172.5V2179.6H1144.8zM1227.9 2151.9H1255.6V2179.6H1227.9zM1310.9 2151.9H1338.6V2179.6H1310.9zM1560.1 2151.9H1615.5V2179.6H1560.1zM1864.6 2151.9H1892.3V2179.6H1864.6zM1947.7 2151.9H1975.4V2179.6H1947.7zM508.1 2179.6H535.8V2207.3H508.1zM868.0 2179.6H895.7V2207.3H868.0zM923.4 2179.6H951.0V2207.3H923.4zM1144.8 2179.6H1172.5V2207.3H1144.8zM1394.0 2179.6H1449.4V2207.3H1394.0zM1560.1 2179.6H1615.5V2207.3H1560.1zM1643.1 2179.6H1670.8V2207.3H1643.1zM1892.3 2179.6H1920.0V2207.3H1892.3zM1947.7 2179.6H1975.4V2207.3H1947.7zM399.6 2207.3H427.2V2235.0H399.6zM1144.8 2207.3H1172.5V2235.0H1144.8zM1338.6 2207.3H1394.0V2235.0H1338.6zM1947.7 2207.3H1975.4V2235.0H1947.7zM1144.8 2235.0H1172.5V2262.7H1144.8zM1227.9 2235.0H1255.6V2262.7H1227.9zM1394.0 2235.0H1449.4V2262.7H1394.0zM1947.7 2235.0H1975.4V2262.7H1947.7zM508.1 2262.7H563.5V2290.4H508.1zM646.5 2262.7H701.9V2290.4H646.5zM1144.8 2262.7H1172.5V2290.4H1144.8zM1947.7 2262.7H2003.0V2290.4H1947.7z"/>
<path fill="#ffa800" d="M1061.8 1489.8H1089.5V1517.4H1061.8zM1061.8 1517.4H1089.5V1545.1H1061.8zM344.2 1572.8H371.9V1600.5H344.2zM1809.2 1572.8H1864.6V1600.5H1809.2zM1532.4 1600.5H1560.1V1628.1H1532.4zM674.2 1655.8H701.9V1683.5H674.2zM1532.4 1655.8H1560.1V1683.5H1532.4zM1615.5 1655.8H1643.1V1683.5H1615.5zM1061.8 1711.2H1089.5V1738.8H1061.8zM1532.4 1711.2H1560.1V1738.8H1532.4zM1615.5 1711.2H1643.1V1738.8H1615.5zM729.6 1766.5H757.3V1794.2H729.6zM1698.5 1766.5H1726.2V1794.2H1698.5zM344.2 1794.2H371.9V1821.9H344.2zM344.2 1849.5H371.9V1877.2H344.2zM1698.5 1877.2H1726.2V1904.9H1698.5zM674.2 1904.9H701.9V1932.6H674.2zM1061.8 1904.9H1089.5V1932.6H1061.8zM344.2 1932.6H371.9V1960.2H344.2zM1255.6 1987.9H1283.3V2013.5H1255.6zM1809.2 2013.5H1836.9V2041.2H1809.2zM729.6 2096.6H757.3V2124.2H729.6zM1449.4 2096.6H1477.0V2124.2H1449.4zM1061.8 2124.2H1089.5V2151.9H1061.8zM1532.4 2124.2H1560.1V2151.9H1532.4zM1532.4 2151.9H1560.1V2179.6H1532.4zM1753.9 2262.7H1781.6V2290.4H1753.9z"/>
<path fill="#ff5500" d="M1532.4 1572.8H1560.1V1600.5H1532.4zM1698.5 1572.8H1726.2V1600.5H1698.5zM1061.8 1628.1H1089.5V1655.8H1061.8zM1698.5 1628.1H1726.2V1655.8H1698.5zM1532.4 1683.5H1560.1V1711.2H1532.4z"/></g>
<path d="M2030 1475.9H2040M2030 1503.6H2040M2030 1531.3H2040M2030 1559.0H2040M2030 1586.6H2040M2030 1614.3H2040M2030 1642.0H2040M2030 1669.7H2040M2030 1697.3H2040M2030 1725.0H2040M2030 1752.7H2040M2030 1780.4H2040M2030 1808.0H2040M2030 1835.7H2040M2030 1863.4H2040M2030 1891.0H2040M2030 1918.7H2040M2030 1946.4H2040M2030 1974.1H2040M2030 2000.7H2040M2030 2027.3H2040M2030 2055.0H2040M2030 2082.7H2040M2030 2110.4H2040M2030 2138.1H2040M2030 2165.8H2040M2030 2193.5H2040M2030 2221.1H2040M2030 2248.8H2040M2030 2276.5H2040" stroke="#555" stroke-width="1.5" fill="none"/>
<text x="2046.6" y="1485.6" class="rl">Ty-BatCoV HKU4</text>
<text x="2046.6" y="1513.3" class="rl">PRCV</text>
<text x="2046.6" y="1541.0" class="rl">TGEV</text>
<text transform="translate(2047.7,1566.8) scale(1.023,1)" class="rl red">MERS-CoV</text>
<text transform="translate(2047.6,1594.7) scale(1.052,1)" class="rl red">HCoV-HKU1</text>
<text x="2046.6" y="1624.0" class="rl">FIPV</text>
<text transform="translate(2047.7,1649.8) scale(1.047,1)" class="rl red">HCoV-NL63</text>
<text x="2046.6" y="1679.4" class="rl">Ro-BatCoV HKU9</text>
<text x="2046.6" y="1707.0" class="rl">SW1</text>
<text x="2046.6" y="1734.7" class="rl">IBV</text>
<text x="2046.6" y="1762.4" class="rl">TCoV</text>
<text x="2046.6" y="1790.1" class="rl">Pi-BatCoV HKU5</text>
<text transform="translate(2048.6,1814.0) scale(1.034,1)" class="rl red">SARS-CoV-2</text>
<text transform="translate(2048.6,1847.4) scale(0.998,1)" class="rl red">SARSr-CoV</text>
<text x="2046.6" y="1873.1" class="rl">SARSr-Rh-BatCoV HKU3</text>
<text transform="translate(2049.4,1897.3) scale(1.046,1)" class="rl red">HCoV-OC43</text>
<text x="2046.6" y="1928.4" class="rl">ECoV</text>
<text x="2046.6" y="1956.1" class="rl">PHEV</text>
<text x="2046.6" y="1983.8" class="rl">Rh-BatCovHKU2</text>
<text x="2046.6" y="2010.4" class="rl">MHV</text>
<text x="2046.6" y="2037.0" class="rl">BCoV</text>
<text transform="translate(2047.7,2063.1) scale(1.043,1)" class="rl red">HCoV-229E</text>
<text x="2046.6" y="2092.4" class="rl">BuCoV HKU11</text>
<text x="2046.6" y="2120.1" class="rl">Mi-BatCoV HKU8</text>
<text x="2046.6" y="2147.8" class="rl">Mi-BatCoV 1A</text>
<text x="2046.6" y="2175.5" class="rl">Mi-BatCoV 1B</text>
<text x="2046.6" y="2203.2" class="rl">MunCoV HKU13</text>
<text x="2046.6" y="2230.8" class="rl">ThCoV HKU12</text>
<text x="2046.6" y="2258.5" class="rl">PEDV</text>
<text x="2046.6" y="2286.2" class="rl">Sc-BatCoV 512</text>
<path d="M274.9 2291.4V2300.4M302.6 2291.4V2300.4M330.3 2291.4V2300.4M358.0 2291.4V2300.4M385.7 2291.4V2300.4M413.4 2291.4V2300.4M441.1 2291.4V2300.4M468.8 2291.4V2300.4M495.4 2291.4V2300.4M521.9 2291.4V2300.4M549.6 2291.4V2300.4M577.3 2291.4V2300.4M605.0 2291.4V2300.4M632.7 2291.4V2300.4M660.4 2291.4V2300.4M688.0 2291.4V2300.4M715.7 2291.4V2300.4M743.4 2291.4V2300.4M771.1 2291.4V2300.4M798.8 2291.4V2300.4M826.5 2291.4V2300.4M854.1 2291.4V2300.4M881.8 2291.4V2300.4M909.5 2291.4V2300.4M937.2 2291.4V2300.4M964.9 2291.4V2300.4M992.6 2291.4V2300.4M1020.3 2291.4V2300.4M1047.9 2291.4V2300.4M1075.6 2291.4V2300.4M1103.3 2291.4V2300.4M1131.0 2291.4V2300.4M1158.7 2291.4V2300.4M1186.4 2291.4V2300.4M1214.0 2291.4V2300.4M1241.7 2291.4V2300.4M1269.4 2291.4V2300.4M1297.1 2291.4V2300.4M1324.8 2291.4V2300.4M1352.5 2291.4V2300.4M1380.1 2291.4V2300.4M1407.8 2291.4V2300.4M1435.5 2291.4V2300.4M1463.2 2291.4V2300.4M1490.9 2291.4V2300.4M1518.6 2291.4V2300.4M1546.2 2291.4V2300.4M1573.9 2291.4V2300.4M1601.6 2291.4V2300.4M1629.3 2291.4V2300.4M1657.0 2291.4V2300.4M1684.7 2291.4V2300.4M1712.4 2291.4V2300.4M1740.0 2291.4V2300.4M1767.7 2291.4V2300.4M1795.4 2291.4V2300.4M1823.1 2291.4V2300.4M1850.8 2291.4V2300.4M1878.5 2291.4V2300.4M1906.1 2291.4V2300.4M1933.8 2291.4V2300.4M1961.5 2291.4V2300.4M1989.2 2291.4V2300.4M2016.9 2291.4V2300.4" stroke="#888" stroke-width="2" fill="none"/>
<text transform="translate(285.9,2308.9) rotate(-90)" class="cl">UGA</text>
<text transform="translate(313.6,2308.9) rotate(-90)" class="cl">UAG</text>
<text transform="translate(341.3,2308.9) rotate(-90)" class="cl">UAA</text>
<text transform="translate(369.0,2308.9) rotate(-90)" class="cl">GCU</text>
<text transform="translate(396.7,2308.9) rotate(-90)" class="cl">GCG</text>
<text transform="translate(424.4,2308.9) rotate(-90)" class="cl">GCC</text>
<text transform="translate(452.1,2308.9) rotate(-90)" class="cl">GCA</text>
<text transform="translate(479.8,2308.9) rotate(-90)" class="cl">UGU</text>
<text transform="translate(506.4,2308.9) rotate(-90)" class="cl">UGC</text>
<text transform="translate(532.9,2308.9) rotate(-90)" class="cl">GAU</text>
<text transform="translate(560.6,2308.9) rotate(-90)" class="cl">GAC</text>
<text transform="translate(588.3,2308.9) rotate(-90)" class="cl">GAG</text>
<text transform="translate(616.0,2308.9) rotate(-90)" class="cl">GAA</text>
<text transform="translate(643.7,2308.9) rotate(-90)" class="cl">UUU</text>
<text transform="translate(671.4,2308.9) rotate(-90)" class="cl">UUC</text>
<text transform="translate(699.0,2308.9) rotate(-90)" class="cl">GGU</text>
<text transform="translate(726.7,2308.9) rotate(-90)" class="cl">GGG</text>
<text transform="translate(754.4,2308.9) rotate(-90)" class="cl">GGC</text>
<text transform="translate(782.1,2308.9) rotate(-90)" class="cl">GGA</text>
<text transform="translate(809.8,2308.9) rotate(-90)" class="cl">CAC</text>
<text transform="translate(837.5,2308.9) rotate(-90)" class="cl">CAU</text>
<text transform="translate(865.1,2308.9) rotate(-90)" class="cl">AUU</text>
<text transform="translate(892.8,2308.9) rotate(-90)" class="cl">AUC</text>
<text transform="translate(920.5,2308.9) rotate(-90)" class="cl">AUA</text>
<text transform="translate(948.2,2308.9) rotate(-90)" class="cl">AAG</text>
<text transform="translate(975.9,2308.9) rotate(-90)" class="cl">AAA</text>
<text transform="translate(1003.6,2308.9) rotate(-90)" class="cl">CUA</text>
<text transform="translate(1031.3,2308.9) rotate(-90)" class="cl">CUC</text>
<text transform="translate(1058.9,2308.9) rotate(-90)" class="cl">CUG</text>
<text transform="translate(1086.6,2308.9) rotate(-90)" class="cl">CUU</text>
<text transform="translate(1114.3,2308.9) rotate(-90)" class="cl">UUA</text>
<text transform="translate(1142.0,2308.9) rotate(-90)" class="cl">UUG</text>
<text transform="translate(1169.7,2308.9) rotate(-90)" class="cl">AUG</text>
<text transform="translate(1197.4,2308.9) rotate(-90)" class="cl">AAC</text>
<text transform="translate(1225.0,2308.9) rotate(-90)" class="cl">AAU</text>
<text transform="translate(1252.7,2308.9) rotate(-90)" class="cl">CCA</text>
<text transform="translate(1280.4,2308.9) rotate(-90)" class="cl">CCC</text>
<text transform="translate(1308.1,2308.9) rotate(-90)" class="cl">CCU</text>
<text transform="translate(1335.8,2308.9) rotate(-90)" class="cl">CCG</text>
<text transform="translate(1363.5,2308.9) rotate(-90)" class="cl">CAA</text>
<text transform="translate(1391.1,2308.9) rotate(-90)" class="cl">CAG</text>
<text transform="translate(1418.8,2308.9) rotate(-90)" class="cl">AGA</text>
<text transform="translate(1446.5,2308.9) rotate(-90)" class="cl">AGG</text>
<text transform="translate(1474.2,2308.9) rotate(-90)" class="cl">CGA</text>
<text transform="translate(1501.9,2308.9) rotate(-90)" class="cl">CGC</text>
<text transform="translate(1529.6,2308.9) rotate(-90)" class="cl">CGG</text>
<text transform="translate(1557.2,2308.9) rotate(-90)" class="cl">CGU</text>
<text transform="translate(1584.9,2308.9) rotate(-90)" class="cl">AGC</text>
<text transform="translate(1612.6,2308.9) rotate(-90)" class="cl">AGU</text>
<text transform="translate(1640.3,2308.9) rotate(-90)" class="cl">UCA</text>
<text transform="translate(1668.0,2308.9) rotate(-90)" class="cl">UCC</text>
<text transform="translate(1695.7,2308.9) rotate(-90)" class="cl">UCG</text>
<text transform="translate(1723.4,2308.9) rotate(-90)" class="cl">UCU</text>
<text transform="translate(1751.0,2308.9) rotate(-90)" class="cl">ACC</text>
<text transform="translate(1778.7,2308.9) rotate(-90)" class="cl">ACA</text>
<text transform="translate(1806.4,2308.9) rotate(-90)" class="cl">ACG</text>
<text transform="translate(1834.1,2308.9) rotate(-90)" class="cl">ACU</text>
<text transform="translate(1861.8,2308.9) rotate(-90)" class="cl">GUU</text>
<text transform="translate(1889.5,2308.9) rotate(-90)" class="cl">GUG</text>
<text transform="translate(1917.1,2308.9) rotate(-90)" class="cl">GUC</text>
<text transform="translate(1944.8,2308.9) rotate(-90)" class="cl">GUA</text>
<text transform="translate(1972.5,2308.9) rotate(-90)" class="cl">UGG</text>
<text transform="translate(2000.2,2308.9) rotate(-90)" class="cl">UAC</text>
<text transform="translate(2027.9,2308.9) rotate(-90)" class="cl">UAU</text>
<path d="M206.6 1503.6L206.6 1531.3M206.6 1503.6L239.7 1503.6M206.6 1531.3L239.7 1531.3M64.2 1475.9L64.2 1517.4M64.2 1475.9L239.7 1475.9M64.2 1517.4L206.6 1517.4M117.2 1614.3L117.2 1642.0M117.2 1614.3L239.7 1614.3M117.2 1642.0L239.7 1642.0M93.9 1586.6L93.9 1628.1M93.9 1586.6L239.7 1586.6M93.9 1628.1L117.2 1628.1M178.7 1725.0L178.7 1752.7M178.7 1725.0L239.7 1725.0M178.7 1752.7L239.7 1752.7M107.0 1697.3L107.0 1738.8M107.0 1697.3L239.7 1697.3M107.0 1738.8L178.7 1738.8M84.8 1669.7L84.8 1718.1M84.8 1669.7L239.7 1669.7M84.8 1718.1L107.0 1718.1M176.5 1835.7L176.5 1863.4M176.5 1835.7L239.7 1835.7M176.5 1863.4L239.7 1863.4M136.2 1808.0L136.2 1849.5M136.2 1808.0L239.7 1808.0M136.2 1849.5L176.5 1849.5M156.4 1918.7L156.4 1946.4M156.4 1918.7L239.7 1918.7M156.4 1946.4L239.7 1946.4M136.2 1891.0L136.2 1932.6M136.2 1891.0L239.7 1891.0M136.2 1932.6L156.4 1932.6M123.4 2027.3L123.4 2055.0M123.4 2027.3L239.7 2027.3M123.4 2055.0L239.7 2055.0M110.3 2000.7L110.3 2041.2M110.3 2000.7L239.7 2000.7M110.3 2041.2L123.4 2041.2M106.7 1974.1L106.7 2020.9M106.7 1974.1L239.7 1974.1M106.7 2020.9L110.3 2020.9M99.4 1911.8L99.4 1997.5M99.4 1911.8L136.2 1911.8M99.4 1997.5L106.7 1997.5M96.6 1828.8L96.6 1954.7M96.6 1828.8L136.2 1828.8M96.6 1954.7L99.4 1954.7M186.3 2138.1L186.3 2165.8M186.3 2138.1L239.7 2138.1M186.3 2165.8L239.7 2165.8M127.1 2110.4L127.1 2151.9M127.1 2110.4L239.7 2110.4M127.1 2151.9L186.3 2151.9M134.5 2248.8L134.5 2276.5M134.5 2248.8L239.7 2248.8M134.5 2276.5L239.7 2276.5M116.1 2221.1L116.1 2262.7M116.1 2221.1L239.7 2221.1M116.1 2262.7L134.5 2262.7M110.3 2193.5L110.3 2241.9M110.3 2193.5L239.7 2193.5M110.3 2241.9L116.1 2241.9M103.0 2131.2L103.0 2217.7M103.0 2131.2L127.1 2131.2M103.0 2217.7L110.3 2217.7M94.8 2082.7L94.8 2174.4M94.8 2082.7L239.7 2082.7M94.8 2174.4L103.0 2174.4M93.9 1891.7L93.9 2128.6M93.9 1891.7L96.6 1891.7M93.9 2128.6L94.8 2128.6M80.8 1780.4L80.8 2010.1M80.8 1780.4L239.7 1780.4M80.8 2010.1L93.9 2010.1M72.9 1693.9L72.9 1895.2M72.9 1693.9L84.8 1693.9M72.9 1895.2L80.8 1895.2M66.0 1607.4L66.0 1794.6M66.0 1607.4L93.9 1607.4M66.0 1794.6L72.9 1794.6M54.7 1559.0L54.7 1701.0M54.7 1559.0L239.7 1559.0M54.7 1701.0L66.0 1701.0M47.0 1496.7L47.0 1630.0M47.0 1496.7L64.2 1496.7M47.0 1630.0L54.7 1630.0" stroke="#333" stroke-width="1.6" fill="none"/>
<path d="M43.8 2291.9H239.7M239.7 2291.9V2301.9M211.7 2291.9V2301.9M183.7 2291.9V2301.9M155.7 2291.9V2301.9M127.8 2291.9V2301.9M99.8 2291.9V2301.9M71.8 2291.9V2301.9M43.8 2291.9V2301.9" stroke="#333" stroke-width="1.6" fill="none"/>
<text x="239.7" y="2322.5" class="al">0</text><text x="211.7" y="2322.5" class="al">1</text><text x="183.7" y="2322.5" class="al">2</text><text x="155.7" y="2322.5" class="al">3</text><text x="127.8" y="2322.5" class="al">4</text><text x="99.8" y="2322.5" class="al">5</text><text x="71.8" y="2322.5" class="al">6</text><text x="43.8" y="2322.5" class="al">7</text>
<text x="144.5" y="2357.9" class="en">Euclidean distance</text>
<g shape-rendering="crispEdges"><path fill="#ff3a00" d="M261.1 2900.3H288.8V2928.0H261.1zM261.1 2928.0H288.8V2955.6H261.1zM1698.5 2928.0H1726.2V2955.6H1698.5zM261.1 2955.6H288.8V2983.3H261.1zM261.1 2983.3H288.8V3011.0H261.1zM261.1 3011.0H288.8V3038.7H261.1zM261.1 3038.7H288.8V3066.3H261.1zM840.3 3038.7H868.0V3066.3H840.3zM288.8 3066.3H316.5V3094.0H288.8zM1836.9 3066.3H1864.6V3094.0H1836.9zM288.8 3094.0H316.5V3121.7H288.8zM288.8 3121.7H316.5V3149.4H288.8zM288.8 3149.4H316.5V3177.0H288.8zM288.8 3177.0H316.5V3204.7H288.8zM288.8 3204.7H316.5V3232.4H288.8zM288.8 3232.4H316.5V3260.1H288.8zM288.8 3260.1H316.5V3287.7H288.8zM316.5 3287.7H344.2V3315.4H316.5zM1836.9 3287.7H1864.6V3315.4H1836.9zM316.5 3315.4H344.2V3343.1H316.5zM316.5 3343.1H344.2V3370.8H316.5zM316.5 3370.8H344.2V3398.4H316.5zM316.5 3398.4H344.2V3426.1H316.5zM316.5 3426.1H344.2V3451.7H316.5zM316.5 3451.7H344.2V3479.4H316.5zM316.5 3479.4H344.2V3507.1H316.5zM316.5 3507.1H344.2V3534.8H316.5zM316.5 3534.8H344.2V3562.4H316.5zM316.5 3562.4H344.2V3590.1H316.5zM316.5 3590.1H371.9V3617.8H316.5zM1061.8 3590.1H1089.5V3617.8H1061.8zM316.5 3617.8H344.2V3645.5H316.5zM1061.8 3617.8H1089.5V3645.5H1061.8zM316.5 3645.5H344.2V3673.2H316.5zM316.5 3673.2H344.2V3700.9H316.5zM316.5 3700.9H344.2V3728.6H316.5z"/>
<path fill="#0000ff" d="M288.8 2900.3H344.2V2928.0H288.8zM454.9 2900.3H482.6V2928.0H454.9zM868.0 2900.3H895.7V2928.0H868.0zM1670.8 2900.3H1698.5V2928.0H1670.8zM1781.6 2900.3H1809.2V2928.0H1781.6zM1864.6 2900.3H1892.3V2928.0H1864.6zM288.8 2928.0H344.2V2955.6H288.8zM371.9 2928.0H399.6V2955.6H371.9zM482.6 2928.0H508.1V2955.6H482.6zM701.9 2928.0H729.6V2955.6H701.9zM1089.5 2928.0H1117.1V2955.6H1089.5zM1255.6 2928.0H1283.3V2955.6H1255.6zM1310.9 2928.0H1338.6V2955.6H1310.9zM1421.7 2928.0H1449.4V2955.6H1421.7zM1781.6 2928.0H1809.2V2955.6H1781.6zM288.8 2955.6H344.2V2983.3H288.8zM701.9 2955.6H729.6V2983.3H701.9zM1255.6 2955.6H1283.3V2983.3H1255.6zM1310.9 2955.6H1338.6V2983.3H1310.9zM1643.1 2955.6H1670.8V2983.3H1643.1zM1781.6 2955.6H1809.2V2983.3H1781.6zM288.8 2983.3H344.2V3011.0H288.8zM371.9 2983.3H399.6V3011.0H371.9zM482.6 2983.3H508.1V3011.0H482.6zM868.0 2983.3H895.7V3011.0H868.0zM1504.7 2983.3H1532.4V3011.0H1504.7zM1781.6 2983.3H1809.2V3011.0H1781.6zM288.8 3011.0H344.2V3038.7H288.8zM288.8 3038.7H344.2V3066.3H288.8zM482.6 3038.7H508.1V3066.3H482.6zM701.9 3038.7H729.6V3066.3H701.9zM868.0 3038.7H923.4V3066.3H868.0zM1504.7 3038.7H1532.4V3066.3H1504.7zM261.1 3066.3H288.8V3094.0H261.1zM316.5 3066.3H344.2V3094.0H316.5zM454.9 3066.3H482.6V3094.0H454.9zM1781.6 3066.3H1809.2V3094.0H1781.6zM261.1 3094.0H288.8V3121.7H261.1zM316.5 3094.0H344.2V3121.7H316.5zM1089.5 3094.0H1117.1V3121.7H1089.5zM1643.1 3094.0H1670.8V3121.7H1643.1zM261.1 3121.7H288.8V3149.4H261.1zM316.5 3121.7H344.2V3149.4H316.5zM454.9 3121.7H508.1V3149.4H454.9zM978.7 3121.7H1006.4V3149.4H978.7zM1449.4 3121.7H1477.0V3149.4H1449.4zM1504.7 3121.7H1532.4V3149.4H1504.7zM261.1 3149.4H288.8V3177.0H261.1zM316.5 3149.4H344.2V3177.0H316.5zM454.9 3149.4H508.1V3177.0H454.9zM978.7 3149.4H1006.4V3177.0H978.7zM1670.8 3149.4H1698.5V3177.0H1670.8zM261.1 3177.0H288.8V3204.7H261.1zM316.5 3177.0H344.2V3204.7H316.5zM454.9 3177.0H508.1V3204.7H454.9zM1310.9 3177.0H1338.6V3204.7H1310.9zM261.1 3204.7H288.8V3232.4H261.1zM316.5 3204.7H344.2V3232.4H316.5zM454.9 3204.7H508.1V3232.4H454.9zM701.9 3204.7H729.6V3232.4H701.9zM868.0 3204.7H895.7V3232.4H868.0zM1089.5 3204.7H1117.1V3232.4H1089.5zM1504.7 3204.7H1532.4V3232.4H1504.7zM1781.6 3204.7H1809.2V3232.4H1781.6zM261.1 3232.4H288.8V3260.1H261.1zM316.5 3232.4H344.2V3260.1H316.5zM454.9 3232.4H508.1V3260.1H454.9zM868.0 3232.4H895.7V3260.1H868.0zM1504.7 3232.4H1532.4V3260.1H1504.7zM1781.6 3232.4H1809.2V3260.1H1781.6zM261.1 3260.1H288.8V3287.7H261.1zM316.5 3260.1H344.2V3287.7H316.5zM371.9 3260.1H399.6V3287.7H371.9zM454.9 3260.1H508.1V3287.7H454.9zM1421.7 3260.1H1449.4V3287.7H1421.7zM1504.7 3260.1H1532.4V3287.7H1504.7zM1560.1 3260.1H1587.8V3287.7H1560.1zM1920.0 3260.1H1947.7V3287.7H1920.0zM261.1 3287.7H316.5V3315.4H261.1zM454.9 3287.7H482.6V3315.4H454.9zM729.6 3287.7H757.3V3315.4H729.6zM1034.1 3287.7H1061.8V3315.4H1034.1zM1310.9 3287.7H1338.6V3315.4H1310.9zM1504.7 3287.7H1532.4V3315.4H1504.7zM1781.6 3287.7H1809.2V3315.4H1781.6zM261.1 3315.4H316.5V3343.1H261.1zM371.9 3315.4H399.6V3343.1H371.9zM454.9 3315.4H508.1V3343.1H454.9zM261.1 3343.1H316.5V3370.8H261.1zM454.9 3343.1H508.1V3370.8H454.9zM261.1 3370.8H316.5V3398.4H261.1zM454.9 3370.8H508.1V3398.4H454.9zM1504.7 3370.8H1532.4V3398.4H1504.7zM1781.6 3370.8H1809.2V3398.4H1781.6zM261.1 3398.4H316.5V3426.1H261.1zM454.9 3398.4H508.1V3426.1H454.9zM1781.6 3398.4H1809.2V3426.1H1781.6zM261.1 3426.1H316.5V3451.7H261.1zM454.9 3426.1H508.1V3451.7H454.9zM784.9 3426.1H812.6V3451.7H784.9zM1781.6 3426.1H1809.2V3451.7H1781.6zM1975.4 3426.1H2003.0V3451.7H1975.4zM261.1 3451.7H316.5V3479.4H261.1zM454.9 3451.7H482.6V3479.4H454.9zM868.0 3451.7H895.7V3479.4H868.0zM1310.9 3451.7H1338.6V3479.4H1310.9zM261.1 3479.4H316.5V3507.1H261.1zM261.1 3507.1H316.5V3534.8H261.1zM868.0 3507.1H895.7V3534.8H868.0zM1310.9 3507.1H1338.6V3534.8H1310.9zM261.1 3534.8H316.5V3562.4H261.1zM978.7 3534.8H1006.4V3562.4H978.7zM261.1 3562.4H316.5V3590.1H261.1zM978.7 3562.4H1006.4V3590.1H978.7zM261.1 3590.1H316.5V3617.8H261.1zM371.9 3590.1H399.6V3617.8H371.9zM482.6 3590.1H508.1V3617.8H482.6zM978.7 3590.1H1006.4V3617.8H978.7zM1034.1 3590.1H1061.8V3617.8H1034.1zM261.1 3617.8H316.5V3645.5H261.1zM482.6 3617.8H508.1V3645.5H482.6zM701.9 3617.8H729.6V3645.5H701.9zM1449.4 3617.8H1477.0V3645.5H1449.4zM1726.2 3617.8H1753.9V3645.5H1726.2zM261.1 3645.5H316.5V3673.2H261.1zM371.9 3645.5H399.6V3673.2H371.9zM701.9 3645.5H729.6V3673.2H701.9zM1670.8 3645.5H1698.5V3673.2H1670.8zM261.1 3673.2H316.5V3700.9H261.1zM371.9 3673.2H399.6V3700.9H371.9zM482.6 3673.2H508.1V3700.9H482.6zM701.9 3673.2H729.6V3700.9H701.9zM895.7 3673.2H923.4V3700.9H895.7zM978.7 3673.2H1006.4V3700.9H978.7zM1034.1 3673.2H1061.8V3700.9H1034.1zM1449.4 3673.2H1477.0V3700.9H1449.4zM1670.8 3673.2H1698.5V3700.9H1670.8zM261.1 3700.9H316.5V3728.6H261.1zM371.9 3700.9H399.6V3728.6H371.9zM482.6 3700.9H508.1V3728.6H482.6zM895.7 3700.9H923.4V3728.6H895.7zM978.7 3700.9H1006.4V3728.6H978.7zM1449.4 3700.9H1477.0V3728.6H1449.4zM1670.8 3700.9H1698.5V3728.6H1670.8z"/>
<path fill="#ff8000" d="M344.2 2900.3H371.9V2928.0H344.2zM1283.3 2900.3H1310.9V2928.0H1283.3zM344.2 2928.0H371.9V2955.6H344.2zM674.2 2928.0H701.9V2955.6H674.2zM1061.8 2928.0H1089.5V2955.6H1061.8zM1809.2 2928.0H1836.9V2955.6H1809.2zM1809.2 2955.6H1864.6V2983.3H1809.2zM895.7 2983.3H923.4V3011.0H895.7zM1836.9 2983.3H1864.6V3011.0H1836.9zM344.2 3066.3H371.9V3094.0H344.2zM1061.8 3066.3H1089.5V3094.0H1061.8zM674.2 3121.7H701.9V3149.4H674.2zM1809.2 3121.7H1836.9V3149.4H1809.2zM1283.3 3149.4H1310.9V3177.0H1283.3zM1698.5 3204.7H1726.2V3232.4H1698.5zM1836.9 3204.7H1864.6V3232.4H1836.9zM1698.5 3232.4H1726.2V3260.1H1698.5zM840.3 3287.7H868.0V3315.4H840.3zM1698.5 3287.7H1726.2V3315.4H1698.5zM1061.8 3315.4H1089.5V3343.1H1061.8zM1698.5 3479.4H1726.2V3507.1H1698.5zM1698.5 3507.1H1726.2V3534.8H1698.5zM840.3 3562.4H868.0V3590.1H840.3zM674.2 3617.8H701.9V3645.5H674.2zM1532.4 3617.8H1560.1V3645.5H1532.4zM1809.2 3617.8H1836.9V3645.5H1809.2zM1698.5 3645.5H1726.2V3673.2H1698.5zM1061.8 3700.9H1089.5V3728.6H1061.8zM1532.4 3700.9H1560.1V3728.6H1532.4z"/>
<path fill="#1c1ce0" d="M371.9 2900.3H399.6V2928.0H371.9zM729.6 2900.3H757.3V2928.0H729.6zM1310.9 2900.3H1338.6V2928.0H1310.9zM1421.7 2900.3H1449.4V2928.0H1421.7zM978.7 2928.0H1034.1V2955.6H978.7zM1449.4 2928.0H1477.0V2955.6H1449.4zM1504.7 2928.0H1532.4V2955.6H1504.7zM1670.8 2928.0H1698.5V2955.6H1670.8zM1864.6 2928.0H1892.3V2955.6H1864.6zM371.9 2955.6H427.2V2983.3H371.9zM1006.4 2955.6H1034.1V2983.3H1006.4zM1421.7 2955.6H1449.4V2983.3H1421.7zM1670.8 2955.6H1698.5V2983.3H1670.8zM1726.2 2955.6H1753.9V2983.3H1726.2zM701.9 2983.3H729.6V3011.0H701.9zM1310.9 2983.3H1338.6V3011.0H1310.9zM1449.4 2983.3H1477.0V3011.0H1449.4zM371.9 3011.0H399.6V3038.7H371.9zM1006.4 3011.0H1034.1V3038.7H1006.4zM1310.9 3011.0H1338.6V3038.7H1310.9zM1449.4 3011.0H1477.0V3038.7H1449.4zM1504.7 3011.0H1532.4V3038.7H1504.7zM1643.1 3011.0H1670.8V3038.7H1643.1zM1781.6 3011.0H1809.2V3038.7H1781.6zM978.7 3038.7H1006.4V3066.3H978.7zM1310.9 3038.7H1338.6V3066.3H1310.9zM1449.4 3038.7H1477.0V3066.3H1449.4zM1781.6 3038.7H1809.2V3066.3H1781.6zM701.9 3066.3H729.6V3094.0H701.9zM757.3 3066.3H784.9V3094.0H757.3zM1172.5 3066.3H1200.2V3094.0H1172.5zM1310.9 3066.3H1338.6V3094.0H1310.9zM1504.7 3066.3H1532.4V3094.0H1504.7zM1892.3 3066.3H1920.0V3094.0H1892.3zM701.9 3094.0H757.3V3121.7H701.9zM1006.4 3094.0H1034.1V3121.7H1006.4zM1504.7 3094.0H1532.4V3121.7H1504.7zM1670.8 3121.7H1698.5V3149.4H1670.8zM1781.6 3121.7H1809.2V3149.4H1781.6zM1310.9 3149.4H1338.6V3177.0H1310.9zM1753.9 3149.4H1781.6V3177.0H1753.9zM2003.0 3149.4H2030.7V3177.0H2003.0zM371.9 3177.0H399.6V3204.7H371.9zM868.0 3177.0H895.7V3204.7H868.0zM1421.7 3177.0H1449.4V3204.7H1421.7zM1781.6 3177.0H1809.2V3204.7H1781.6zM2003.0 3177.0H2030.7V3204.7H2003.0zM371.9 3204.7H399.6V3232.4H371.9zM1310.9 3204.7H1338.6V3232.4H1310.9zM1421.7 3204.7H1449.4V3232.4H1421.7zM1670.8 3204.7H1698.5V3232.4H1670.8zM1920.0 3204.7H1947.7V3232.4H1920.0zM701.9 3232.4H729.6V3260.1H701.9zM1670.8 3232.4H1698.5V3260.1H1670.8zM701.9 3260.1H729.6V3287.7H701.9zM784.9 3260.1H812.6V3287.7H784.9zM868.0 3260.1H895.7V3287.7H868.0zM1670.8 3260.1H1698.5V3287.7H1670.8zM1781.6 3260.1H1809.2V3287.7H1781.6zM371.9 3287.7H399.6V3315.4H371.9zM427.2 3287.7H454.9V3315.4H427.2zM535.8 3287.7H563.5V3315.4H535.8zM757.3 3287.7H784.9V3315.4H757.3zM868.0 3287.7H923.4V3315.4H868.0zM1449.4 3287.7H1477.0V3315.4H1449.4zM1643.1 3287.7H1698.5V3315.4H1643.1zM1753.9 3287.7H1781.6V3315.4H1753.9zM1864.6 3287.7H1892.3V3315.4H1864.6zM868.0 3315.4H895.7V3343.1H868.0zM1006.4 3315.4H1034.1V3343.1H1006.4zM1310.9 3315.4H1338.6V3343.1H1310.9zM1504.7 3315.4H1532.4V3343.1H1504.7zM868.0 3343.1H895.7V3370.8H868.0zM1310.9 3343.1H1338.6V3370.8H1310.9zM1421.7 3343.1H1449.4V3370.8H1421.7zM1781.6 3343.1H1809.2V3370.8H1781.6zM701.9 3370.8H729.6V3398.4H701.9zM868.0 3370.8H895.7V3398.4H868.0zM1089.5 3370.8H1117.1V3398.4H1089.5zM1310.9 3370.8H1338.6V3398.4H1310.9zM1670.8 3370.8H1698.5V3398.4H1670.8zM701.9 3398.4H729.6V3426.1H701.9zM868.0 3398.4H895.7V3426.1H868.0zM1421.7 3398.4H1449.4V3426.1H1421.7zM1504.7 3398.4H1532.4V3426.1H1504.7zM1338.6 3426.1H1366.3V3451.7H1338.6zM978.7 3451.7H1006.4V3479.4H978.7zM1449.4 3451.7H1477.0V3479.4H1449.4zM1504.7 3451.7H1532.4V3479.4H1504.7zM371.9 3479.4H399.6V3507.1H371.9zM868.0 3479.4H895.7V3507.1H868.0zM978.7 3479.4H1006.4V3507.1H978.7zM1089.5 3479.4H1117.1V3507.1H1089.5zM1670.8 3479.4H1698.5V3507.1H1670.8zM371.9 3507.1H399.6V3534.8H371.9zM1670.8 3507.1H1698.5V3534.8H1670.8zM371.9 3534.8H399.6V3562.4H371.9zM1781.6 3534.8H1809.2V3562.4H1781.6zM868.0 3562.4H895.7V3590.1H868.0zM1781.6 3562.4H1809.2V3590.1H1781.6zM701.9 3590.1H729.6V3617.8H701.9zM868.0 3590.1H895.7V3617.8H868.0zM1172.5 3590.1H1200.2V3617.8H1172.5zM1310.9 3590.1H1338.6V3617.8H1310.9zM1670.8 3590.1H1698.5V3617.8H1670.8zM1781.6 3590.1H1809.2V3617.8H1781.6zM1864.6 3590.1H1892.3V3617.8H1864.6zM1310.9 3617.8H1338.6V3645.5H1310.9zM1560.1 3617.8H1587.8V3645.5H1560.1zM1781.6 3617.8H1809.2V3645.5H1781.6zM1920.0 3617.8H1947.7V3645.5H1920.0zM895.7 3645.5H923.4V3673.2H895.7zM1449.4 3645.5H1532.4V3673.2H1449.4zM1560.1 3645.5H1587.8V3673.2H1560.1zM1310.9 3673.2H1338.6V3700.9H1310.9zM701.9 3700.9H729.6V3728.6H701.9zM1310.9 3700.9H1338.6V3728.6H1310.9z"/>
<path fill="#6c6c90" d="M399.6 2900.3H454.9V2928.0H399.6zM701.9 2900.3H729.6V2928.0H701.9zM784.9 2900.3H812.6V2928.0H784.9zM978.7 2900.3H1006.4V2928.0H978.7zM1560.1 2900.3H1587.8V2928.0H1560.1zM1753.9 2900.3H1781.6V2928.0H1753.9zM1920.0 2900.3H1947.7V2928.0H1920.0zM784.9 2928.0H812.6V2955.6H784.9zM868.0 2928.0H895.7V2955.6H868.0zM1227.9 2928.0H1255.6V2955.6H1227.9zM1726.2 2928.0H1753.9V2955.6H1726.2zM1920.0 2928.0H1947.7V2955.6H1920.0zM535.8 2955.6H563.5V2983.3H535.8zM646.5 2955.6H674.2V2983.3H646.5zM895.7 2955.6H923.4V2983.3H895.7zM978.7 2955.6H1006.4V2983.3H978.7zM1034.1 2955.6H1061.8V2983.3H1034.1zM1227.9 2955.6H1255.6V2983.3H1227.9zM1560.1 2955.6H1587.8V2983.3H1560.1zM1920.0 2955.6H1947.7V2983.3H1920.0zM646.5 2983.3H674.2V3011.0H646.5zM1117.1 2983.3H1144.8V3011.0H1117.1zM1255.6 2983.3H1283.3V3011.0H1255.6zM1338.6 2983.3H1366.3V3011.0H1338.6zM1864.6 2983.3H1892.3V3011.0H1864.6zM563.5 3011.0H591.2V3038.7H563.5zM868.0 3011.0H895.7V3038.7H868.0zM1034.1 3011.0H1061.8V3038.7H1034.1zM1089.5 3011.0H1117.1V3038.7H1089.5zM1172.5 3011.0H1200.2V3038.7H1172.5zM399.6 3038.7H427.2V3066.3H399.6zM535.8 3038.7H591.2V3066.3H535.8zM812.6 3038.7H840.3V3066.3H812.6zM923.4 3038.7H951.0V3066.3H923.4zM1006.4 3038.7H1061.8V3066.3H1006.4zM1089.5 3038.7H1117.1V3066.3H1089.5zM1172.5 3038.7H1200.2V3066.3H1172.5zM1255.6 3038.7H1283.3V3066.3H1255.6zM1338.6 3038.7H1366.3V3066.3H1338.6zM1421.7 3038.7H1449.4V3066.3H1421.7zM1643.1 3038.7H1670.8V3066.3H1643.1zM1753.9 3038.7H1781.6V3066.3H1753.9zM427.2 3066.3H454.9V3094.0H427.2zM535.8 3066.3H563.5V3094.0H535.8zM951.0 3066.3H978.7V3094.0H951.0zM1449.4 3066.3H1477.0V3094.0H1449.4zM1615.5 3066.3H1643.1V3094.0H1615.5zM1975.4 3066.3H2003.0V3094.0H1975.4zM399.6 3094.0H427.2V3121.7H399.6zM563.5 3094.0H591.2V3121.7H563.5zM784.9 3094.0H812.6V3121.7H784.9zM923.4 3094.0H951.0V3121.7H923.4zM1421.7 3094.0H1449.4V3121.7H1421.7zM1670.8 3094.0H1698.5V3121.7H1670.8zM1920.0 3094.0H1947.7V3121.7H1920.0zM427.2 3121.7H454.9V3149.4H427.2zM535.8 3121.7H563.5V3149.4H535.8zM729.6 3121.7H757.3V3149.4H729.6zM784.9 3121.7H812.6V3149.4H784.9zM840.3 3121.7H868.0V3149.4H840.3zM923.4 3121.7H951.0V3149.4H923.4zM1227.9 3121.7H1255.6V3149.4H1227.9zM1421.7 3121.7H1449.4V3149.4H1421.7zM1560.1 3121.7H1587.8V3149.4H1560.1zM1726.2 3121.7H1781.6V3149.4H1726.2zM1892.3 3121.7H1920.0V3149.4H1892.3zM535.8 3149.4H563.5V3177.0H535.8zM591.2 3149.4H646.5V3177.0H591.2zM729.6 3149.4H757.3V3177.0H729.6zM784.9 3149.4H812.6V3177.0H784.9zM1034.1 3149.4H1061.8V3177.0H1034.1zM1089.5 3149.4H1117.1V3177.0H1089.5zM1560.1 3149.4H1587.8V3177.0H1560.1zM1615.5 3149.4H1643.1V3177.0H1615.5zM701.9 3177.0H757.3V3204.7H701.9zM1089.5 3177.0H1117.1V3204.7H1089.5zM1366.3 3177.0H1394.0V3204.7H1366.3zM1560.1 3177.0H1587.8V3204.7H1560.1zM1643.1 3177.0H1670.8V3204.7H1643.1zM1753.9 3177.0H1781.6V3204.7H1753.9zM1864.6 3177.0H1920.0V3204.7H1864.6zM535.8 3204.7H591.2V3232.4H535.8zM978.7 3204.7H1061.8V3232.4H978.7zM1255.6 3204.7H1283.3V3232.4H1255.6zM1643.1 3204.7H1670.8V3232.4H1643.1zM1864.6 3204.7H1920.0V3232.4H1864.6zM1975.4 3204.7H2003.0V3232.4H1975.4zM399.6 3232.4H427.2V3260.1H399.6zM591.2 3232.4H618.8V3260.1H591.2zM784.9 3232.4H812.6V3260.1H784.9zM978.7 3232.4H1006.4V3260.1H978.7zM1034.1 3232.4H1061.8V3260.1H1034.1zM1643.1 3232.4H1670.8V3260.1H1643.1zM1864.6 3232.4H1892.3V3260.1H1864.6zM1920.0 3232.4H1947.7V3260.1H1920.0zM1975.4 3232.4H2003.0V3260.1H1975.4zM399.6 3260.1H427.2V3287.7H399.6zM535.8 3260.1H563.5V3287.7H535.8zM591.2 3260.1H618.8V3287.7H591.2zM646.5 3260.1H674.2V3287.7H646.5zM895.7 3260.1H923.4V3287.7H895.7zM951.0 3260.1H978.7V3287.7H951.0zM1200.2 3260.1H1227.9V3287.7H1200.2zM1449.4 3260.1H1477.0V3287.7H1449.4zM1615.5 3260.1H1670.8V3287.7H1615.5zM1172.5 3287.7H1200.2V3315.4H1172.5zM535.8 3315.4H591.2V3343.1H535.8zM618.8 3315.4H646.5V3343.1H618.8zM923.4 3315.4H951.0V3343.1H923.4zM1034.1 3315.4H1061.8V3343.1H1034.1zM1227.9 3315.4H1283.3V3343.1H1227.9zM1338.6 3315.4H1366.3V3343.1H1338.6zM1643.1 3315.4H1670.8V3343.1H1643.1zM1698.5 3315.4H1726.2V3343.1H1698.5zM1836.9 3315.4H1892.3V3343.1H1836.9zM1920.0 3315.4H1947.7V3343.1H1920.0zM399.6 3343.1H427.2V3370.8H399.6zM563.5 3343.1H591.2V3370.8H563.5zM951.0 3343.1H1006.4V3370.8H951.0zM1034.1 3343.1H1061.8V3370.8H1034.1zM1560.1 3343.1H1587.8V3370.8H1560.1zM1726.2 3343.1H1753.9V3370.8H1726.2zM618.8 3370.8H646.5V3398.4H618.8zM784.9 3370.8H812.6V3398.4H784.9zM895.7 3370.8H923.4V3398.4H895.7zM951.0 3370.8H978.7V3398.4H951.0zM1006.4 3370.8H1034.1V3398.4H1006.4zM1172.5 3370.8H1200.2V3398.4H1172.5zM1726.2 3370.8H1753.9V3398.4H1726.2zM1864.6 3370.8H1892.3V3398.4H1864.6zM399.6 3398.4H427.2V3426.1H399.6zM618.8 3398.4H646.5V3426.1H618.8zM784.9 3398.4H812.6V3426.1H784.9zM951.0 3398.4H978.7V3426.1H951.0zM1006.4 3398.4H1034.1V3426.1H1006.4zM1172.5 3398.4H1200.2V3426.1H1172.5zM1560.1 3398.4H1587.8V3426.1H1560.1zM1726.2 3398.4H1753.9V3426.1H1726.2zM1864.6 3398.4H1892.3V3426.1H1864.6zM1089.5 3426.1H1117.1V3451.7H1089.5zM1172.5 3426.1H1200.2V3451.7H1172.5zM1394.0 3426.1H1421.7V3451.7H1394.0zM1449.4 3426.1H1477.0V3451.7H1449.4zM371.9 3451.7H427.2V3479.4H371.9zM563.5 3451.7H591.2V3479.4H563.5zM923.4 3451.7H951.0V3479.4H923.4zM1034.1 3451.7H1061.8V3479.4H1034.1zM1089.5 3451.7H1117.1V3479.4H1089.5zM1643.1 3451.7H1670.8V3479.4H1643.1zM1920.0 3451.7H1947.7V3479.4H1920.0zM2003.0 3451.7H2030.7V3479.4H2003.0zM729.6 3479.4H757.3V3507.1H729.6zM895.7 3479.4H923.4V3507.1H895.7zM1449.4 3479.4H1477.0V3507.1H1449.4zM1560.1 3479.4H1587.8V3507.1H1560.1zM1726.2 3479.4H1753.9V3507.1H1726.2zM563.5 3507.1H591.2V3534.8H563.5zM701.9 3507.1H729.6V3534.8H701.9zM923.4 3507.1H951.0V3534.8H923.4zM1006.4 3507.1H1034.1V3534.8H1006.4zM1421.7 3507.1H1477.0V3534.8H1421.7zM868.0 3534.8H895.7V3562.4H868.0zM923.4 3534.8H951.0V3562.4H923.4zM1006.4 3534.8H1034.1V3562.4H1006.4zM1089.5 3534.8H1117.1V3562.4H1089.5zM1560.1 3534.8H1587.8V3562.4H1560.1zM1615.5 3534.8H1670.8V3562.4H1615.5zM535.8 3562.4H563.5V3590.1H535.8zM646.5 3562.4H674.2V3590.1H646.5zM784.9 3562.4H812.6V3590.1H784.9zM923.4 3562.4H951.0V3590.1H923.4zM1006.4 3562.4H1034.1V3590.1H1006.4zM1338.6 3562.4H1366.3V3590.1H1338.6zM1560.1 3562.4H1587.8V3590.1H1560.1zM1643.1 3562.4H1670.8V3590.1H1643.1zM1753.9 3562.4H1781.6V3590.1H1753.9zM1864.6 3562.4H1920.0V3590.1H1864.6zM563.5 3590.1H591.2V3617.8H563.5zM729.6 3590.1H757.3V3617.8H729.6zM784.9 3590.1H812.6V3617.8H784.9zM1255.6 3590.1H1283.3V3617.8H1255.6zM1421.7 3590.1H1449.4V3617.8H1421.7zM1643.1 3590.1H1670.8V3617.8H1643.1zM1920.0 3590.1H1947.7V3617.8H1920.0zM646.5 3617.8H674.2V3645.5H646.5zM784.9 3617.8H812.6V3645.5H784.9zM1172.5 3617.8H1200.2V3645.5H1172.5zM1255.6 3617.8H1283.3V3645.5H1255.6zM1366.3 3617.8H1394.0V3645.5H1366.3zM1892.3 3617.8H1920.0V3645.5H1892.3zM482.6 3645.5H508.1V3673.2H482.6zM563.5 3645.5H591.2V3673.2H563.5zM729.6 3645.5H757.3V3673.2H729.6zM812.6 3645.5H840.3V3673.2H812.6zM1034.1 3645.5H1061.8V3673.2H1034.1zM1117.1 3645.5H1144.8V3673.2H1117.1zM1255.6 3645.5H1283.3V3673.2H1255.6zM1421.7 3645.5H1449.4V3673.2H1421.7zM1643.1 3645.5H1670.8V3673.2H1643.1zM1726.2 3645.5H1753.9V3673.2H1726.2zM951.0 3673.2H978.7V3700.9H951.0zM1366.3 3673.2H1394.0V3700.9H1366.3zM1421.7 3673.2H1449.4V3700.9H1421.7zM1560.1 3673.2H1587.8V3700.9H1560.1zM1643.1 3673.2H1670.8V3700.9H1643.1zM1975.4 3673.2H2003.0V3700.9H1975.4zM535.8 3700.9H563.5V3728.6H535.8zM812.6 3700.9H840.3V3728.6H812.6zM951.0 3700.9H978.7V3728.6H951.0zM1006.4 3700.9H1061.8V3728.6H1006.4zM1172.5 3700.9H1200.2V3728.6H1172.5zM1366.3 3700.9H1394.0V3728.6H1366.3zM1560.1 3700.9H1587.8V3728.6H1560.1zM1726.2 3700.9H1753.9V3728.6H1726.2zM1920.0 3700.9H1947.7V3728.6H1920.0zM1975.4 3700.9H2003.0V3728.6H1975.4z"/>
<path fill="#ffd000" d="M482.6 2900.3H508.1V2928.0H482.6zM1836.9 2900.3H1864.6V2928.0H1836.9zM454.9 2928.0H482.6V2955.6H454.9zM1117.1 2928.0H1144.8V2955.6H1117.1zM1394.0 2928.0H1421.7V2955.6H1394.0zM674.2 2955.6H701.9V2983.3H674.2zM840.3 2955.6H868.0V2983.3H840.3zM1532.4 2955.6H1560.1V2983.3H1532.4zM344.2 2983.3H371.9V3011.0H344.2zM454.9 2983.3H482.6V3011.0H454.9zM674.2 2983.3H701.9V3011.0H674.2zM1726.2 2983.3H1753.9V3011.0H1726.2zM427.2 3011.0H454.9V3038.7H427.2zM840.3 3011.0H868.0V3038.7H840.3zM1615.5 3011.0H1643.1V3038.7H1615.5zM1753.9 3011.0H1781.6V3038.7H1753.9zM344.2 3038.7H371.9V3066.3H344.2zM454.9 3038.7H482.6V3066.3H454.9zM1698.5 3038.7H1726.2V3066.3H1698.5zM482.6 3066.3H508.1V3094.0H482.6zM674.2 3094.0H701.9V3121.7H674.2zM1117.1 3094.0H1144.8V3121.7H1117.1zM1227.9 3094.0H1255.6V3121.7H1227.9zM1698.5 3094.0H1726.2V3121.7H1698.5zM1034.1 3121.7H1061.8V3149.4H1034.1zM1283.3 3121.7H1310.9V3149.4H1283.3zM840.3 3149.4H868.0V3177.0H840.3zM1698.5 3149.4H1726.2V3177.0H1698.5zM1975.4 3149.4H2003.0V3177.0H1975.4zM344.2 3177.0H371.9V3204.7H344.2zM840.3 3177.0H868.0V3204.7H840.3zM1698.5 3177.0H1726.2V3204.7H1698.5zM1975.4 3177.0H2003.0V3204.7H1975.4zM840.3 3204.7H868.0V3232.4H840.3zM1061.8 3204.7H1089.5V3232.4H1061.8zM1117.1 3204.7H1144.8V3232.4H1117.1zM344.2 3232.4H371.9V3260.1H344.2zM1061.8 3232.4H1089.5V3260.1H1061.8zM1477.0 3232.4H1504.7V3260.1H1477.0zM840.3 3260.1H868.0V3287.7H840.3zM1394.0 3260.1H1421.7V3287.7H1394.0zM1587.8 3260.1H1615.5V3287.7H1587.8zM482.6 3287.7H508.1V3315.4H482.6zM1477.0 3315.4H1504.7V3343.1H1477.0zM1615.5 3315.4H1643.1V3343.1H1615.5zM344.2 3343.1H371.9V3370.8H344.2zM840.3 3343.1H868.0V3370.8H840.3zM1061.8 3343.1H1089.5V3370.8H1061.8zM1394.0 3343.1H1421.7V3370.8H1394.0zM1809.2 3343.1H1836.9V3370.8H1809.2zM840.3 3370.8H868.0V3398.4H840.3zM1394.0 3398.4H1421.7V3426.1H1394.0zM1892.3 3398.4H1920.0V3426.1H1892.3zM757.3 3426.1H784.9V3451.7H757.3zM812.6 3426.1H840.3V3451.7H812.6zM1698.5 3426.1H1726.2V3451.7H1698.5zM2003.0 3426.1H2030.7V3451.7H2003.0zM482.6 3451.7H508.1V3479.4H482.6zM840.3 3451.7H868.0V3479.4H840.3zM1698.5 3451.7H1726.2V3479.4H1698.5zM1809.2 3451.7H1836.9V3479.4H1809.2zM1117.1 3479.4H1144.8V3507.1H1117.1zM1477.0 3479.4H1504.7V3507.1H1477.0zM1809.2 3479.4H1836.9V3507.1H1809.2zM840.3 3507.1H868.0V3534.8H840.3zM1061.8 3507.1H1089.5V3534.8H1061.8zM1477.0 3507.1H1504.7V3534.8H1477.0zM1809.2 3507.1H1836.9V3534.8H1809.2zM840.3 3534.8H868.0V3562.4H840.3zM1061.8 3534.8H1089.5V3562.4H1061.8zM1532.4 3534.8H1560.1V3562.4H1532.4zM1698.5 3534.8H1726.2V3562.4H1698.5zM1809.2 3534.8H1836.9V3562.4H1809.2zM1698.5 3562.4H1726.2V3590.1H1698.5zM454.9 3590.1H482.6V3617.8H454.9zM674.2 3590.1H701.9V3617.8H674.2zM1200.2 3590.1H1227.9V3617.8H1200.2zM454.9 3617.8H482.6V3645.5H454.9zM1587.8 3617.8H1615.5V3645.5H1587.8zM1836.9 3617.8H1864.6V3645.5H1836.9zM674.2 3645.5H701.9V3673.2H674.2zM1283.3 3645.5H1310.9V3673.2H1283.3zM454.9 3673.2H482.6V3700.9H454.9zM1532.4 3673.2H1560.1V3700.9H1532.4zM454.9 3700.9H482.6V3728.6H454.9zM674.2 3700.9H701.9V3728.6H674.2zM868.0 3700.9H895.7V3728.6H868.0z"/>
<path fill="#aaaa56" d="M508.1 2900.3H535.8V2928.0H508.1zM563.5 2900.3H591.2V2928.0H563.5zM812.6 2900.3H840.3V2928.0H812.6zM1200.2 2900.3H1227.9V2928.0H1200.2zM1726.2 2900.3H1753.9V2928.0H1726.2zM508.1 2928.0H535.8V2955.6H508.1zM618.8 2928.0H646.5V2955.6H618.8zM951.0 2928.0H978.7V2955.6H951.0zM618.8 2955.6H646.5V2983.3H618.8zM1753.9 2955.6H1781.6V2983.3H1753.9zM618.8 2983.3H646.5V3011.0H618.8zM1089.5 2983.3H1117.1V3011.0H1089.5zM1366.3 2983.3H1394.0V3011.0H1366.3zM1643.1 2983.3H1670.8V3011.0H1643.1zM1753.9 2983.3H1781.6V3011.0H1753.9zM591.2 3011.0H618.8V3038.7H591.2zM951.0 3011.0H978.7V3038.7H951.0zM1864.6 3011.0H1892.3V3038.7H1864.6zM508.1 3038.7H535.8V3066.3H508.1zM618.8 3038.7H646.5V3066.3H618.8zM757.3 3038.7H784.9V3066.3H757.3zM1200.2 3038.7H1227.9V3066.3H1200.2zM1366.3 3038.7H1421.7V3066.3H1366.3zM1615.5 3038.7H1643.1V3066.3H1615.5zM1726.2 3038.7H1753.9V3066.3H1726.2zM591.2 3066.3H618.8V3094.0H591.2zM1227.9 3066.3H1255.6V3094.0H1227.9zM591.2 3094.0H618.8V3121.7H591.2zM812.6 3094.0H840.3V3121.7H812.6zM1061.8 3094.0H1089.5V3121.7H1061.8zM1615.5 3094.0H1643.1V3121.7H1615.5zM399.6 3121.7H427.2V3149.4H399.6zM618.8 3121.7H646.5V3149.4H618.8zM1061.8 3121.7H1089.5V3149.4H1061.8zM1338.6 3121.7H1366.3V3149.4H1338.6zM1477.0 3121.7H1504.7V3149.4H1477.0zM1643.1 3121.7H1670.8V3149.4H1643.1zM2003.0 3121.7H2030.7V3149.4H2003.0zM812.6 3149.4H840.3V3177.0H812.6zM1366.3 3149.4H1394.0V3177.0H1366.3zM1587.8 3149.4H1615.5V3177.0H1587.8zM1532.4 3177.0H1560.1V3204.7H1532.4zM1615.5 3177.0H1643.1V3204.7H1615.5zM1726.2 3177.0H1753.9V3204.7H1726.2zM1477.0 3204.7H1504.7V3232.4H1477.0zM2003.0 3204.7H2030.7V3232.4H2003.0zM508.1 3260.1H535.8V3287.7H508.1zM923.4 3260.1H951.0V3287.7H923.4zM1338.6 3260.1H1366.3V3287.7H1338.6zM1726.2 3260.1H1753.9V3287.7H1726.2zM1421.7 3287.7H1449.4V3315.4H1421.7zM1975.4 3287.7H2003.0V3315.4H1975.4zM427.2 3315.4H454.9V3343.1H427.2zM840.3 3315.4H868.0V3343.1H840.3zM951.0 3315.4H978.7V3343.1H951.0zM1726.2 3315.4H1753.9V3343.1H1726.2zM508.1 3343.1H535.8V3370.8H508.1zM757.3 3343.1H784.9V3370.8H757.3zM1587.8 3343.1H1615.5V3370.8H1587.8zM812.6 3370.8H840.3V3398.4H812.6zM1200.2 3370.8H1283.3V3398.4H1200.2zM1449.4 3370.8H1477.0V3398.4H1449.4zM427.2 3398.4H454.9V3426.1H427.2zM895.7 3398.4H923.4V3426.1H895.7zM1200.2 3398.4H1255.6V3426.1H1200.2zM1449.4 3398.4H1477.0V3426.1H1449.4zM1753.9 3398.4H1781.6V3426.1H1753.9zM1117.1 3426.1H1144.8V3451.7H1117.1zM1255.6 3426.1H1283.3V3451.7H1255.6zM1421.7 3426.1H1449.4V3451.7H1421.7zM427.2 3451.7H454.9V3479.4H427.2zM508.1 3451.7H535.8V3479.4H508.1zM729.6 3451.7H757.3V3479.4H729.6zM895.7 3451.7H923.4V3479.4H895.7zM1117.1 3451.7H1144.8V3479.4H1117.1zM1975.4 3451.7H2003.0V3479.4H1975.4zM591.2 3479.4H618.8V3507.1H591.2zM757.3 3507.1H784.9V3534.8H757.3zM951.0 3507.1H978.7V3534.8H951.0zM1366.3 3507.1H1394.0V3534.8H1366.3zM1532.4 3507.1H1560.1V3534.8H1532.4zM951.0 3534.8H978.7V3562.4H951.0zM1117.1 3534.8H1144.8V3562.4H1117.1zM1255.6 3534.8H1283.3V3562.4H1255.6zM1726.2 3534.8H1753.9V3562.4H1726.2zM399.6 3562.4H427.2V3590.1H399.6zM508.1 3562.4H535.8V3590.1H508.1zM1255.6 3562.4H1283.3V3590.1H1255.6zM1366.3 3562.4H1394.0V3590.1H1366.3zM1587.8 3562.4H1615.5V3590.1H1587.8zM757.3 3590.1H784.9V3617.8H757.3zM427.2 3617.8H454.9V3645.5H427.2zM508.1 3617.8H535.8V3645.5H508.1zM618.8 3617.8H646.5V3645.5H618.8zM812.6 3617.8H840.3V3645.5H812.6zM923.4 3617.8H951.0V3645.5H923.4zM1200.2 3617.8H1227.9V3645.5H1200.2zM1338.6 3617.8H1366.3V3645.5H1338.6zM1864.6 3617.8H1892.3V3645.5H1864.6zM784.9 3645.5H812.6V3673.2H784.9zM1089.5 3645.5H1117.1V3673.2H1089.5zM1809.2 3645.5H1836.9V3673.2H1809.2zM508.1 3673.2H535.8V3700.9H508.1zM1338.6 3673.2H1366.3V3700.9H1338.6zM1587.8 3673.2H1615.5V3700.9H1587.8zM2003.0 3673.2H2030.7V3700.9H2003.0zM344.2 3700.9H371.9V3728.6H344.2zM427.2 3700.9H454.9V3728.6H427.2zM757.3 3700.9H812.6V3728.6H757.3zM840.3 3700.9H868.0V3728.6H840.3zM923.4 3700.9H951.0V3728.6H923.4zM1200.2 3700.9H1227.9V3728.6H1200.2zM1587.8 3700.9H1615.5V3728.6H1587.8zM1809.2 3700.9H1836.9V3728.6H1809.2zM1864.6 3700.9H1892.3V3728.6H1864.6zM2003.0 3700.9H2030.7V3728.6H2003.0z"/>
<path fill="#808080" d="M535.8 2900.3H563.5V2928.0H535.8zM591.2 2900.3H618.8V2928.0H591.2zM895.7 2900.3H923.4V2928.0H895.7zM951.0 2900.3H978.7V2928.0H951.0zM1172.5 2900.3H1200.2V2928.0H1172.5zM1449.4 2900.3H1504.7V2928.0H1449.4zM535.8 2928.0H563.5V2955.6H535.8zM646.5 2928.0H674.2V2955.6H646.5zM923.4 2928.0H951.0V2955.6H923.4zM1338.6 2928.0H1366.3V2955.6H1338.6zM1560.1 2928.0H1587.8V2955.6H1560.1zM1753.9 2928.0H1781.6V2955.6H1753.9zM563.5 2955.6H591.2V2983.3H563.5zM729.6 2955.6H757.3V2983.3H729.6zM1200.2 2955.6H1227.9V2983.3H1200.2zM1366.3 2955.6H1394.0V2983.3H1366.3zM2003.0 2955.6H2030.7V2983.3H2003.0zM508.1 2983.3H535.8V3011.0H508.1zM563.5 2983.3H591.2V3011.0H563.5zM729.6 2983.3H757.3V3011.0H729.6zM951.0 2983.3H978.7V3011.0H951.0zM1034.1 2983.3H1061.8V3011.0H1034.1zM1200.2 2983.3H1227.9V3011.0H1200.2zM1477.0 2983.3H1504.7V3011.0H1477.0zM1615.5 2983.3H1643.1V3011.0H1615.5zM1809.2 2983.3H1836.9V3011.0H1809.2zM2003.0 2983.3H2030.7V3011.0H2003.0zM923.4 3011.0H951.0V3038.7H923.4zM1338.6 3011.0H1366.3V3038.7H1338.6zM1836.9 3011.0H1864.6V3038.7H1836.9zM1975.4 3011.0H2003.0V3038.7H1975.4zM427.2 3038.7H454.9V3066.3H427.2zM646.5 3038.7H674.2V3066.3H646.5zM1560.1 3038.7H1587.8V3066.3H1560.1zM563.5 3066.3H591.2V3094.0H563.5zM729.6 3066.3H757.3V3094.0H729.6zM1338.6 3066.3H1366.3V3094.0H1338.6zM1726.2 3066.3H1753.9V3094.0H1726.2zM868.0 3094.0H895.7V3121.7H868.0zM1034.1 3094.0H1061.8V3121.7H1034.1zM1338.6 3094.0H1366.3V3121.7H1338.6zM1587.8 3094.0H1615.5V3121.7H1587.8zM1864.6 3094.0H1892.3V3121.7H1864.6zM646.5 3121.7H674.2V3149.4H646.5zM1006.4 3121.7H1034.1V3149.4H1006.4zM1172.5 3121.7H1200.2V3149.4H1172.5zM1366.3 3121.7H1394.0V3149.4H1366.3zM1864.6 3121.7H1892.3V3149.4H1864.6zM1975.4 3121.7H2003.0V3149.4H1975.4zM951.0 3149.4H978.7V3177.0H951.0zM1200.2 3149.4H1255.6V3177.0H1200.2zM1338.6 3149.4H1366.3V3177.0H1338.6zM1836.9 3149.4H1864.6V3177.0H1836.9zM1920.0 3149.4H1947.7V3177.0H1920.0zM427.2 3177.0H454.9V3204.7H427.2zM591.2 3177.0H618.8V3204.7H591.2zM895.7 3177.0H923.4V3204.7H895.7zM951.0 3177.0H978.7V3204.7H951.0zM1172.5 3177.0H1200.2V3204.7H1172.5zM1504.7 3177.0H1532.4V3204.7H1504.7zM399.6 3204.7H427.2V3232.4H399.6zM646.5 3204.7H674.2V3232.4H646.5zM1200.2 3204.7H1227.9V3232.4H1200.2zM508.1 3232.4H535.8V3260.1H508.1zM951.0 3232.4H978.7V3260.1H951.0zM1006.4 3232.4H1034.1V3260.1H1006.4zM1200.2 3232.4H1227.9V3260.1H1200.2zM1366.3 3260.1H1394.0V3287.7H1366.3zM1892.3 3260.1H1920.0V3287.7H1892.3zM591.2 3287.7H618.8V3315.4H591.2zM923.4 3287.7H951.0V3315.4H923.4zM1227.9 3287.7H1255.6V3315.4H1227.9zM1394.0 3287.7H1421.7V3315.4H1394.0zM1477.0 3287.7H1504.7V3315.4H1477.0zM2003.0 3287.7H2030.7V3315.4H2003.0zM729.6 3315.4H757.3V3343.1H729.6zM1172.5 3315.4H1200.2V3343.1H1172.5zM1753.9 3315.4H1781.6V3343.1H1753.9zM427.2 3343.1H454.9V3370.8H427.2zM535.8 3343.1H563.5V3370.8H535.8zM674.2 3343.1H701.9V3370.8H674.2zM895.7 3343.1H923.4V3370.8H895.7zM399.6 3370.8H427.2V3398.4H399.6zM508.1 3370.8H535.8V3398.4H508.1zM674.2 3370.8H701.9V3398.4H674.2zM1034.1 3370.8H1061.8V3398.4H1034.1zM1560.1 3370.8H1587.8V3398.4H1560.1zM535.8 3398.4H563.5V3426.1H535.8zM591.2 3398.4H618.8V3426.1H591.2zM1034.1 3398.4H1061.8V3426.1H1034.1zM2003.0 3398.4H2030.7V3426.1H2003.0zM399.6 3426.1H427.2V3451.7H399.6zM563.5 3426.1H591.2V3451.7H563.5zM978.7 3426.1H1006.4V3451.7H978.7zM1034.1 3426.1H1061.8V3451.7H1034.1zM1283.3 3426.1H1310.9V3451.7H1283.3zM1560.1 3426.1H1587.8V3451.7H1560.1zM535.8 3451.7H563.5V3479.4H535.8zM618.8 3451.7H646.5V3479.4H618.8zM1172.5 3451.7H1200.2V3479.4H1172.5zM1394.0 3451.7H1421.7V3479.4H1394.0zM1477.0 3451.7H1504.7V3479.4H1477.0zM399.6 3479.4H427.2V3507.1H399.6zM563.5 3479.4H591.2V3507.1H563.5zM1034.1 3479.4H1061.8V3507.1H1034.1zM1255.6 3479.4H1283.3V3507.1H1255.6zM1338.6 3479.4H1366.3V3507.1H1338.6zM1864.6 3479.4H1920.0V3507.1H1864.6zM1975.4 3479.4H2003.0V3507.1H1975.4zM427.2 3507.1H454.9V3534.8H427.2zM1089.5 3507.1H1117.1V3534.8H1089.5zM1338.6 3507.1H1366.3V3534.8H1338.6zM1587.8 3507.1H1615.5V3534.8H1587.8zM1643.1 3507.1H1670.8V3534.8H1643.1zM729.6 3534.8H757.3V3562.4H729.6zM1338.6 3534.8H1366.3V3562.4H1338.6zM1753.9 3534.8H1781.6V3562.4H1753.9zM1864.6 3534.8H1892.3V3562.4H1864.6zM1920.0 3534.8H1947.7V3562.4H1920.0zM1975.4 3534.8H2003.0V3562.4H1975.4zM563.5 3562.4H591.2V3590.1H563.5zM674.2 3562.4H701.9V3590.1H674.2zM1227.9 3562.4H1255.6V3590.1H1227.9zM1920.0 3562.4H1947.7V3590.1H1920.0zM2003.0 3562.4H2030.7V3590.1H2003.0zM1227.9 3590.1H1255.6V3617.8H1227.9zM1615.5 3590.1H1643.1V3617.8H1615.5zM535.8 3617.8H563.5V3645.5H535.8zM840.3 3617.8H868.0V3645.5H840.3zM951.0 3617.8H978.7V3645.5H951.0zM951.0 3645.5H978.7V3673.2H951.0zM1227.9 3645.5H1255.6V3673.2H1227.9zM1338.6 3645.5H1366.3V3673.2H1338.6zM1615.5 3645.5H1643.1V3673.2H1615.5zM535.8 3673.2H563.5V3700.9H535.8zM618.8 3673.2H646.5V3700.9H618.8zM729.6 3673.2H757.3V3700.9H729.6zM1006.4 3673.2H1034.1V3700.9H1006.4zM1117.1 3673.2H1144.8V3700.9H1117.1zM1172.5 3673.2H1200.2V3700.9H1172.5z"/>
<path fill="#999968" d="M618.8 2900.3H674.2V2928.0H618.8zM923.4 2900.3H951.0V2928.0H923.4zM1144.8 2900.3H1172.5V2928.0H1144.8zM1227.9 2900.3H1255.6V2928.0H1227.9zM1587.8 2900.3H1615.5V2928.0H1587.8zM1643.1 2900.3H1670.8V2928.0H1643.1zM1947.7 2900.3H1975.4V2928.0H1947.7zM427.2 2928.0H454.9V2955.6H427.2zM757.3 2928.0H784.9V2955.6H757.3zM895.7 2928.0H923.4V2955.6H895.7zM1034.1 2928.0H1061.8V2955.6H1034.1zM1144.8 2928.0H1172.5V2955.6H1144.8zM1366.3 2928.0H1394.0V2955.6H1366.3zM1587.8 2928.0H1615.5V2955.6H1587.8zM1947.7 2928.0H1975.4V2955.6H1947.7zM454.9 2955.6H508.1V2983.3H454.9zM591.2 2955.6H618.8V2983.3H591.2zM757.3 2955.6H784.9V2983.3H757.3zM923.4 2955.6H978.7V2983.3H923.4zM1144.8 2955.6H1200.2V2983.3H1144.8zM1338.6 2955.6H1366.3V2983.3H1338.6zM1947.7 2955.6H2003.0V2983.3H1947.7zM399.6 2983.3H427.2V3011.0H399.6zM535.8 2983.3H563.5V3011.0H535.8zM591.2 2983.3H618.8V3011.0H591.2zM757.3 2983.3H840.3V3011.0H757.3zM923.4 2983.3H951.0V3011.0H923.4zM1144.8 2983.3H1200.2V3011.0H1144.8zM1947.7 2983.3H2003.0V3011.0H1947.7zM1144.8 3011.0H1172.5V3038.7H1144.8zM1283.3 3011.0H1310.9V3038.7H1283.3zM1366.3 3011.0H1394.0V3038.7H1366.3zM1560.1 3011.0H1615.5V3038.7H1560.1zM1947.7 3011.0H1975.4V3038.7H1947.7zM2003.0 3011.0H2030.7V3038.7H2003.0zM1144.8 3038.7H1172.5V3066.3H1144.8zM1587.8 3038.7H1615.5V3066.3H1587.8zM1864.6 3038.7H1920.0V3066.3H1864.6zM1947.7 3038.7H2030.7V3066.3H1947.7zM1144.8 3066.3H1172.5V3094.0H1144.8zM1366.3 3066.3H1394.0V3094.0H1366.3zM1477.0 3066.3H1504.7V3094.0H1477.0zM1947.7 3066.3H1975.4V3094.0H1947.7zM1144.8 3094.0H1172.5V3121.7H1144.8zM1283.3 3094.0H1310.9V3121.7H1283.3zM1366.3 3094.0H1394.0V3121.7H1366.3zM1560.1 3094.0H1587.8V3121.7H1560.1zM1892.3 3094.0H1920.0V3121.7H1892.3zM1947.7 3094.0H1975.4V3121.7H1947.7zM563.5 3121.7H618.8V3149.4H563.5zM895.7 3121.7H923.4V3149.4H895.7zM1144.8 3121.7H1172.5V3149.4H1144.8zM1200.2 3121.7H1227.9V3149.4H1200.2zM1255.6 3121.7H1283.3V3149.4H1255.6zM1615.5 3121.7H1643.1V3149.4H1615.5zM1947.7 3121.7H1975.4V3149.4H1947.7zM923.4 3149.4H951.0V3177.0H923.4zM1006.4 3149.4H1034.1V3177.0H1006.4zM1144.8 3149.4H1200.2V3177.0H1144.8zM1532.4 3149.4H1560.1V3177.0H1532.4zM1726.2 3149.4H1753.9V3177.0H1726.2zM1864.6 3149.4H1892.3V3177.0H1864.6zM1947.7 3149.4H1975.4V3177.0H1947.7zM399.6 3177.0H427.2V3204.7H399.6zM563.5 3177.0H591.2V3204.7H563.5zM618.8 3177.0H701.9V3204.7H618.8zM784.9 3177.0H840.3V3204.7H784.9zM923.4 3177.0H951.0V3204.7H923.4zM1144.8 3177.0H1172.5V3204.7H1144.8zM1200.2 3177.0H1227.9V3204.7H1200.2zM1920.0 3177.0H1975.4V3204.7H1920.0zM618.8 3204.7H646.5V3232.4H618.8zM895.7 3204.7H978.7V3232.4H895.7zM1144.8 3204.7H1200.2V3232.4H1144.8zM1726.2 3204.7H1753.9V3232.4H1726.2zM1947.7 3204.7H1975.4V3232.4H1947.7zM427.2 3232.4H454.9V3260.1H427.2zM535.8 3232.4H563.5V3260.1H535.8zM757.3 3232.4H784.9V3260.1H757.3zM923.4 3232.4H951.0V3260.1H923.4zM1144.8 3232.4H1200.2V3260.1H1144.8zM1560.1 3232.4H1615.5V3260.1H1560.1zM1753.9 3232.4H1781.6V3260.1H1753.9zM1947.7 3232.4H1975.4V3260.1H1947.7zM757.3 3260.1H784.9V3287.7H757.3zM1144.8 3260.1H1172.5V3287.7H1144.8zM1753.9 3260.1H1781.6V3287.7H1753.9zM1947.7 3260.1H1975.4V3287.7H1947.7zM563.5 3287.7H591.2V3315.4H563.5zM951.0 3287.7H978.7V3315.4H951.0zM1144.8 3287.7H1172.5V3315.4H1144.8zM1726.2 3287.7H1753.9V3315.4H1726.2zM1947.7 3287.7H1975.4V3315.4H1947.7zM399.6 3315.4H427.2V3343.1H399.6zM784.9 3315.4H840.3V3343.1H784.9zM1089.5 3315.4H1172.5V3343.1H1089.5zM1200.2 3315.4H1227.9V3343.1H1200.2zM1947.7 3315.4H1975.4V3343.1H1947.7zM1144.8 3343.1H1172.5V3370.8H1144.8zM1255.6 3343.1H1310.9V3370.8H1255.6zM1449.4 3343.1H1504.7V3370.8H1449.4zM1753.9 3343.1H1781.6V3370.8H1753.9zM1836.9 3343.1H1892.3V3370.8H1836.9zM1947.7 3343.1H1975.4V3370.8H1947.7zM427.2 3370.8H454.9V3398.4H427.2zM535.8 3370.8H618.8V3398.4H535.8zM978.7 3370.8H1006.4V3398.4H978.7zM1144.8 3370.8H1172.5V3398.4H1144.8zM1532.4 3370.8H1560.1V3398.4H1532.4zM1587.8 3370.8H1615.5V3398.4H1587.8zM1947.7 3370.8H1975.4V3398.4H1947.7zM508.1 3398.4H535.8V3426.1H508.1zM563.5 3398.4H591.2V3426.1H563.5zM674.2 3398.4H701.9V3426.1H674.2zM978.7 3398.4H1006.4V3426.1H978.7zM1144.8 3398.4H1172.5V3426.1H1144.8zM1255.6 3398.4H1283.3V3426.1H1255.6zM1532.4 3398.4H1560.1V3426.1H1532.4zM1836.9 3398.4H1864.6V3426.1H1836.9zM1947.7 3398.4H2003.0V3426.1H1947.7zM591.2 3426.1H618.8V3451.7H591.2zM1144.8 3426.1H1172.5V3451.7H1144.8zM1587.8 3426.1H1643.1V3451.7H1587.8zM1809.2 3426.1H1836.9V3451.7H1809.2zM1864.6 3426.1H1892.3V3451.7H1864.6zM1920.0 3426.1H1975.4V3451.7H1920.0zM646.5 3451.7H674.2V3479.4H646.5zM757.3 3451.7H784.9V3479.4H757.3zM1144.8 3451.7H1172.5V3479.4H1144.8zM1200.2 3451.7H1227.9V3479.4H1200.2zM1255.6 3451.7H1283.3V3479.4H1255.6zM1421.7 3451.7H1449.4V3479.4H1421.7zM1560.1 3451.7H1643.1V3479.4H1560.1zM1864.6 3451.7H1892.3V3479.4H1864.6zM1947.7 3451.7H1975.4V3479.4H1947.7zM454.9 3479.4H508.1V3507.1H454.9zM784.9 3479.4H840.3V3507.1H784.9zM1144.8 3479.4H1172.5V3507.1H1144.8zM1283.3 3479.4H1310.9V3507.1H1283.3zM1366.3 3479.4H1394.0V3507.1H1366.3zM1532.4 3479.4H1560.1V3507.1H1532.4zM1643.1 3479.4H1670.8V3507.1H1643.1zM1753.9 3479.4H1781.6V3507.1H1753.9zM1947.7 3479.4H1975.4V3507.1H1947.7zM2003.0 3479.4H2030.7V3507.1H2003.0zM399.6 3507.1H427.2V3534.8H399.6zM454.9 3507.1H508.1V3534.8H454.9zM674.2 3507.1H701.9V3534.8H674.2zM729.6 3507.1H757.3V3534.8H729.6zM895.7 3507.1H923.4V3534.8H895.7zM1034.1 3507.1H1061.8V3534.8H1034.1zM1117.1 3507.1H1172.5V3534.8H1117.1zM1283.3 3507.1H1310.9V3534.8H1283.3zM1560.1 3507.1H1587.8V3534.8H1560.1zM1836.9 3507.1H1864.6V3534.8H1836.9zM1920.0 3507.1H1975.4V3534.8H1920.0zM399.6 3534.8H618.8V3562.4H399.6zM1144.8 3534.8H1172.5V3562.4H1144.8zM1227.9 3534.8H1255.6V3562.4H1227.9zM1366.3 3534.8H1394.0V3562.4H1366.3zM1836.9 3534.8H1864.6V3562.4H1836.9zM1892.3 3534.8H1920.0V3562.4H1892.3zM1947.7 3534.8H1975.4V3562.4H1947.7zM2003.0 3534.8H2030.7V3562.4H2003.0zM427.2 3562.4H508.1V3590.1H427.2zM591.2 3562.4H618.8V3590.1H591.2zM729.6 3562.4H757.3V3590.1H729.6zM1034.1 3562.4H1061.8V3590.1H1034.1zM1144.8 3562.4H1172.5V3590.1H1144.8zM1477.0 3562.4H1504.7V3590.1H1477.0zM1615.5 3562.4H1643.1V3590.1H1615.5zM1726.2 3562.4H1753.9V3590.1H1726.2zM1947.7 3562.4H2003.0V3590.1H1947.7zM1006.4 3590.1H1034.1V3617.8H1006.4zM1144.8 3590.1H1172.5V3617.8H1144.8zM1449.4 3590.1H1477.0V3617.8H1449.4zM1947.7 3590.1H1975.4V3617.8H1947.7zM729.6 3617.8H757.3V3645.5H729.6zM1144.8 3617.8H1172.5V3645.5H1144.8zM1227.9 3617.8H1255.6V3645.5H1227.9zM1504.7 3617.8H1532.4V3645.5H1504.7zM1615.5 3617.8H1643.1V3645.5H1615.5zM1947.7 3617.8H1975.4V3645.5H1947.7zM618.8 3645.5H674.2V3673.2H618.8zM868.0 3645.5H895.7V3673.2H868.0zM923.4 3645.5H951.0V3673.2H923.4zM1144.8 3645.5H1227.9V3673.2H1144.8zM1366.3 3645.5H1394.0V3673.2H1366.3zM1947.7 3645.5H1975.4V3673.2H1947.7zM427.2 3673.2H454.9V3700.9H427.2zM646.5 3673.2H674.2V3700.9H646.5zM757.3 3673.2H840.3V3700.9H757.3zM1089.5 3673.2H1117.1V3700.9H1089.5zM1144.8 3673.2H1172.5V3700.9H1144.8zM1200.2 3673.2H1227.9V3700.9H1200.2zM1615.5 3673.2H1643.1V3700.9H1615.5zM1947.7 3673.2H1975.4V3700.9H1947.7zM618.8 3700.9H674.2V3728.6H618.8zM1144.8 3700.9H1172.5V3728.6H1144.8zM1477.0 3700.9H1504.7V3728.6H1477.0zM1947.7 3700.9H1975.4V3728.6H1947.7z"/>
<path fill="#dcdc26" d="M674.2 2900.3H701.9V2928.0H674.2zM1117.1 2900.3H1144.8V2928.0H1117.1zM1366.3 2900.3H1394.0V2928.0H1366.3zM591.2 2928.0H618.8V2955.6H591.2zM1200.2 2928.0H1227.9V2955.6H1200.2zM1477.0 2928.0H1504.7V2955.6H1477.0zM2003.0 2928.0H2030.7V2955.6H2003.0zM812.6 2955.6H840.3V2983.3H812.6zM1117.1 2955.6H1144.8V2983.3H1117.1zM1227.9 2983.3H1255.6V3011.0H1227.9zM1283.3 2983.3H1310.9V3011.0H1283.3zM1394.0 2983.3H1421.7V3011.0H1394.0zM1587.8 2983.3H1615.5V3011.0H1587.8zM344.2 3011.0H371.9V3038.7H344.2zM454.9 3011.0H482.6V3038.7H454.9zM508.1 3011.0H535.8V3038.7H508.1zM618.8 3011.0H646.5V3038.7H618.8zM757.3 3011.0H784.9V3038.7H757.3zM812.6 3011.0H840.3V3038.7H812.6zM1394.0 3011.0H1421.7V3038.7H1394.0zM1477.0 3011.0H1504.7V3038.7H1477.0zM1698.5 3011.0H1726.2V3038.7H1698.5zM1809.2 3011.0H1836.9V3038.7H1809.2zM1892.3 3011.0H1920.0V3038.7H1892.3zM674.2 3038.7H701.9V3066.3H674.2zM1227.9 3038.7H1255.6V3066.3H1227.9zM1283.3 3038.7H1310.9V3066.3H1283.3zM1477.0 3038.7H1504.7V3066.3H1477.0zM1117.1 3066.3H1144.8V3094.0H1117.1zM1394.0 3066.3H1421.7V3094.0H1394.0zM1560.1 3066.3H1587.8V3094.0H1560.1zM1753.9 3066.3H1781.6V3094.0H1753.9zM344.2 3094.0H371.9V3121.7H344.2zM427.2 3094.0H482.6V3121.7H427.2zM508.1 3094.0H535.8V3121.7H508.1zM757.3 3094.0H784.9V3121.7H757.3zM978.7 3094.0H1006.4V3121.7H978.7zM1809.2 3094.0H1864.6V3121.7H1809.2zM2003.0 3094.0H2030.7V3121.7H2003.0zM1117.1 3121.7H1144.8V3149.4H1117.1zM399.6 3149.4H427.2V3177.0H399.6zM1643.1 3149.4H1670.8V3177.0H1643.1zM508.1 3177.0H535.8V3204.7H508.1zM1477.0 3177.0H1504.7V3204.7H1477.0zM1836.9 3177.0H1864.6V3204.7H1836.9zM344.2 3204.7H371.9V3232.4H344.2zM427.2 3204.7H454.9V3232.4H427.2zM674.2 3204.7H701.9V3232.4H674.2zM1227.9 3204.7H1255.6V3232.4H1227.9zM1366.3 3204.7H1394.0V3232.4H1366.3zM1560.1 3204.7H1587.8V3232.4H1560.1zM618.8 3232.4H646.5V3260.1H618.8zM729.6 3232.4H757.3V3260.1H729.6zM840.3 3232.4H868.0V3260.1H840.3zM895.7 3232.4H923.4V3260.1H895.7zM1089.5 3232.4H1117.1V3260.1H1089.5zM1366.3 3232.4H1421.7V3260.1H1366.3zM1726.2 3232.4H1753.9V3260.1H1726.2zM1809.2 3232.4H1836.9V3260.1H1809.2zM427.2 3260.1H454.9V3287.7H427.2zM1117.1 3260.1H1144.8V3287.7H1117.1zM1227.9 3260.1H1255.6V3287.7H1227.9zM1283.3 3260.1H1310.9V3287.7H1283.3zM1532.4 3260.1H1560.1V3287.7H1532.4zM1809.2 3260.1H1836.9V3287.7H1809.2zM618.8 3287.7H646.5V3315.4H618.8zM1117.1 3287.7H1144.8V3315.4H1117.1zM1587.8 3287.7H1615.5V3315.4H1587.8zM895.7 3315.4H923.4V3343.1H895.7zM1394.0 3315.4H1421.7V3343.1H1394.0zM1532.4 3315.4H1560.1V3343.1H1532.4zM1809.2 3315.4H1836.9V3343.1H1809.2zM646.5 3343.1H674.2V3370.8H646.5zM729.6 3343.1H757.3V3370.8H729.6zM812.6 3343.1H840.3V3370.8H812.6zM1200.2 3343.1H1255.6V3370.8H1200.2zM1338.6 3343.1H1366.3V3370.8H1338.6zM1698.5 3343.1H1726.2V3370.8H1698.5zM1892.3 3343.1H1920.0V3370.8H1892.3zM646.5 3370.8H674.2V3398.4H646.5zM729.6 3370.8H784.9V3398.4H729.6zM1061.8 3370.8H1089.5V3398.4H1061.8zM1338.6 3370.8H1366.3V3398.4H1338.6zM1615.5 3370.8H1643.1V3398.4H1615.5zM1836.9 3370.8H1864.6V3398.4H1836.9zM1892.3 3370.8H1920.0V3398.4H1892.3zM646.5 3398.4H674.2V3426.1H646.5zM923.4 3398.4H951.0V3426.1H923.4zM1061.8 3398.4H1089.5V3426.1H1061.8zM1117.1 3398.4H1144.8V3426.1H1117.1zM1338.6 3398.4H1366.3V3426.1H1338.6zM427.2 3426.1H454.9V3451.7H427.2zM508.1 3426.1H535.8V3451.7H508.1zM951.0 3426.1H978.7V3451.7H951.0zM1227.9 3426.1H1255.6V3451.7H1227.9zM1726.2 3426.1H1753.9V3451.7H1726.2zM1836.9 3426.1H1864.6V3451.7H1836.9zM674.2 3451.7H701.9V3479.4H674.2zM1061.8 3451.7H1089.5V3479.4H1061.8zM1227.9 3451.7H1255.6V3479.4H1227.9zM1283.3 3451.7H1310.9V3479.4H1283.3zM1366.3 3451.7H1394.0V3479.4H1366.3zM344.2 3479.4H371.9V3507.1H344.2zM427.2 3479.4H454.9V3507.1H427.2zM618.8 3479.4H646.5V3507.1H618.8zM757.3 3479.4H784.9V3507.1H757.3zM951.0 3479.4H978.7V3507.1H951.0zM1227.9 3479.4H1255.6V3507.1H1227.9zM1394.0 3479.4H1421.7V3507.1H1394.0zM508.1 3507.1H535.8V3534.8H508.1zM618.8 3507.1H646.5V3534.8H618.8zM812.6 3507.1H840.3V3534.8H812.6zM1200.2 3507.1H1227.9V3534.8H1200.2zM1255.6 3507.1H1283.3V3534.8H1255.6zM2003.0 3507.1H2030.7V3534.8H2003.0zM757.3 3534.8H784.9V3562.4H757.3zM812.6 3534.8H840.3V3562.4H812.6zM1394.0 3534.8H1421.7V3562.4H1394.0zM757.3 3562.4H784.9V3590.1H757.3zM1117.1 3562.4H1144.8V3590.1H1117.1zM1394.0 3562.4H1421.7V3590.1H1394.0zM1836.9 3562.4H1864.6V3590.1H1836.9zM508.1 3590.1H535.8V3617.8H508.1zM618.8 3590.1H646.5V3617.8H618.8zM812.6 3590.1H868.0V3617.8H812.6zM923.4 3590.1H951.0V3617.8H923.4zM1089.5 3590.1H1117.1V3617.8H1089.5zM1338.6 3590.1H1366.3V3617.8H1338.6zM591.2 3617.8H618.8V3645.5H591.2zM868.0 3617.8H895.7V3645.5H868.0zM1117.1 3617.8H1144.8V3645.5H1117.1zM508.1 3645.5H535.8V3673.2H508.1zM1753.9 3645.5H1781.6V3673.2H1753.9zM1836.9 3645.5H1864.6V3673.2H1836.9zM344.2 3673.2H371.9V3700.9H344.2zM399.6 3673.2H427.2V3700.9H399.6zM591.2 3673.2H618.8V3700.9H591.2zM1227.9 3673.2H1255.6V3700.9H1227.9zM1283.3 3673.2H1310.9V3700.9H1283.3zM1394.0 3673.2H1421.7V3700.9H1394.0zM1809.2 3673.2H1892.3V3700.9H1809.2zM1089.5 3700.9H1117.1V3728.6H1089.5zM1227.9 3700.9H1255.6V3728.6H1227.9zM1283.3 3700.9H1310.9V3728.6H1283.3zM1753.9 3700.9H1781.6V3728.6H1753.9zM1836.9 3700.9H1864.6V3728.6H1836.9z"/>
<path fill="#ffff00" d="M757.3 2900.3H784.9V2928.0H757.3zM1394.0 2900.3H1421.7V2928.0H1394.0zM1532.4 2900.3H1560.1V2928.0H1532.4zM1615.5 2900.3H1643.1V2928.0H1615.5zM1975.4 2900.3H2003.0V2928.0H1975.4zM1394.0 2955.6H1421.7V2983.3H1394.0zM1698.5 2983.3H1726.2V3011.0H1698.5zM674.2 3011.0H701.9V3038.7H674.2zM978.7 3011.0H1006.4V3038.7H978.7zM1809.2 3038.7H1864.6V3066.3H1809.2zM618.8 3066.3H646.5V3094.0H618.8zM812.6 3066.3H840.3V3094.0H812.6zM1200.2 3066.3H1227.9V3094.0H1200.2zM1809.2 3066.3H1836.9V3094.0H1809.2zM618.8 3094.0H646.5V3121.7H618.8zM840.3 3094.0H868.0V3121.7H840.3zM1200.2 3094.0H1227.9V3121.7H1200.2zM1753.9 3094.0H1781.6V3121.7H1753.9zM344.2 3121.7H371.9V3149.4H344.2zM1698.5 3121.7H1726.2V3149.4H1698.5zM344.2 3149.4H371.9V3177.0H344.2zM1394.0 3149.4H1421.7V3177.0H1394.0zM1227.9 3177.0H1255.6V3204.7H1227.9zM1283.3 3177.0H1310.9V3204.7H1283.3zM1394.0 3177.0H1421.7V3204.7H1394.0zM812.6 3204.7H840.3V3232.4H812.6zM1283.3 3204.7H1310.9V3232.4H1283.3zM1394.0 3204.7H1421.7V3232.4H1394.0zM1809.2 3204.7H1836.9V3232.4H1809.2zM1283.3 3232.4H1310.9V3260.1H1283.3zM1532.4 3232.4H1560.1V3260.1H1532.4zM344.2 3260.1H371.9V3287.7H344.2zM812.6 3260.1H840.3V3287.7H812.6zM1006.4 3260.1H1034.1V3287.7H1006.4zM1061.8 3260.1H1089.5V3287.7H1061.8zM1477.0 3260.1H1504.7V3287.7H1477.0zM2003.0 3260.1H2030.7V3287.7H2003.0zM508.1 3287.7H535.8V3315.4H508.1zM812.6 3287.7H840.3V3315.4H812.6zM344.2 3315.4H371.9V3343.1H344.2zM1892.3 3315.4H1920.0V3343.1H1892.3zM1975.4 3315.4H2003.0V3343.1H1975.4zM1117.1 3343.1H1144.8V3370.8H1117.1zM1615.5 3343.1H1643.1V3370.8H1615.5zM1975.4 3343.1H2003.0V3370.8H1975.4zM344.2 3370.8H371.9V3398.4H344.2zM1117.1 3370.8H1144.8V3398.4H1117.1zM1394.0 3370.8H1421.7V3398.4H1394.0zM1477.0 3370.8H1504.7V3398.4H1477.0zM1698.5 3370.8H1726.2V3398.4H1698.5zM1975.4 3370.8H2003.0V3398.4H1975.4zM344.2 3398.4H371.9V3426.1H344.2zM840.3 3398.4H868.0V3426.1H840.3zM1477.0 3398.4H1504.7V3426.1H1477.0zM1698.5 3398.4H1726.2V3426.1H1698.5zM618.8 3426.1H646.5V3451.7H618.8zM1061.8 3426.1H1089.5V3451.7H1061.8zM1366.3 3426.1H1394.0V3451.7H1366.3zM812.6 3451.7H840.3V3479.4H812.6zM1006.4 3451.7H1034.1V3479.4H1006.4zM1836.9 3451.7H1864.6V3479.4H1836.9zM1200.2 3479.4H1227.9V3507.1H1200.2zM1836.9 3479.4H1864.6V3507.1H1836.9zM344.2 3507.1H371.9V3534.8H344.2zM344.2 3534.8H371.9V3562.4H344.2zM618.8 3534.8H646.5V3562.4H618.8zM1200.2 3534.8H1227.9V3562.4H1200.2zM1200.2 3562.4H1227.9V3590.1H1200.2zM1587.8 3590.1H1615.5V3617.8H1587.8zM2003.0 3590.1H2030.7V3617.8H2003.0zM1394.0 3617.8H1421.7V3645.5H1394.0zM2003.0 3617.8H2030.7V3645.5H2003.0zM840.3 3645.5H868.0V3673.2H840.3zM1061.8 3645.5H1089.5V3673.2H1061.8zM1587.8 3645.5H1615.5V3673.2H1587.8zM868.0 3673.2H895.7V3700.9H868.0zM1477.0 3673.2H1504.7V3700.9H1477.0zM399.6 3700.9H427.2V3728.6H399.6zM591.2 3700.9H618.8V3728.6H591.2z"/>
<path fill="#ffa800" d="M840.3 2900.3H868.0V2928.0H840.3zM1061.8 2900.3H1089.5V2928.0H1061.8zM1809.2 2900.3H1836.9V2928.0H1809.2zM1532.4 2928.0H1560.1V2955.6H1532.4zM1061.8 2955.6H1089.5V2983.3H1061.8zM1061.8 2983.3H1089.5V3011.0H1061.8zM1227.9 3011.0H1255.6V3038.7H1227.9zM1532.4 3011.0H1560.1V3038.7H1532.4zM1061.8 3038.7H1089.5V3066.3H1061.8zM1532.4 3038.7H1560.1V3066.3H1532.4zM840.3 3066.3H868.0V3094.0H840.3zM1283.3 3066.3H1310.9V3094.0H1283.3zM1532.4 3066.3H1560.1V3094.0H1532.4zM1698.5 3066.3H1726.2V3094.0H1698.5zM1532.4 3094.0H1560.1V3121.7H1532.4zM1836.9 3121.7H1864.6V3149.4H1836.9zM1061.8 3149.4H1089.5V3177.0H1061.8zM1809.2 3149.4H1836.9V3177.0H1809.2zM1809.2 3177.0H1836.9V3204.7H1809.2zM757.3 3204.7H784.9V3232.4H757.3zM1532.4 3204.7H1560.1V3232.4H1532.4zM1836.9 3232.4H1864.6V3260.1H1836.9zM674.2 3260.1H701.9V3287.7H674.2zM1698.5 3260.1H1726.2V3287.7H1698.5zM1283.3 3315.4H1310.9V3343.1H1283.3zM1809.2 3370.8H1836.9V3398.4H1809.2zM1809.2 3398.4H1836.9V3426.1H1809.2zM840.3 3426.1H868.0V3451.7H840.3zM1532.4 3426.1H1560.1V3451.7H1532.4zM840.3 3479.4H868.0V3507.1H840.3zM1061.8 3479.4H1089.5V3507.1H1061.8zM1061.8 3562.4H1089.5V3590.1H1061.8zM1532.4 3562.4H1560.1V3590.1H1532.4zM1809.2 3562.4H1836.9V3590.1H1809.2zM1283.3 3590.1H1310.9V3617.8H1283.3zM1532.4 3590.1H1560.1V3617.8H1532.4zM1698.5 3590.1H1726.2V3617.8H1698.5zM344.2 3617.8H371.9V3645.5H344.2zM1283.3 3617.8H1310.9V3645.5H1283.3zM1698.5 3617.8H1726.2V3645.5H1698.5zM344.2 3645.5H371.9V3673.2H344.2zM674.2 3673.2H701.9V3700.9H674.2zM1698.5 3673.2H1726.2V3700.9H1698.5zM1698.5 3700.9H1726.2V3728.6H1698.5z"/>
<path fill="#5555a6" d="M1006.4 2900.3H1061.8V2928.0H1006.4zM1089.5 2900.3H1117.1V2928.0H1089.5zM1338.6 2900.3H1366.3V2928.0H1338.6zM1504.7 2900.3H1532.4V2928.0H1504.7zM729.6 2928.0H757.3V2955.6H729.6zM1172.5 2928.0H1200.2V2955.6H1172.5zM1615.5 2928.0H1643.1V2955.6H1615.5zM1892.3 2928.0H1920.0V2955.6H1892.3zM427.2 2955.6H454.9V2983.3H427.2zM784.9 2955.6H812.6V2983.3H784.9zM1089.5 2955.6H1117.1V2983.3H1089.5zM1615.5 2955.6H1643.1V2983.3H1615.5zM1892.3 2955.6H1920.0V2983.3H1892.3zM840.3 2983.3H868.0V3011.0H840.3zM978.7 2983.3H1034.1V3011.0H978.7zM1421.7 2983.3H1449.4V3011.0H1421.7zM1560.1 2983.3H1587.8V3011.0H1560.1zM1892.3 2983.3H1920.0V3011.0H1892.3zM784.9 3011.0H812.6V3038.7H784.9zM895.7 3011.0H923.4V3038.7H895.7zM1255.6 3011.0H1283.3V3038.7H1255.6zM1421.7 3011.0H1449.4V3038.7H1421.7zM1670.8 3011.0H1698.5V3038.7H1670.8zM1920.0 3011.0H1947.7V3038.7H1920.0zM371.9 3066.3H399.6V3094.0H371.9zM978.7 3066.3H1061.8V3094.0H978.7zM1089.5 3066.3H1117.1V3094.0H1089.5zM1421.7 3066.3H1449.4V3094.0H1421.7zM1587.8 3066.3H1615.5V3094.0H1587.8zM1643.1 3066.3H1670.8V3094.0H1643.1zM482.6 3094.0H508.1V3121.7H482.6zM535.8 3094.0H563.5V3121.7H535.8zM895.7 3094.0H923.4V3121.7H895.7zM1255.6 3094.0H1283.3V3121.7H1255.6zM1310.9 3094.0H1338.6V3121.7H1310.9zM1975.4 3094.0H2003.0V3121.7H1975.4zM371.9 3121.7H399.6V3149.4H371.9zM1089.5 3121.7H1117.1V3149.4H1089.5zM1310.9 3121.7H1338.6V3149.4H1310.9zM701.9 3149.4H729.6V3177.0H701.9zM868.0 3149.4H923.4V3177.0H868.0zM1504.7 3149.4H1532.4V3177.0H1504.7zM1781.6 3149.4H1809.2V3177.0H1781.6zM535.8 3177.0H563.5V3204.7H535.8zM978.7 3177.0H1034.1V3204.7H978.7zM1255.6 3177.0H1283.3V3204.7H1255.6zM1338.6 3204.7H1366.3V3232.4H1338.6zM1587.8 3204.7H1643.1V3232.4H1587.8zM646.5 3232.4H674.2V3260.1H646.5zM1117.1 3232.4H1144.8V3260.1H1117.1zM1255.6 3232.4H1283.3V3260.1H1255.6zM1310.9 3232.4H1366.3V3260.1H1310.9zM1421.7 3232.4H1449.4V3260.1H1421.7zM1892.3 3232.4H1920.0V3260.1H1892.3zM1089.5 3260.1H1117.1V3287.7H1089.5zM1255.6 3260.1H1283.3V3287.7H1255.6zM1864.6 3260.1H1892.3V3287.7H1864.6zM399.6 3287.7H427.2V3315.4H399.6zM646.5 3287.7H674.2V3315.4H646.5zM701.9 3287.7H729.6V3315.4H701.9zM1089.5 3287.7H1117.1V3315.4H1089.5zM1338.6 3287.7H1366.3V3315.4H1338.6zM1560.1 3287.7H1587.8V3315.4H1560.1zM978.7 3315.4H1006.4V3343.1H978.7zM1421.7 3315.4H1449.4V3343.1H1421.7zM1560.1 3315.4H1587.8V3343.1H1560.1zM1670.8 3315.4H1698.5V3343.1H1670.8zM784.9 3343.1H812.6V3370.8H784.9zM1006.4 3343.1H1034.1V3370.8H1006.4zM1172.5 3343.1H1200.2V3370.8H1172.5zM1643.1 3343.1H1670.8V3370.8H1643.1zM1920.0 3343.1H1947.7V3370.8H1920.0zM1366.3 3370.8H1394.0V3398.4H1366.3zM1643.1 3370.8H1670.8V3398.4H1643.1zM1089.5 3398.4H1117.1V3426.1H1089.5zM1366.3 3398.4H1394.0V3426.1H1366.3zM1643.1 3398.4H1670.8V3426.1H1643.1zM535.8 3426.1H563.5V3451.7H535.8zM729.6 3426.1H757.3V3451.7H729.6zM895.7 3426.1H951.0V3451.7H895.7zM1006.4 3426.1H1034.1V3451.7H1006.4zM1643.1 3426.1H1698.5V3451.7H1643.1zM1892.3 3451.7H1920.0V3479.4H1892.3zM535.8 3479.4H563.5V3507.1H535.8zM646.5 3479.4H674.2V3507.1H646.5zM923.4 3479.4H951.0V3507.1H923.4zM1006.4 3479.4H1034.1V3507.1H1006.4zM1310.9 3479.4H1338.6V3507.1H1310.9zM1421.7 3479.4H1449.4V3507.1H1421.7zM1920.0 3479.4H1947.7V3507.1H1920.0zM646.5 3507.1H674.2V3534.8H646.5zM784.9 3507.1H812.6V3534.8H784.9zM1172.5 3507.1H1200.2V3534.8H1172.5zM1615.5 3507.1H1643.1V3534.8H1615.5zM1753.9 3507.1H1781.6V3534.8H1753.9zM1892.3 3507.1H1920.0V3534.8H1892.3zM1975.4 3507.1H2003.0V3534.8H1975.4zM784.9 3534.8H812.6V3562.4H784.9zM1310.9 3534.8H1338.6V3562.4H1310.9zM1421.7 3534.8H1449.4V3562.4H1421.7zM701.9 3562.4H729.6V3590.1H701.9zM1089.5 3562.4H1117.1V3590.1H1089.5zM1310.9 3562.4H1338.6V3590.1H1310.9zM399.6 3590.1H454.9V3617.8H399.6zM535.8 3590.1H563.5V3617.8H535.8zM646.5 3590.1H674.2V3617.8H646.5zM951.0 3590.1H978.7V3617.8H951.0zM1117.1 3590.1H1144.8V3617.8H1117.1zM1366.3 3590.1H1394.0V3617.8H1366.3zM1753.9 3590.1H1781.6V3617.8H1753.9zM895.7 3617.8H923.4V3645.5H895.7zM1034.1 3617.8H1061.8V3645.5H1034.1zM1089.5 3617.8H1117.1V3645.5H1089.5zM1477.0 3617.8H1504.7V3645.5H1477.0zM1643.1 3617.8H1670.8V3645.5H1643.1zM427.2 3645.5H454.9V3673.2H427.2zM1781.6 3645.5H1809.2V3673.2H1781.6zM1892.3 3645.5H1947.7V3673.2H1892.3zM2003.0 3645.5H2030.7V3673.2H2003.0zM563.5 3673.2H591.2V3700.9H563.5zM1255.6 3673.2H1283.3V3700.9H1255.6zM1504.7 3673.2H1532.4V3700.9H1504.7zM1726.2 3673.2H1753.9V3700.9H1726.2zM1781.6 3673.2H1809.2V3700.9H1781.6zM1892.3 3673.2H1947.7V3700.9H1892.3zM729.6 3700.9H757.3V3728.6H729.6zM1117.1 3700.9H1144.8V3728.6H1117.1zM1255.6 3700.9H1283.3V3728.6H1255.6zM1421.7 3700.9H1449.4V3728.6H1421.7zM1504.7 3700.9H1532.4V3728.6H1504.7zM1781.6 3700.9H1809.2V3728.6H1781.6zM1892.3 3700.9H1920.0V3728.6H1892.3z"/>
<path fill="#3434cc" d="M1255.6 2900.3H1283.3V2928.0H1255.6zM2003.0 2900.3H2030.7V2928.0H2003.0zM399.6 2928.0H427.2V2955.6H399.6zM563.5 2928.0H591.2V2955.6H563.5zM1643.1 2928.0H1670.8V2955.6H1643.1zM1975.4 2928.0H2003.0V2955.6H1975.4zM868.0 2955.6H895.7V2983.3H868.0zM1449.4 2955.6H1477.0V2983.3H1449.4zM1504.7 2955.6H1532.4V2983.3H1504.7zM1864.6 2955.6H1892.3V2983.3H1864.6zM1670.8 2983.3H1698.5V3011.0H1670.8zM1920.0 2983.3H1947.7V3011.0H1920.0zM399.6 3011.0H427.2V3038.7H399.6zM482.6 3011.0H508.1V3038.7H482.6zM535.8 3011.0H563.5V3038.7H535.8zM646.5 3011.0H674.2V3038.7H646.5zM701.9 3011.0H757.3V3038.7H701.9zM1726.2 3011.0H1753.9V3038.7H1726.2zM371.9 3038.7H399.6V3066.3H371.9zM1670.8 3038.7H1698.5V3066.3H1670.8zM1920.0 3038.7H1947.7V3066.3H1920.0zM399.6 3066.3H427.2V3094.0H399.6zM646.5 3066.3H674.2V3094.0H646.5zM784.9 3066.3H812.6V3094.0H784.9zM868.0 3066.3H923.4V3094.0H868.0zM1255.6 3066.3H1283.3V3094.0H1255.6zM1670.8 3066.3H1698.5V3094.0H1670.8zM1864.6 3066.3H1892.3V3094.0H1864.6zM1920.0 3066.3H1947.7V3094.0H1920.0zM371.9 3094.0H399.6V3121.7H371.9zM646.5 3094.0H674.2V3121.7H646.5zM1172.5 3094.0H1200.2V3121.7H1172.5zM1449.4 3094.0H1477.0V3121.7H1449.4zM1726.2 3094.0H1753.9V3121.7H1726.2zM1781.6 3094.0H1809.2V3121.7H1781.6zM701.9 3121.7H729.6V3149.4H701.9zM757.3 3121.7H784.9V3149.4H757.3zM1920.0 3121.7H1947.7V3149.4H1920.0zM371.9 3149.4H399.6V3177.0H371.9zM427.2 3149.4H454.9V3177.0H427.2zM1255.6 3149.4H1283.3V3177.0H1255.6zM1421.7 3149.4H1449.4V3177.0H1421.7zM1034.1 3177.0H1061.8V3204.7H1034.1zM1449.4 3177.0H1477.0V3204.7H1449.4zM1670.8 3177.0H1698.5V3204.7H1670.8zM729.6 3204.7H757.3V3232.4H729.6zM784.9 3204.7H812.6V3232.4H784.9zM1449.4 3204.7H1477.0V3232.4H1449.4zM371.9 3232.4H399.6V3260.1H371.9zM1449.4 3232.4H1477.0V3260.1H1449.4zM1615.5 3232.4H1643.1V3260.1H1615.5zM729.6 3260.1H757.3V3287.7H729.6zM978.7 3260.1H1006.4V3287.7H978.7zM1034.1 3260.1H1061.8V3287.7H1034.1zM1310.9 3260.1H1338.6V3287.7H1310.9zM1975.4 3260.1H2003.0V3287.7H1975.4zM784.9 3287.7H812.6V3315.4H784.9zM978.7 3287.7H1034.1V3315.4H978.7zM1255.6 3287.7H1283.3V3315.4H1255.6zM1892.3 3287.7H1947.7V3315.4H1892.3zM701.9 3315.4H729.6V3343.1H701.9zM1449.4 3315.4H1477.0V3343.1H1449.4zM1781.6 3315.4H1809.2V3343.1H1781.6zM2003.0 3315.4H2030.7V3343.1H2003.0zM371.9 3343.1H399.6V3370.8H371.9zM618.8 3343.1H646.5V3370.8H618.8zM701.9 3343.1H729.6V3370.8H701.9zM1089.5 3343.1H1117.1V3370.8H1089.5zM1366.3 3343.1H1394.0V3370.8H1366.3zM1504.7 3343.1H1532.4V3370.8H1504.7zM1670.8 3343.1H1698.5V3370.8H1670.8zM2003.0 3343.1H2030.7V3370.8H2003.0zM371.9 3370.8H399.6V3398.4H371.9zM1421.7 3370.8H1449.4V3398.4H1421.7zM1920.0 3370.8H1947.7V3398.4H1920.0zM2003.0 3370.8H2030.7V3398.4H2003.0zM371.9 3398.4H399.6V3426.1H371.9zM1310.9 3398.4H1338.6V3426.1H1310.9zM1670.8 3398.4H1698.5V3426.1H1670.8zM1920.0 3398.4H1947.7V3426.1H1920.0zM371.9 3426.1H399.6V3451.7H371.9zM646.5 3426.1H674.2V3451.7H646.5zM701.9 3426.1H729.6V3451.7H701.9zM868.0 3426.1H895.7V3451.7H868.0zM1310.9 3426.1H1338.6V3451.7H1310.9zM1477.0 3426.1H1532.4V3451.7H1477.0zM1892.3 3426.1H1920.0V3451.7H1892.3zM701.9 3451.7H729.6V3479.4H701.9zM784.9 3451.7H812.6V3479.4H784.9zM1338.6 3451.7H1366.3V3479.4H1338.6zM1670.8 3451.7H1698.5V3479.4H1670.8zM1726.2 3451.7H1753.9V3479.4H1726.2zM1781.6 3451.7H1809.2V3479.4H1781.6zM701.9 3479.4H729.6V3507.1H701.9zM1172.5 3479.4H1200.2V3507.1H1172.5zM1504.7 3479.4H1532.4V3507.1H1504.7zM1615.5 3479.4H1643.1V3507.1H1615.5zM1781.6 3479.4H1809.2V3507.1H1781.6zM535.8 3507.1H563.5V3534.8H535.8zM978.7 3507.1H1006.4V3534.8H978.7zM1504.7 3507.1H1532.4V3534.8H1504.7zM1781.6 3507.1H1809.2V3534.8H1781.6zM646.5 3534.8H674.2V3562.4H646.5zM701.9 3534.8H729.6V3562.4H701.9zM895.7 3534.8H923.4V3562.4H895.7zM1172.5 3534.8H1200.2V3562.4H1172.5zM1449.4 3534.8H1477.0V3562.4H1449.4zM1504.7 3534.8H1532.4V3562.4H1504.7zM1670.8 3534.8H1698.5V3562.4H1670.8zM371.9 3562.4H399.6V3590.1H371.9zM895.7 3562.4H923.4V3590.1H895.7zM1172.5 3562.4H1200.2V3590.1H1172.5zM1421.7 3562.4H1477.0V3590.1H1421.7zM1504.7 3562.4H1532.4V3590.1H1504.7zM1670.8 3562.4H1698.5V3590.1H1670.8zM1477.0 3590.1H1532.4V3617.8H1477.0zM1560.1 3590.1H1587.8V3617.8H1560.1zM1726.2 3590.1H1753.9V3617.8H1726.2zM1892.3 3590.1H1920.0V3617.8H1892.3zM1975.4 3590.1H2003.0V3617.8H1975.4zM371.9 3617.8H427.2V3645.5H371.9zM563.5 3617.8H591.2V3645.5H563.5zM757.3 3617.8H784.9V3645.5H757.3zM978.7 3617.8H1034.1V3645.5H978.7zM1421.7 3617.8H1449.4V3645.5H1421.7zM1670.8 3617.8H1698.5V3645.5H1670.8zM1975.4 3617.8H2003.0V3645.5H1975.4zM535.8 3645.5H563.5V3673.2H535.8zM978.7 3645.5H1006.4V3673.2H978.7zM1310.9 3645.5H1338.6V3673.2H1310.9zM563.5 3700.9H591.2V3728.6H563.5zM1643.1 3700.9H1670.8V3728.6H1643.1z"/>
<path fill="#c6c63e" d="M1698.5 2900.3H1726.2V2928.0H1698.5zM1892.3 2900.3H1920.0V2928.0H1892.3zM812.6 2928.0H868.0V2955.6H812.6zM508.1 2955.6H535.8V2983.3H508.1zM1477.0 2955.6H1504.7V2983.3H1477.0zM1587.8 2955.6H1615.5V2983.3H1587.8zM427.2 2983.3H454.9V3011.0H427.2zM1061.8 3011.0H1089.5V3038.7H1061.8zM1117.1 3011.0H1144.8V3038.7H1117.1zM1200.2 3011.0H1227.9V3038.7H1200.2zM591.2 3038.7H618.8V3066.3H591.2zM729.6 3038.7H757.3V3066.3H729.6zM784.9 3038.7H812.6V3066.3H784.9zM951.0 3038.7H978.7V3066.3H951.0zM1117.1 3038.7H1144.8V3066.3H1117.1zM508.1 3066.3H535.8V3094.0H508.1zM923.4 3066.3H951.0V3094.0H923.4zM2003.0 3066.3H2030.7V3094.0H2003.0zM951.0 3094.0H978.7V3121.7H951.0zM1394.0 3094.0H1421.7V3121.7H1394.0zM1477.0 3094.0H1504.7V3121.7H1477.0zM508.1 3121.7H535.8V3149.4H508.1zM812.6 3121.7H840.3V3149.4H812.6zM868.0 3121.7H895.7V3149.4H868.0zM951.0 3121.7H978.7V3149.4H951.0zM1394.0 3121.7H1421.7V3149.4H1394.0zM1587.8 3121.7H1615.5V3149.4H1587.8zM508.1 3149.4H535.8V3177.0H508.1zM563.5 3149.4H591.2V3177.0H563.5zM646.5 3149.4H701.9V3177.0H646.5zM757.3 3149.4H784.9V3177.0H757.3zM1117.1 3149.4H1144.8V3177.0H1117.1zM1449.4 3149.4H1504.7V3177.0H1449.4zM1892.3 3149.4H1920.0V3177.0H1892.3zM757.3 3177.0H784.9V3204.7H757.3zM1117.1 3177.0H1144.8V3204.7H1117.1zM1338.6 3177.0H1366.3V3204.7H1338.6zM1587.8 3177.0H1615.5V3204.7H1587.8zM508.1 3204.7H535.8V3232.4H508.1zM591.2 3204.7H618.8V3232.4H591.2zM1753.9 3204.7H1781.6V3232.4H1753.9zM563.5 3232.4H591.2V3260.1H563.5zM674.2 3232.4H701.9V3260.1H674.2zM812.6 3232.4H840.3V3260.1H812.6zM1227.9 3232.4H1255.6V3260.1H1227.9zM2003.0 3232.4H2030.7V3260.1H2003.0zM563.5 3260.1H591.2V3287.7H563.5zM618.8 3260.1H646.5V3287.7H618.8zM1172.5 3260.1H1200.2V3287.7H1172.5zM1200.2 3287.7H1227.9V3315.4H1200.2zM1366.3 3287.7H1394.0V3315.4H1366.3zM1615.5 3287.7H1643.1V3315.4H1615.5zM508.1 3315.4H535.8V3343.1H508.1zM591.2 3315.4H618.8V3343.1H591.2zM646.5 3315.4H701.9V3343.1H646.5zM757.3 3315.4H784.9V3343.1H757.3zM1366.3 3315.4H1394.0V3343.1H1366.3zM1587.8 3315.4H1615.5V3343.1H1587.8zM591.2 3343.1H618.8V3370.8H591.2zM923.4 3343.1H951.0V3370.8H923.4zM1532.4 3343.1H1560.1V3370.8H1532.4zM923.4 3370.8H951.0V3398.4H923.4zM1283.3 3370.8H1310.9V3398.4H1283.3zM1753.9 3370.8H1781.6V3398.4H1753.9zM729.6 3398.4H784.9V3426.1H729.6zM812.6 3398.4H840.3V3426.1H812.6zM1283.3 3398.4H1310.9V3426.1H1283.3zM1587.8 3398.4H1643.1V3426.1H1587.8zM344.2 3426.1H371.9V3451.7H344.2zM674.2 3426.1H701.9V3451.7H674.2zM1200.2 3426.1H1227.9V3451.7H1200.2zM1753.9 3426.1H1781.6V3451.7H1753.9zM344.2 3451.7H371.9V3479.4H344.2zM591.2 3451.7H618.8V3479.4H591.2zM951.0 3451.7H978.7V3479.4H951.0zM1753.9 3451.7H1781.6V3479.4H1753.9zM508.1 3479.4H535.8V3507.1H508.1zM674.2 3479.4H701.9V3507.1H674.2zM1587.8 3479.4H1615.5V3507.1H1587.8zM591.2 3507.1H618.8V3534.8H591.2zM1227.9 3507.1H1255.6V3534.8H1227.9zM1394.0 3507.1H1421.7V3534.8H1394.0zM1726.2 3507.1H1753.9V3534.8H1726.2zM1864.6 3507.1H1892.3V3534.8H1864.6zM674.2 3534.8H701.9V3562.4H674.2zM1034.1 3534.8H1061.8V3562.4H1034.1zM1283.3 3534.8H1310.9V3562.4H1283.3zM1477.0 3534.8H1504.7V3562.4H1477.0zM1587.8 3534.8H1615.5V3562.4H1587.8zM344.2 3562.4H371.9V3590.1H344.2zM618.8 3562.4H646.5V3590.1H618.8zM812.6 3562.4H840.3V3590.1H812.6zM951.0 3562.4H978.7V3590.1H951.0zM1283.3 3562.4H1310.9V3590.1H1283.3zM591.2 3590.1H618.8V3617.8H591.2zM895.7 3590.1H923.4V3617.8H895.7zM1394.0 3590.1H1421.7V3617.8H1394.0zM1753.9 3617.8H1781.6V3645.5H1753.9zM399.6 3645.5H427.2V3673.2H399.6zM454.9 3645.5H482.6V3673.2H454.9zM591.2 3645.5H618.8V3673.2H591.2zM757.3 3645.5H784.9V3673.2H757.3zM1006.4 3645.5H1034.1V3673.2H1006.4zM1394.0 3645.5H1421.7V3673.2H1394.0zM1864.6 3645.5H1892.3V3673.2H1864.6zM1975.4 3645.5H2003.0V3673.2H1975.4zM840.3 3673.2H868.0V3700.9H840.3zM923.4 3673.2H951.0V3700.9H923.4zM1753.9 3673.2H1781.6V3700.9H1753.9zM508.1 3700.9H535.8V3728.6H508.1zM1338.6 3700.9H1366.3V3728.6H1338.6zM1394.0 3700.9H1421.7V3728.6H1394.0zM1615.5 3700.9H1643.1V3728.6H1615.5z"/>
<path fill="#ff0000" d="M1283.3 2928.0H1310.9V2955.6H1283.3zM344.2 2955.6H371.9V2983.3H344.2zM1283.3 2955.6H1310.9V2983.3H1283.3zM1698.5 2955.6H1726.2V2983.3H1698.5zM344.2 3287.7H371.9V3315.4H344.2zM674.2 3287.7H701.9V3315.4H674.2zM1061.8 3287.7H1089.5V3315.4H1061.8zM1532.4 3645.5H1560.1V3673.2H1532.4zM1061.8 3673.2H1089.5V3700.9H1061.8z"/>
<path fill="#ff5500" d="M1836.9 2928.0H1864.6V2955.6H1836.9zM1532.4 2983.3H1560.1V3011.0H1532.4zM674.2 3066.3H701.9V3094.0H674.2zM1532.4 3121.7H1560.1V3149.4H1532.4zM1061.8 3177.0H1089.5V3204.7H1061.8zM1836.9 3260.1H1864.6V3287.7H1836.9zM1283.3 3287.7H1310.9V3315.4H1283.3zM1532.4 3287.7H1560.1V3315.4H1532.4zM1809.2 3287.7H1836.9V3315.4H1809.2zM1532.4 3451.7H1560.1V3479.4H1532.4zM1809.2 3590.1H1864.6V3617.8H1809.2z"/></g>
<path d="M2030 2914.1H2040M2030 2941.8H2040M2030 2969.5H2040M2030 2997.2H2040M2030 3024.8H2040M2030 3052.5H2040M2030 3080.2H2040M2030 3107.9H2040M2030 3135.5H2040M2030 3163.2H2040M2030 3190.9H2040M2030 3218.6H2040M2030 3246.2H2040M2030 3273.9H2040M2030 3301.6H2040M2030 3329.2H2040M2030 3356.9H2040M2030 3384.6H2040M2030 3412.3H2040M2030 3438.9H2040M2030 3465.5H2040M2030 3493.2H2040M2030 3520.9H2040M2030 3548.6H2040M2030 3576.3H2040M2030 3604.0H2040M2030 3631.7H2040M2030 3659.3H2040M2030 3687.0H2040M2030 3714.7H2040" stroke="#555" stroke-width="1.5" fill="none"/>
<text x="2046.6" y="2923.8" class="rl">Ty-BatCoV HKU4</text>
<text x="2046.6" y="2951.5" class="rl">Mi-BatCoV 1A</text>
<text x="2046.6" y="2979.2" class="rl">Mi-BatCoV 1B</text>
<text x="2046.6" y="3006.9" class="rl">Sc-BatCoV 512</text>
<text x="2046.6" y="3034.5" class="rl">IBV</text>
<text x="2046.6" y="3062.2" class="rl">Mi-BatCoV HKU8</text>
<text x="2046.6" y="3089.9" class="rl">Rh-BatCovHKU2</text>
<text x="2046.6" y="3117.6" class="rl">TCoV</text>
<text x="2046.6" y="3145.2" class="rl">Ro-BatCoV HKU9</text>
<text x="2046.6" y="3172.9" class="rl">BCoV</text>
<text transform="translate(2047.7,3198.8) scale(1.025,1)" class="rl red">MERS-CoV</text>
<text x="2046.6" y="3228.3" class="rl">BuCoV HKU11</text>
<text x="2046.6" y="3255.9" class="rl">MunCoV HKU13</text>
<text x="2046.6" y="3283.6" class="rl">ThCoV HKU12</text>
<text transform="translate(2048.5,3309.7) scale(1.055,1)" class="rl red">HCoV-NL63</text>
<text x="2046.6" y="3338.9" class="rl">Pi-BatCoV HKU5</text>
<text transform="translate(2048.6,3364.8) scale(1.034,1)" class="rl red">SARS-CoV-2</text>
<text transform="translate(2048.6,3398.0) scale(0.998,1)" class="rl red">SARSr-CoV</text>
<text x="2046.6" y="3422.0" class="rl">SARSr-Rh-BatCoV HKU3</text>
<text x="2046.6" y="3448.6" class="rl">SW1</text>
<text x="2046.6" y="3475.2" class="rl">PEDV</text>
<text x="2046.6" y="3502.9" class="rl">ECoV</text>
<text x="2046.6" y="3530.6" class="rl">MHV</text>
<text transform="translate(2048.9,3557.8) scale(1.050,1)" class="rl red">HCoV-OC43</text>
<text x="2046.6" y="3586.0" class="rl">PHEV</text>
<text transform="translate(2049.8,3613.3) scale(1.035,1)" class="rl red">HCoV-HKU1</text>
<text transform="translate(2049.2,3638.8) scale(1.046,1)" class="rl red">HCoV-229E</text>
<text x="2046.6" y="3669.0" class="rl">FIPV</text>
<text x="2046.6" y="3696.7" class="rl">PRCV</text>
<text x="2046.6" y="3724.4" class="rl">TGEV</text>
<path d="M274.9 3729.6V3738.6M302.6 3729.6V3738.6M330.3 3729.6V3738.6M358.0 3729.6V3738.6M385.7 3729.6V3738.6M413.4 3729.6V3738.6M441.1 3729.6V3738.6M468.8 3729.6V3738.6M495.4 3729.6V3738.6M521.9 3729.6V3738.6M549.6 3729.6V3738.6M577.3 3729.6V3738.6M605.0 3729.6V3738.6M632.7 3729.6V3738.6M660.4 3729.6V3738.6M688.0 3729.6V3738.6M715.7 3729.6V3738.6M743.4 3729.6V3738.6M771.1 3729.6V3738.6M798.8 3729.6V3738.6M826.5 3729.6V3738.6M854.1 3729.6V3738.6M881.8 3729.6V3738.6M909.5 3729.6V3738.6M937.2 3729.6V3738.6M964.9 3729.6V3738.6M992.6 3729.6V3738.6M1020.3 3729.6V3738.6M1047.9 3729.6V3738.6M1075.6 3729.6V3738.6M1103.3 3729.6V3738.6M1131.0 3729.6V3738.6M1158.7 3729.6V3738.6M1186.4 3729.6V3738.6M1214.0 3729.6V3738.6M1241.7 3729.6V3738.6M1269.4 3729.6V3738.6M1297.1 3729.6V3738.6M1324.8 3729.6V3738.6M1352.5 3729.6V3738.6M1380.1 3729.6V3738.6M1407.8 3729.6V3738.6M1435.5 3729.6V3738.6M1463.2 3729.6V3738.6M1490.9 3729.6V3738.6M1518.6 3729.6V3738.6M1546.2 3729.6V3738.6M1573.9 3729.6V3738.6M1601.6 3729.6V3738.6M1629.3 3729.6V3738.6M1657.0 3729.6V3738.6M1684.7 3729.6V3738.6M1712.4 3729.6V3738.6M1740.0 3729.6V3738.6M1767.7 3729.6V3738.6M1795.4 3729.6V3738.6M1823.1 3729.6V3738.6M1850.8 3729.6V3738.6M1878.5 3729.6V3738.6M1906.1 3729.6V3738.6M1933.8 3729.6V3738.6M1961.5 3729.6V3738.6M1989.2 3729.6V3738.6M2016.9 3729.6V3738.6" stroke="#888" stroke-width="2" fill="none"/>
<text transform="translate(285.9,3747.1) rotate(-90)" class="cl">UGA</text>
<text transform="translate(313.6,3747.1) rotate(-90)" class="cl">UAG</text>
<text transform="translate(341.3,3747.1) rotate(-90)" class="cl">UAA</text>
<text transform="translate(369.0,3747.1) rotate(-90)" class="cl">GCU</text>
<text transform="translate(396.7,3747.1) rotate(-90)" class="cl">GCG</text>
<text transform="translate(424.4,3747.1) rotate(-90)" class="cl">GCC</text>
<text transform="translate(452.1,3747.1) rotate(-90)" class="cl">GCA</text>
<text transform="translate(479.8,3747.1) rotate(-90)" class="cl">UGU</text>
<text transform="translate(506.4,3747.1) rotate(-90)" class="cl">UGC</text>
<text transform="translate(532.9,3747.1) rotate(-90)" class="cl">GAU</text>
<text transform="translate(560.6,3747.1) rotate(-90)" class="cl">GAC</text>
<text transform="translate(588.3,3747.1) rotate(-90)" class="cl">GAG</text>
<text transform="translate(616.0,3747.1) rotate(-90)" class="cl">GAA</text>
<text transform="translate(643.7,3747.1) rotate(-90)" class="cl">UUU</text>
<text transform="translate(671.4,3747.1) rotate(-90)" class="cl">UUC</text>
<text transform="translate(699.0,3747.1) rotate(-90)" class="cl">GGU</text>
<text transform="translate(726.7,3747.1) rotate(-90)" class="cl">GGG</text>
<text transform="translate(754.4,3747.1) rotate(-90)" class="cl">GGC</text>
<text transform="translate(782.1,3747.1) rotate(-90)" class="cl">GGA</text>
<text transform="translate(809.8,3747.1) rotate(-90)" class="cl">CAC</text>
<text transform="translate(837.5,3747.1) rotate(-90)" class="cl">CAU</text>
<text transform="translate(865.1,3747.1) rotate(-90)" class="cl">AUU</text>
<text transform="translate(892.8,3747.1) rotate(-90)" class="cl">AUC</text>
<text transform="translate(920.5,3747.1) rotate(-90)" class="cl">AUA</text>
<text transform="translate(948.2,3747.1) rotate(-90)" class="cl">AAG</text>
<text transform="translate(975.9,3747.1) rotate(-90)" class="cl">AAA</text>
<text transform="translate(1003.6,3747.1) rotate(-90)" class="cl">CUA</text>
<text transform="translate(1031.3,3747.1) rotate(-90)" class="cl">CUC</text>
<text transform="translate(1058.9,3747.1) rotate(-90)" class="cl">CUG</text>
<text transform="translate(1086.6,3747.1) rotate(-90)" class="cl">CUU</text>
<text transform="translate(1114.3,3747.1) rotate(-90)" class="cl">UUA</text>
<text transform="translate(1142.0,3747.1) rotate(-90)" class="cl">UUG</text>
<text transform="translate(1169.7,3747.1) rotate(-90)" class="cl">AUG</text>
<text transform="translate(1197.4,3747.1) rotate(-90)" class="cl">AAC</text>
<text transform="translate(1225.0,3747.1) rotate(-90)" class="cl">AAU</text>
<text transform="translate(1252.7,3747.1) rotate(-90)" class="cl">CCA</text>
<text transform="translate(1280.4,3747.1) rotate(-90)" class="cl">CCC</text>
<text transform="translate(1308.1,3747.1) rotate(-90)" class="cl">CCU</text>
<text transform="translate(1335.8,3747.1) rotate(-90)" class="cl">CCG</text>
<text transform="translate(1363.5,3747.1) rotate(-90)" class="cl">CAA</text>
<text transform="translate(1391.1,3747.1) rotate(-90)" class="cl">CAG</text>
<text transform="translate(1418.8,3747.1) rotate(-90)" class="cl">AGA</text>
<text transform="translate(1446.5,3747.1) rotate(-90)" class="cl">AGG</text>
<text transform="translate(1474.2,3747.1) rotate(-90)" class="cl">CGA</text>
<text transform="translate(1501.9,3747.1) rotate(-90)" class="cl">CGC</text>
<text transform="translate(1529.6,3747.1) rotate(-90)" class="cl">CGG</text>
<text transform="translate(1557.2,3747.1) rotate(-90)" class="cl">CGU</text>
<text transform="translate(1584.9,3747.1) rotate(-90)" class="cl">AGC</text>
<text transform="translate(1612.6,3747.1) rotate(-90)" class="cl">AGU</text>
<text transform="translate(1640.3,3747.1) rotate(-90)" class="cl">UCA</text>
<text transform="translate(1668.0,3747.1) rotate(-90)" class="cl">UCC</text>
<text transform="translate(1695.7,3747.1) rotate(-90)" class="cl">UCG</text>
<text transform="translate(1723.4,3747.1) rotate(-90)" class="cl">UCU</text>
<text transform="translate(1751.0,3747.1) rotate(-90)" class="cl">ACC</text>
<text transform="translate(1778.7,3747.1) rotate(-90)" class="cl">ACA</text>
<text transform="translate(1806.4,3747.1) rotate(-90)" class="cl">ACG</text>
<text transform="translate(1834.1,3747.1) rotate(-90)" class="cl">ACU</text>
<text transform="translate(1861.8,3747.1) rotate(-90)" class="cl">GUU</text>
<text transform="translate(1889.5,3747.1) rotate(-90)" class="cl">GUG</text>
<text transform="translate(1917.1,3747.1) rotate(-90)" class="cl">GUC</text>
<text transform="translate(1944.8,3747.1) rotate(-90)" class="cl">GUA</text>
<text transform="translate(1972.5,3747.1) rotate(-90)" class="cl">UGG</text>
<text transform="translate(2000.2,3747.1) rotate(-90)" class="cl">UAC</text>
<text transform="translate(2027.9,3747.1) rotate(-90)" class="cl">UAU</text>
<path d="M153.1 2941.8L153.1 2969.5M153.1 2941.8L239.7 2941.8M153.1 2969.5L239.7 2969.5M97.9 2914.1L97.9 2955.6M97.9 2914.1L239.7 2914.1M97.9 2955.6L153.1 2955.6M121.6 3024.8L121.6 3052.5M121.6 3024.8L239.7 3024.8M121.6 3052.5L239.7 3052.5M97.5 2997.2L97.5 3038.7M97.5 2997.2L239.7 2997.2M97.5 3038.7L121.6 3038.7M86.6 2934.9L86.6 3017.9M86.6 2934.9L97.9 2934.9M86.6 3017.9L97.5 3017.9M154.6 3163.2L154.6 3190.9M154.6 3163.2L239.7 3163.2M154.6 3190.9L239.7 3190.9M132.7 3246.2L132.7 3273.9M132.7 3246.2L239.7 3246.2M132.7 3273.9L239.7 3273.9M128.9 3218.6L128.9 3260.1M128.9 3218.6L239.7 3218.6M128.9 3260.1L132.7 3260.1M110.7 3177.0L110.7 3239.3M110.7 3177.0L154.6 3177.0M110.7 3239.3L128.9 3239.3M104.8 3135.5L104.8 3208.2M104.8 3135.5L239.7 3135.5M104.8 3208.2L110.7 3208.2M97.5 3107.9L97.5 3171.9M97.5 3107.9L239.7 3107.9M97.5 3171.9L104.8 3171.9M93.0 3080.2L93.0 3139.9M93.0 3080.2L239.7 3080.2M93.0 3139.9L97.5 3139.9M199.1 3384.6L199.1 3412.3M199.1 3384.6L239.7 3384.6M199.1 3412.3L239.7 3412.3M186.0 3356.9L186.0 3398.4M186.0 3356.9L239.7 3356.9M186.0 3398.4L199.1 3398.4M136.7 3329.2L136.7 3377.7M136.7 3329.2L239.7 3329.2M136.7 3377.7L186.0 3377.7M194.5 3548.6L194.5 3576.3M194.5 3548.6L239.7 3548.6M194.5 3576.3L239.7 3576.3M165.9 3520.9L165.9 3562.4M165.9 3520.9L239.7 3520.9M165.9 3562.4L194.5 3562.4M164.1 3493.2L164.1 3541.7M164.1 3493.2L239.7 3493.2M164.1 3541.7L165.9 3541.7M130.7 3465.5L130.7 3517.5M130.7 3465.5L239.7 3465.5M130.7 3517.5L164.1 3517.5M121.6 3438.9L121.6 3491.5M121.6 3438.9L239.7 3438.9M121.6 3491.5L130.7 3491.5M112.1 3353.5L112.1 3465.2M112.1 3353.5L136.7 3353.5M112.1 3465.2L121.6 3465.2M186.3 3687.0L186.3 3714.7M186.3 3687.0L239.7 3687.0M186.3 3714.7L239.7 3714.7M139.8 3659.3L139.8 3700.9M139.8 3659.3L239.7 3659.3M139.8 3700.9L186.3 3700.9M127.1 3631.7L127.1 3680.1M127.1 3631.7L239.7 3631.7M127.1 3680.1L139.8 3680.1M103.0 3604.0L103.0 3655.9M103.0 3604.0L239.7 3604.0M103.0 3655.9L127.1 3655.9M91.2 3409.3L91.2 3629.9M91.2 3409.3L112.1 3409.3M91.2 3629.9L103.0 3629.9M58.7 3301.6L58.7 3519.6M58.7 3301.6L239.7 3301.6M58.7 3519.6L91.2 3519.6M49.2 3110.0L49.2 3410.6M49.2 3110.0L93.0 3110.0M49.2 3410.6L58.7 3410.6M47.4 2976.4L47.4 3260.3M47.4 2976.4L86.6 2976.4M47.4 3260.3L49.2 3260.3" stroke="#333" stroke-width="1.6" fill="none"/>
<path d="M53.2 3730.1H239.7M239.7 3730.1V3740.1M208.6 3730.1V3740.1M177.5 3730.1V3740.1M146.4 3730.1V3740.1M115.4 3730.1V3740.1M84.3 3730.1V3740.1M53.2 3730.1V3740.1" stroke="#333" stroke-width="1.6" fill="none"/>
<text x="239.7" y="3760.7" class="al">0</text><text x="208.6" y="3760.7" class="al">1</text><text x="177.5" y="3760.7" class="al">2</text><text x="146.4" y="3760.7" class="al">3</text><text x="115.4" y="3760.7" class="al">4</text><text x="84.3" y="3760.7" class="al">5</text><text x="53.2" y="3760.7" class="al">6</text>
<text x="144.5" y="3796.1" class="en">Euclidean distance</text>
<defs>
<linearGradient id="g1" x1="0" x2="1" y1="0" y2="0"><stop offset="0" stop-color="#0000ff"/><stop offset="1" stop-color="#2626d6"/></linearGradient>
<linearGradient id="g2" x1="0" x2="1" y1="0" y2="0"><stop offset="0" stop-color="#4242c0"/><stop offset="0.16" stop-color="#606090"/><stop offset="0.27" stop-color="#787878"/><stop offset="0.39" stop-color="#a0a050"/><stop offset="0.52" stop-color="#b8b840"/><stop offset="0.64" stop-color="#d8d830"/><stop offset="0.766" stop-color="#ffff00"/><stop offset="1" stop-color="#ffd000"/></linearGradient>
<linearGradient id="g3" x1="0" x2="1" y1="0" y2="0"><stop offset="0" stop-color="#ffb000"/><stop offset="0.32" stop-color="#ff8000"/><stop offset="0.65" stop-color="#ff5000"/><stop offset="1" stop-color="#ff0000"/></linearGradient>
</defs>
<rect x="1054.2" y="1121.5" width="18.5" height="29.3" fill="url(#g1)"/>
<rect x="1074.8" y="1121.5" width="92.3" height="29.3" fill="url(#g2)"/>
<rect x="1169.1" y="1121.5" width="68" height="29.3" fill="url(#g3)"/>
<path d="M1054.5 1151.8V1161.3M1077.3 1151.8V1161.3M1099.7 1151.8V1161.3M1121.9 1151.8V1161.3M1145.5 1151.8V1161.3M1167.9 1151.8V1161.3M1190.8 1151.8V1161.3M1213.0 1151.8V1161.3M1236.1 1151.8V1161.3" stroke="#333" stroke-width="1.4" fill="none"/>
<text transform="translate(1059.8,1170.8) rotate(-90) scale(0.92,1)" class="cb">0,00784</text>
<text transform="translate(1082.6,1170.8) rotate(-90) scale(0.92,1)" class="cb">0,50980</text>
<text transform="translate(1105.0,1170.8) rotate(-90) scale(0.92,1)" class="cb">0,99608</text>
<text transform="translate(1127.2,1170.8) rotate(-90) scale(0.92,1)" class="cb">1,49804</text>
<text transform="translate(1150.8,1170.8) rotate(-90) scale(0.92,1)" class="cb">2,00000</text>
<text transform="translate(1173.2,1170.8) rotate(-90) scale(0.92,1)" class="cb">2,50196</text>
<text transform="translate(1196.1,1170.8) rotate(-90) scale(0.92,1)" class="cb">3,00392</text>
<text transform="translate(1218.3,1170.8) rotate(-90) scale(0.92,1)" class="cb">3,49020</text>
<text transform="translate(1241.4,1170.8) rotate(-90) scale(0.92,1)" class="cb">3,99216</text>
<rect x="1054.2" y="2559.8" width="18.5" height="29.3" fill="url(#g1)"/>
<rect x="1074.8" y="2559.8" width="92.3" height="29.3" fill="url(#g2)"/>
<rect x="1169.1" y="2559.8" width="68" height="29.3" fill="url(#g3)"/>
<path d="M1054.5 2590.1V2599.6M1077.3 2590.1V2599.6M1099.7 2590.1V2599.6M1121.9 2590.1V2599.6M1145.5 2590.1V2599.6M1167.9 2590.1V2599.6M1190.8 2590.1V2599.6M1213.0 2590.1V2599.6M1236.1 2590.1V2599.6" stroke="#333" stroke-width="1.4" fill="none"/>
<text transform="translate(1059.8,2609.1) rotate(-90) scale(0.92,1)" class="cb">0,00784</text>
<text transform="translate(1082.6,2609.1) rotate(-90) scale(0.92,1)" class="cb">0,50980</text>
<text transform="translate(1105.0,2609.1) rotate(-90) scale(0.92,1)" class="cb">0,99608</text>
<text transform="translate(1127.2,2609.1) rotate(-90) scale(0.92,1)" class="cb">1,49804</text>
<text transform="translate(1150.8,2609.1) rotate(-90) scale(0.92,1)" class="cb">2,00000</text>
<text transform="translate(1173.2,2609.1) rotate(-90) scale(0.92,1)" class="cb">2,50196</text>
<text transform="translate(1196.1,2609.1) rotate(-90) scale(0.92,1)" class="cb">3,00392</text>
<text transform="translate(1218.3,2609.1) rotate(-90) scale(0.92,1)" class="cb">3,49020</text>
<text transform="translate(1241.4,2609.1) rotate(-90) scale(0.92,1)" class="cb">3,99216</text>
<rect x="1054.2" y="3999.0" width="18.5" height="29.3" fill="url(#g1)"/>
<rect x="1074.8" y="3999.0" width="92.3" height="29.3" fill="url(#g2)"/>
<rect x="1169.1" y="3999.0" width="68" height="29.3" fill="url(#g3)"/>
<path d="M1054.5 4029.3V4038.8M1077.3 4029.3V4038.8M1099.7 4029.3V4038.8M1121.9 4029.3V4038.8M1145.5 4029.3V4038.8M1167.9 4029.3V4038.8M1190.8 4029.3V4038.8M1213.0 4029.3V4038.8M1236.1 4029.3V4038.8" stroke="#333" stroke-width="1.4" fill="none"/>
<text transform="translate(1059.8,4048.3) rotate(-90) scale(0.92,1)" class="cb">0,00663</text>
<text transform="translate(1082.6,4048.3) rotate(-90) scale(0.92,1)" class="cb">0,43137</text>
<text transform="translate(1105.0,4048.3) rotate(-90) scale(0.92,1)" class="cb">0,84284</text>
<text transform="translate(1127.2,4048.3) rotate(-90) scale(0.92,1)" class="cb">1,26757</text>
<text transform="translate(1150.8,4048.3) rotate(-90) scale(0.92,1)" class="cb">1,69231</text>
<text transform="translate(1173.2,4048.3) rotate(-90) scale(0.92,1)" class="cb">2,11705</text>
<text transform="translate(1196.1,4048.3) rotate(-90) scale(0.92,1)" class="cb">2,54178</text>
<text transform="translate(1218.3,4048.3) rotate(-90) scale(0.92,1)" class="cb">2,96325</text>
<text transform="translate(1241.4,4048.3) rotate(-90) scale(0.92,1)" class="cb">3,37799</text>
<text transform="translate(1329.5,1385) scale(1.038,1)" class="ti">Gene E</text>
<text transform="translate(1329.5,2824) scale(1.049,1)" class="ti">Gene M</text>
<text transform="translate(1330,4263.2) scale(1.073,1)" class="ti">Gene N</text>
</svg>
</body></html>
